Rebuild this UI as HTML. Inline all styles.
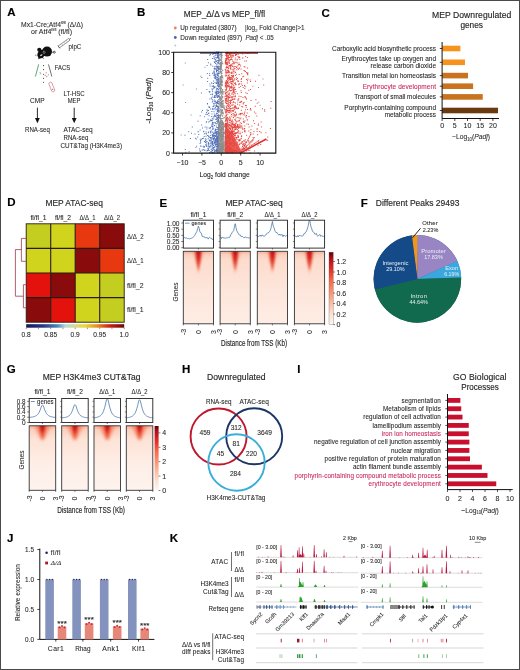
<!DOCTYPE html>
<html><head><meta charset="utf-8"><style>
html,body{margin:0;padding:0;background:#fff;}
svg{display:block;will-change:transform;font-family:"Liberation Sans", sans-serif;}
</style></head><body>
<svg width="520" height="670" viewBox="0 0 520 670" font-family="Liberation Sans, sans-serif" fill="#262626">
<rect x="0.00" y="0.00" width="520.00" height="670.00" fill="#fff" />
<text x="7.2" y="16.0" font-size="11.5" fill="#000" font-weight="bold"  stroke="#000" stroke-width="0.15">A</text>
<text x="21" y="26.5" font-size="6.9" fill="#2b2b2b" textLength="62" lengthAdjust="spacingAndGlyphs" stroke="#2b2b2b" stroke-width="0.08">Mx1-Cre;Atf4<tspan font-size="3.8" dy="-2.6">fl/fl</tspan><tspan dy="2.6"> (Δ/Δ)</tspan></text>
<text x="31" y="33.5" font-size="6.9" fill="#2b2b2b" textLength="41" lengthAdjust="spacingAndGlyphs" stroke="#2b2b2b" stroke-width="0.08">or Atf4<tspan font-size="3.8" dy="-2.6">fl/fl</tspan><tspan dy="2.6"> (fl/fl)</tspan></text>
<circle cx="47.0" cy="51.6" r="5.0" fill="#111"/>
<ellipse cx="41.2" cy="54.0" rx="3.6" ry="4.3" fill="#111" transform="rotate(25 41.2 54)"/>
<circle cx="39.3" cy="49.8" r="2.1" fill="#111"/>
<path d="M38.5,55 L38.3,59.3 L42,57.5 Z" fill="#111" />
<ellipse cx="41.3" cy="55.2" rx="1.3" ry="0.7" fill="#ddd" transform="rotate(-30 41.3 55.2)"/>
<path d="M44,50.8 l1.3,1.3 l-1,1.6 l-1.4,-1.2 z" fill="none" stroke="#ddd" stroke-width="0.5" />
<circle cx="54.3" cy="52.2" r="1.0" fill="none" stroke="#111" stroke-width="0.7"/>
<line x1="52.00" y1="52.20" x2="53.30" y2="52.20" stroke="#111" stroke-width="0.6" />
<circle cx="35.8" cy="55.3" r="0.9" fill="#aaa"/>
<circle cx="43.5" cy="58.5" r="0.7" fill="#999"/>
<g transform="translate(64.5,42.8) rotate(-36)"><rect x="-7" y="-1.1" width="13" height="2.2" fill="none" stroke="#777" stroke-width="0.7"/><line x1="6" y1="0" x2="8" y2="0" stroke="#444" stroke-width="0.6"/><line x1="-7" y1="-1.8" x2="-7" y2="1.8" stroke="#444" stroke-width="0.6"/><line x1="-3" y1="-1.1" x2="-3" y2="1.1" stroke="#888" stroke-width="0.4"/><line x1="0" y1="-1.1" x2="0" y2="1.1" stroke="#888" stroke-width="0.4"/><line x1="3" y1="-1.1" x2="3" y2="1.1" stroke="#888" stroke-width="0.4"/></g>
<text x="68.6" y="49.0" font-size="6.9" textLength="12.7" lengthAdjust="spacingAndGlyphs"  stroke="#2b2b2b" stroke-width="0.08">plpC</text>
<text x="54.8" y="70.4" font-size="6.9" textLength="15.3" lengthAdjust="spacingAndGlyphs"  stroke="#2b2b2b" stroke-width="0.08">FACS</text>
<line x1="38.70" y1="64.40" x2="35.40" y2="76.50" stroke="#3a8a5a" stroke-width="0.8" />
<line x1="48.50" y1="64.40" x2="51.80" y2="76.50" stroke="#333" stroke-width="0.7" />
<circle cx="43.6" cy="65.6" r="0.55" fill="#222"/>
<circle cx="43.6" cy="69.6" r="0.55" fill="#222"/>
<circle cx="43.6" cy="74.2" r="0.55" fill="#222"/>
<circle cx="43.6" cy="78.3" r="0.55" fill="#222"/>
<circle cx="43.6" cy="82.3" r="0.55" fill="#222"/>
<circle cx="46.2" cy="72.8" r="0.55" fill="#c0506a"/>
<circle cx="48.3" cy="74.8" r="0.55" fill="#c0506a"/>
<circle cx="46.8" cy="76.6" r="0.55" fill="#c0506a"/>
<circle cx="45.2" cy="75.2" r="0.55" fill="#c0506a"/>
<path d="M39.5,72.5 l1.5,0.5 l-1,1.5" fill="none" stroke="#3a8a5a" stroke-width="0.5" />
<g transform="translate(51.8,87) rotate(-22)"><rect x="-1.6" y="-5" width="3.2" height="10" rx="1.2" fill="none" stroke="#c07080" stroke-width="0.6"/><circle cx="0" cy="2.6" r="0.6" fill="#c0506a"/></g>
<text x="63.5" y="95.5" font-size="6.9" textLength="21.1" lengthAdjust="spacingAndGlyphs"  stroke="#2b2b2b" stroke-width="0.08">LT-HSC</text>
<text x="30.0" y="102.9" font-size="6.9" textLength="14.5" lengthAdjust="spacingAndGlyphs"  stroke="#2b2b2b" stroke-width="0.08">CMP</text>
<text x="67.7" y="102.9" font-size="6.9" textLength="12.7" lengthAdjust="spacingAndGlyphs"  stroke="#2b2b2b" stroke-width="0.08">MEP</text>
<line x1="37.40" y1="107.70" x2="37.40" y2="119.00" stroke="#111" stroke-width="0.9" />
<path d="M35.0,118 L39.8,118 L37.4,123.2 Z" fill="#111" />
<line x1="74.20" y1="107.70" x2="74.20" y2="119.00" stroke="#111" stroke-width="0.9" />
<path d="M71.8,118 L76.60000000000001,118 L74.2,123.2 Z" fill="#111" />
<text x="25.0" y="132.3" font-size="6.9" textLength="24.8" lengthAdjust="spacingAndGlyphs"  stroke="#2b2b2b" stroke-width="0.08">RNA-seq</text>
<text x="63.5" y="132.3" font-size="6.9" textLength="29.2" lengthAdjust="spacingAndGlyphs"  stroke="#2b2b2b" stroke-width="0.08">ATAC-seq</text>
<text x="63.5" y="140.2" font-size="6.9" textLength="24.8" lengthAdjust="spacingAndGlyphs"  stroke="#2b2b2b" stroke-width="0.08">RNA-seq</text>
<text x="60.5" y="148.3" font-size="6.9" textLength="61.5" lengthAdjust="spacingAndGlyphs"  stroke="#2b2b2b" stroke-width="0.08">CUT&amp;Tag (H3K4me3)</text>
<text x="137.0" y="16.0" font-size="11.5" fill="#000" font-weight="bold"  stroke="#000" stroke-width="0.15">B</text>
<text x="183.8" y="16.7" font-size="8.6" textLength="81.4" lengthAdjust="spacingAndGlyphs"  stroke="#2b2b2b" stroke-width="0.15">MEP_Δ/Δ vs MEP_fl/fl</text>
<circle cx="175.3" cy="28" r="1.4" fill="#f08050"/>
<circle cx="175.3" cy="37.5" r="1.4" fill="#4a64b0"/>
<circle cx="175.3" cy="45.6" r="1.0" fill="#c8c0d8"/>
<text x="180.2" y="30.3" font-size="6.4" textLength="56.5" lengthAdjust="spacing"  stroke="#2b2b2b" stroke-width="0.08">Up regulated (3807)</text>
<text x="180.2" y="39.8" font-size="6.4" textLength="62.0" lengthAdjust="spacing"  stroke="#2b2b2b" stroke-width="0.08">Down regulated (897)</text>
<text x="245" y="30.3" font-size="6.4" fill="#2b2b2b" textLength="59.6" lengthAdjust="spacingAndGlyphs" stroke="#2b2b2b" stroke-width="0.08">|log<tspan font-size="4" dy="1.5">2</tspan><tspan dy="-1.5"> Fold Change|&gt;1</tspan></text>
<text x="245.4" y="39.8" font-size="6.4" fill="#2b2b2b" textLength="28.4" lengthAdjust="spacingAndGlyphs" stroke="#2b2b2b" stroke-width="0.08"><tspan font-style="italic">Padj</tspan> &lt; .05</text>
<g>
<path d="M223.3 145.5h1.0v1.0h-1.0zM219.8 100.3h1.0v1.0h-1.0zM219.4 144.1h1.0v1.0h-1.0zM220.4 149.3h1.0v1.0h-1.0zM219.0 58.2h1.0v1.0h-1.0zM220.3 124.9h1.0v1.0h-1.0zM220.3 93.3h1.0v1.0h-1.0zM221.5 144.8h1.0v1.0h-1.0zM220.2 92.4h1.0v1.0h-1.0zM221.2 74.9h1.0v1.0h-1.0zM219.4 54.0h1.0v1.0h-1.0zM219.5 105.7h1.0v1.0h-1.0zM219.0 126.4h1.0v1.0h-1.0zM218.1 137.1h1.0v1.0h-1.0zM220.5 68.6h1.0v1.0h-1.0zM220.1 115.0h1.0v1.0h-1.0zM221.3 148.5h1.0v1.0h-1.0zM220.0 118.8h1.0v1.0h-1.0zM221.9 92.1h1.0v1.0h-1.0zM219.8 64.2h1.0v1.0h-1.0zM221.0 151.3h1.0v1.0h-1.0zM218.2 127.1h1.0v1.0h-1.0zM219.8 63.6h1.0v1.0h-1.0zM220.7 127.7h1.0v1.0h-1.0zM219.0 143.2h1.0v1.0h-1.0zM221.9 115.7h1.0v1.0h-1.0zM221.4 150.2h1.0v1.0h-1.0zM219.2 71.2h1.0v1.0h-1.0zM221.6 130.6h1.0v1.0h-1.0zM221.2 148.1h1.0v1.0h-1.0zM222.2 151.7h1.0v1.0h-1.0zM220.5 115.0h1.0v1.0h-1.0zM221.7 84.3h1.0v1.0h-1.0zM221.8 149.8h1.0v1.0h-1.0zM220.9 65.0h1.0v1.0h-1.0zM221.7 76.3h1.0v1.0h-1.0zM220.1 147.9h1.0v1.0h-1.0zM222.9 132.0h1.0v1.0h-1.0zM218.0 112.2h1.0v1.0h-1.0zM221.4 138.6h1.0v1.0h-1.0zM218.5 135.1h1.0v1.0h-1.0zM219.5 59.2h1.0v1.0h-1.0zM222.7 118.2h1.0v1.0h-1.0zM220.1 83.4h1.0v1.0h-1.0zM221.0 149.5h1.0v1.0h-1.0zM224.5 136.3h1.0v1.0h-1.0zM219.8 84.0h1.0v1.0h-1.0zM222.6 93.5h1.0v1.0h-1.0zM219.7 79.3h1.0v1.0h-1.0zM220.5 143.9h1.0v1.0h-1.0zM219.0 144.4h1.0v1.0h-1.0zM220.8 78.6h1.0v1.0h-1.0zM220.2 81.9h1.0v1.0h-1.0zM219.6 125.8h1.0v1.0h-1.0zM220.4 51.7h1.0v1.0h-1.0zM223.1 136.3h1.0v1.0h-1.0zM225.1 149.8h1.0v1.0h-1.0zM219.9 96.4h1.0v1.0h-1.0zM222.6 111.7h1.0v1.0h-1.0zM219.3 99.3h1.0v1.0h-1.0zM221.8 151.0h1.0v1.0h-1.0zM220.1 105.5h1.0v1.0h-1.0zM220.9 129.1h1.0v1.0h-1.0zM220.5 126.5h1.0v1.0h-1.0zM219.7 130.0h1.0v1.0h-1.0zM218.6 62.8h1.0v1.0h-1.0zM222.2 148.3h1.0v1.0h-1.0zM220.9 56.3h1.0v1.0h-1.0zM222.2 88.9h1.0v1.0h-1.0zM221.6 76.1h1.0v1.0h-1.0zM219.0 144.4h1.0v1.0h-1.0zM219.4 150.5h1.0v1.0h-1.0zM219.8 86.8h1.0v1.0h-1.0zM220.8 81.8h1.0v1.0h-1.0zM218.4 78.2h1.0v1.0h-1.0zM221.0 144.8h1.0v1.0h-1.0zM221.4 111.7h1.0v1.0h-1.0zM219.5 99.9h1.0v1.0h-1.0zM222.0 136.7h1.0v1.0h-1.0zM224.3 126.0h1.0v1.0h-1.0zM221.2 132.3h1.0v1.0h-1.0zM221.5 120.3h1.0v1.0h-1.0zM220.8 92.1h1.0v1.0h-1.0zM217.6 135.2h1.0v1.0h-1.0zM222.9 147.7h1.0v1.0h-1.0zM220.7 106.2h1.0v1.0h-1.0zM221.8 143.6h1.0v1.0h-1.0zM220.8 78.9h1.0v1.0h-1.0zM220.6 64.2h1.0v1.0h-1.0zM220.2 131.5h1.0v1.0h-1.0zM221.2 127.6h1.0v1.0h-1.0zM221.0 67.4h1.0v1.0h-1.0zM221.5 83.7h1.0v1.0h-1.0zM219.7 79.0h1.0v1.0h-1.0zM219.7 104.3h1.0v1.0h-1.0zM219.6 105.5h1.0v1.0h-1.0zM219.4 88.3h1.0v1.0h-1.0zM220.6 111.9h1.0v1.0h-1.0zM220.5 146.9h1.0v1.0h-1.0zM223.7 124.6h1.0v1.0h-1.0zM221.2 98.3h1.0v1.0h-1.0zM218.0 119.0h1.0v1.0h-1.0zM222.6 144.8h1.0v1.0h-1.0zM220.9 120.4h1.0v1.0h-1.0zM220.6 111.5h1.0v1.0h-1.0zM221.0 110.2h1.0v1.0h-1.0zM221.9 152.2h1.0v1.0h-1.0zM221.8 115.7h1.0v1.0h-1.0zM218.1 150.7h1.0v1.0h-1.0zM223.1 107.6h1.0v1.0h-1.0zM219.6 119.9h1.0v1.0h-1.0zM219.9 87.3h1.0v1.0h-1.0zM220.7 132.5h1.0v1.0h-1.0zM220.7 68.6h1.0v1.0h-1.0zM219.3 118.2h1.0v1.0h-1.0zM218.7 84.5h1.0v1.0h-1.0zM222.3 148.7h1.0v1.0h-1.0zM220.5 125.5h1.0v1.0h-1.0zM219.9 149.2h1.0v1.0h-1.0zM220.8 138.4h1.0v1.0h-1.0zM220.0 84.3h1.0v1.0h-1.0zM221.8 151.5h1.0v1.0h-1.0zM218.0 116.5h1.0v1.0h-1.0zM220.3 66.0h1.0v1.0h-1.0zM222.2 121.1h1.0v1.0h-1.0zM219.8 125.2h1.0v1.0h-1.0zM221.9 103.3h1.0v1.0h-1.0zM221.9 93.3h1.0v1.0h-1.0zM221.1 62.5h1.0v1.0h-1.0zM222.2 146.3h1.0v1.0h-1.0zM218.5 68.2h1.0v1.0h-1.0zM221.4 101.2h1.0v1.0h-1.0zM221.2 124.4h1.0v1.0h-1.0zM223.4 132.1h1.0v1.0h-1.0zM221.4 129.1h1.0v1.0h-1.0zM218.6 111.3h1.0v1.0h-1.0zM220.8 55.7h1.0v1.0h-1.0zM221.5 112.8h1.0v1.0h-1.0zM218.9 59.6h1.0v1.0h-1.0zM221.0 128.4h1.0v1.0h-1.0zM220.7 101.2h1.0v1.0h-1.0zM221.5 145.6h1.0v1.0h-1.0zM222.6 122.7h1.0v1.0h-1.0zM221.0 109.5h1.0v1.0h-1.0zM219.6 62.9h1.0v1.0h-1.0zM222.1 77.0h1.0v1.0h-1.0zM220.1 108.9h1.0v1.0h-1.0zM219.7 121.9h1.0v1.0h-1.0zM219.8 77.1h1.0v1.0h-1.0zM217.1 151.5h1.0v1.0h-1.0zM219.9 86.9h1.0v1.0h-1.0zM220.1 125.3h1.0v1.0h-1.0zM220.8 143.0h1.0v1.0h-1.0zM221.1 101.4h1.0v1.0h-1.0zM219.3 68.8h1.0v1.0h-1.0zM220.2 78.6h1.0v1.0h-1.0zM216.5 151.6h1.0v1.0h-1.0zM221.4 137.9h1.0v1.0h-1.0zM223.9 145.5h1.0v1.0h-1.0zM220.8 104.6h1.0v1.0h-1.0zM219.1 125.2h1.0v1.0h-1.0zM220.4 103.0h1.0v1.0h-1.0zM222.0 123.3h1.0v1.0h-1.0zM219.2 123.1h1.0v1.0h-1.0zM224.5 105.6h1.0v1.0h-1.0zM218.3 57.1h1.0v1.0h-1.0zM219.3 94.1h1.0v1.0h-1.0zM220.2 138.8h1.0v1.0h-1.0zM221.6 83.5h1.0v1.0h-1.0zM220.7 74.3h1.0v1.0h-1.0zM221.2 145.5h1.0v1.0h-1.0zM221.6 140.2h1.0v1.0h-1.0zM222.1 90.4h1.0v1.0h-1.0zM220.4 110.1h1.0v1.0h-1.0zM219.3 149.3h1.0v1.0h-1.0zM214.4 150.5h1.0v1.0h-1.0zM221.2 91.0h1.0v1.0h-1.0zM222.5 131.9h1.0v1.0h-1.0zM221.2 133.7h1.0v1.0h-1.0zM220.0 136.1h1.0v1.0h-1.0zM222.2 75.6h1.0v1.0h-1.0zM221.6 54.9h1.0v1.0h-1.0zM216.4 130.8h1.0v1.0h-1.0zM220.6 130.6h1.0v1.0h-1.0zM220.2 147.2h1.0v1.0h-1.0zM217.2 151.7h1.0v1.0h-1.0zM220.1 63.2h1.0v1.0h-1.0zM221.4 134.0h1.0v1.0h-1.0zM220.8 66.6h1.0v1.0h-1.0zM221.9 124.1h1.0v1.0h-1.0zM219.9 77.9h1.0v1.0h-1.0zM224.1 141.7h1.0v1.0h-1.0zM221.6 82.1h1.0v1.0h-1.0zM220.0 64.9h1.0v1.0h-1.0zM220.7 119.7h1.0v1.0h-1.0zM221.1 65.6h1.0v1.0h-1.0zM219.6 103.2h1.0v1.0h-1.0zM223.3 123.3h1.0v1.0h-1.0zM221.1 103.3h1.0v1.0h-1.0zM221.0 87.9h1.0v1.0h-1.0zM220.9 71.1h1.0v1.0h-1.0zM221.1 124.5h1.0v1.0h-1.0zM221.2 122.3h1.0v1.0h-1.0zM221.7 147.9h1.0v1.0h-1.0zM219.2 109.7h1.0v1.0h-1.0zM220.3 67.3h1.0v1.0h-1.0zM220.4 98.6h1.0v1.0h-1.0zM223.5 143.8h1.0v1.0h-1.0zM222.4 105.7h1.0v1.0h-1.0zM220.3 141.1h1.0v1.0h-1.0zM220.0 129.2h1.0v1.0h-1.0zM220.7 99.6h1.0v1.0h-1.0zM220.4 129.1h1.0v1.0h-1.0zM220.8 124.5h1.0v1.0h-1.0zM218.4 115.5h1.0v1.0h-1.0zM220.3 135.1h1.0v1.0h-1.0zM221.1 57.5h1.0v1.0h-1.0zM219.1 68.4h1.0v1.0h-1.0zM220.0 54.1h1.0v1.0h-1.0zM220.4 59.1h1.0v1.0h-1.0zM222.4 104.1h1.0v1.0h-1.0zM219.6 86.3h1.0v1.0h-1.0zM218.4 96.6h1.0v1.0h-1.0zM222.6 151.8h1.0v1.0h-1.0zM219.8 114.2h1.0v1.0h-1.0zM222.5 134.6h1.0v1.0h-1.0zM220.2 53.3h1.0v1.0h-1.0zM220.8 56.1h1.0v1.0h-1.0zM219.9 142.8h1.0v1.0h-1.0zM223.5 125.6h1.0v1.0h-1.0zM220.1 143.9h1.0v1.0h-1.0zM218.9 60.2h1.0v1.0h-1.0zM219.0 97.6h1.0v1.0h-1.0zM221.4 83.8h1.0v1.0h-1.0zM220.2 123.5h1.0v1.0h-1.0zM222.0 147.6h1.0v1.0h-1.0zM219.1 138.2h1.0v1.0h-1.0zM221.8 129.1h1.0v1.0h-1.0zM222.2 128.3h1.0v1.0h-1.0zM220.7 73.1h1.0v1.0h-1.0zM222.2 152.4h1.0v1.0h-1.0zM220.6 68.8h1.0v1.0h-1.0zM219.0 85.7h1.0v1.0h-1.0zM219.7 138.6h1.0v1.0h-1.0zM220.3 136.5h1.0v1.0h-1.0zM220.9 91.2h1.0v1.0h-1.0zM222.6 136.0h1.0v1.0h-1.0zM221.3 150.7h1.0v1.0h-1.0zM220.3 54.0h1.0v1.0h-1.0zM220.8 102.5h1.0v1.0h-1.0zM219.4 64.1h1.0v1.0h-1.0zM221.0 54.1h1.0v1.0h-1.0zM221.0 143.3h1.0v1.0h-1.0zM219.0 101.2h1.0v1.0h-1.0zM221.0 92.4h1.0v1.0h-1.0zM219.5 96.1h1.0v1.0h-1.0zM221.5 92.5h1.0v1.0h-1.0zM222.1 110.2h1.0v1.0h-1.0zM220.3 144.6h1.0v1.0h-1.0zM220.4 118.1h1.0v1.0h-1.0zM218.2 129.5h1.0v1.0h-1.0zM219.5 87.6h1.0v1.0h-1.0zM219.2 55.3h1.0v1.0h-1.0zM221.8 147.3h1.0v1.0h-1.0zM221.3 57.4h1.0v1.0h-1.0zM217.6 130.5h1.0v1.0h-1.0zM219.7 116.9h1.0v1.0h-1.0zM222.3 114.8h1.0v1.0h-1.0zM220.5 133.8h1.0v1.0h-1.0zM218.7 132.4h1.0v1.0h-1.0zM218.9 126.8h1.0v1.0h-1.0zM221.2 143.2h1.0v1.0h-1.0zM221.4 61.0h1.0v1.0h-1.0zM219.9 71.6h1.0v1.0h-1.0zM219.3 65.9h1.0v1.0h-1.0zM222.6 141.6h1.0v1.0h-1.0zM221.3 52.9h1.0v1.0h-1.0zM220.3 82.7h1.0v1.0h-1.0zM220.2 53.2h1.0v1.0h-1.0zM223.3 144.3h1.0v1.0h-1.0zM219.4 122.2h1.0v1.0h-1.0zM221.5 111.4h1.0v1.0h-1.0zM220.8 151.9h1.0v1.0h-1.0zM218.2 101.0h1.0v1.0h-1.0zM220.6 59.2h1.0v1.0h-1.0zM218.9 84.9h1.0v1.0h-1.0zM218.5 148.6h1.0v1.0h-1.0zM219.3 81.8h1.0v1.0h-1.0zM222.4 78.2h1.0v1.0h-1.0zM223.3 152.3h1.0v1.0h-1.0zM218.6 117.4h1.0v1.0h-1.0zM218.6 134.9h1.0v1.0h-1.0zM218.4 127.1h1.0v1.0h-1.0zM221.7 142.6h1.0v1.0h-1.0zM221.6 99.7h1.0v1.0h-1.0zM218.8 146.4h1.0v1.0h-1.0zM216.9 140.7h1.0v1.0h-1.0zM217.1 143.0h1.0v1.0h-1.0zM216.9 139.3h1.0v1.0h-1.0zM221.1 113.6h1.0v1.0h-1.0zM219.4 125.4h1.0v1.0h-1.0zM220.7 147.8h1.0v1.0h-1.0zM221.8 142.3h1.0v1.0h-1.0zM219.3 68.1h1.0v1.0h-1.0zM221.2 139.8h1.0v1.0h-1.0zM224.0 149.5h1.0v1.0h-1.0zM218.8 125.4h1.0v1.0h-1.0zM220.6 148.5h1.0v1.0h-1.0zM222.4 90.6h1.0v1.0h-1.0zM221.0 109.7h1.0v1.0h-1.0zM223.2 146.5h1.0v1.0h-1.0zM218.4 104.4h1.0v1.0h-1.0zM221.3 54.1h1.0v1.0h-1.0zM220.7 101.9h1.0v1.0h-1.0zM220.3 89.3h1.0v1.0h-1.0zM222.8 100.3h1.0v1.0h-1.0zM220.3 125.8h1.0v1.0h-1.0zM223.1 152.3h1.0v1.0h-1.0zM220.5 87.0h1.0v1.0h-1.0zM221.5 132.5h1.0v1.0h-1.0zM219.6 141.9h1.0v1.0h-1.0zM220.1 72.1h1.0v1.0h-1.0zM220.4 60.1h1.0v1.0h-1.0zM220.5 88.8h1.0v1.0h-1.0zM224.0 107.6h1.0v1.0h-1.0zM221.0 107.1h1.0v1.0h-1.0zM216.7 127.0h1.0v1.0h-1.0zM219.0 87.7h1.0v1.0h-1.0zM224.7 121.0h1.0v1.0h-1.0zM222.8 133.0h1.0v1.0h-1.0zM221.7 55.2h1.0v1.0h-1.0zM218.3 68.1h1.0v1.0h-1.0zM220.9 138.6h1.0v1.0h-1.0zM221.9 89.4h1.0v1.0h-1.0zM221.4 57.3h1.0v1.0h-1.0zM219.6 85.4h1.0v1.0h-1.0zM222.2 138.9h1.0v1.0h-1.0zM222.1 128.7h1.0v1.0h-1.0zM222.3 150.4h1.0v1.0h-1.0zM219.9 96.8h1.0v1.0h-1.0zM220.7 71.7h1.0v1.0h-1.0zM220.2 71.0h1.0v1.0h-1.0zM221.8 134.7h1.0v1.0h-1.0zM223.4 117.0h1.0v1.0h-1.0zM218.5 122.3h1.0v1.0h-1.0zM222.9 102.8h1.0v1.0h-1.0zM218.9 122.8h1.0v1.0h-1.0zM219.4 111.3h1.0v1.0h-1.0zM221.8 62.6h1.0v1.0h-1.0zM220.7 118.3h1.0v1.0h-1.0zM220.4 62.9h1.0v1.0h-1.0zM221.4 77.0h1.0v1.0h-1.0zM220.7 118.1h1.0v1.0h-1.0zM221.3 136.2h1.0v1.0h-1.0zM223.6 107.3h1.0v1.0h-1.0zM218.5 124.2h1.0v1.0h-1.0zM219.3 92.1h1.0v1.0h-1.0zM221.2 151.5h1.0v1.0h-1.0zM219.6 80.7h1.0v1.0h-1.0zM219.6 107.5h1.0v1.0h-1.0zM219.4 103.9h1.0v1.0h-1.0zM222.3 63.3h1.0v1.0h-1.0zM222.7 104.4h1.0v1.0h-1.0zM220.3 102.5h1.0v1.0h-1.0zM221.5 146.2h1.0v1.0h-1.0zM222.5 142.4h1.0v1.0h-1.0zM222.1 96.5h1.0v1.0h-1.0zM219.0 101.6h1.0v1.0h-1.0zM220.9 147.8h1.0v1.0h-1.0zM219.8 148.8h1.0v1.0h-1.0zM222.6 148.8h1.0v1.0h-1.0zM220.7 147.2h1.0v1.0h-1.0zM220.3 81.4h1.0v1.0h-1.0zM218.8 84.0h1.0v1.0h-1.0zM218.7 132.5h1.0v1.0h-1.0zM219.2 149.0h1.0v1.0h-1.0zM221.6 102.4h1.0v1.0h-1.0zM219.0 150.1h1.0v1.0h-1.0zM219.8 103.9h1.0v1.0h-1.0zM220.8 150.4h1.0v1.0h-1.0zM219.9 133.4h1.0v1.0h-1.0zM220.8 107.3h1.0v1.0h-1.0zM222.8 100.4h1.0v1.0h-1.0zM219.4 137.4h1.0v1.0h-1.0zM220.8 103.1h1.0v1.0h-1.0zM219.7 97.4h1.0v1.0h-1.0zM220.8 128.0h1.0v1.0h-1.0zM218.6 148.5h1.0v1.0h-1.0zM218.6 116.4h1.0v1.0h-1.0zM221.2 104.1h1.0v1.0h-1.0zM222.0 145.7h1.0v1.0h-1.0zM218.3 149.8h1.0v1.0h-1.0zM217.9 148.6h1.0v1.0h-1.0zM218.1 117.0h1.0v1.0h-1.0zM219.1 151.3h1.0v1.0h-1.0zM225.4 137.5h1.0v1.0h-1.0zM218.0 138.2h1.0v1.0h-1.0zM222.6 126.4h1.0v1.0h-1.0zM218.1 114.2h1.0v1.0h-1.0zM222.1 100.7h1.0v1.0h-1.0zM218.9 134.2h1.0v1.0h-1.0zM222.8 135.6h1.0v1.0h-1.0zM220.0 99.7h1.0v1.0h-1.0zM224.6 130.3h1.0v1.0h-1.0zM221.9 100.9h1.0v1.0h-1.0zM221.5 109.7h1.0v1.0h-1.0zM220.9 97.9h1.0v1.0h-1.0zM218.1 126.1h1.0v1.0h-1.0zM219.8 148.0h1.0v1.0h-1.0zM221.7 118.1h1.0v1.0h-1.0zM218.8 122.4h1.0v1.0h-1.0zM220.3 104.7h1.0v1.0h-1.0zM219.6 69.0h1.0v1.0h-1.0zM221.4 124.4h1.0v1.0h-1.0zM223.8 108.5h1.0v1.0h-1.0zM220.1 150.8h1.0v1.0h-1.0zM221.4 121.1h1.0v1.0h-1.0zM219.9 85.4h1.0v1.0h-1.0zM220.9 152.2h1.0v1.0h-1.0zM218.6 121.1h1.0v1.0h-1.0zM221.8 97.0h1.0v1.0h-1.0zM221.4 130.8h1.0v1.0h-1.0zM224.5 109.2h1.0v1.0h-1.0zM222.3 122.5h1.0v1.0h-1.0zM220.6 113.8h1.0v1.0h-1.0zM222.1 109.2h1.0v1.0h-1.0zM220.8 68.7h1.0v1.0h-1.0zM220.6 64.5h1.0v1.0h-1.0zM221.9 91.3h1.0v1.0h-1.0zM216.9 144.0h1.0v1.0h-1.0zM218.1 96.6h1.0v1.0h-1.0zM220.5 129.4h1.0v1.0h-1.0zM222.6 138.5h1.0v1.0h-1.0zM220.7 52.1h1.0v1.0h-1.0zM223.2 129.1h1.0v1.0h-1.0zM220.7 55.6h1.0v1.0h-1.0zM220.4 145.1h1.0v1.0h-1.0zM222.5 135.9h1.0v1.0h-1.0zM221.1 76.3h1.0v1.0h-1.0zM220.8 81.7h1.0v1.0h-1.0zM224.5 131.4h1.0v1.0h-1.0zM221.0 128.7h1.0v1.0h-1.0zM221.8 143.2h1.0v1.0h-1.0zM221.5 151.7h1.0v1.0h-1.0zM217.4 142.4h1.0v1.0h-1.0zM217.9 145.5h1.0v1.0h-1.0zM218.2 134.2h1.0v1.0h-1.0zM220.4 75.9h1.0v1.0h-1.0zM221.2 84.1h1.0v1.0h-1.0zM222.7 106.8h1.0v1.0h-1.0zM216.3 141.6h1.0v1.0h-1.0zM220.0 120.9h1.0v1.0h-1.0zM225.1 149.4h1.0v1.0h-1.0zM225.8 147.4h1.0v1.0h-1.0zM221.5 85.0h1.0v1.0h-1.0zM223.6 91.1h1.0v1.0h-1.0zM219.7 123.3h1.0v1.0h-1.0zM218.4 110.5h1.0v1.0h-1.0zM220.4 89.1h1.0v1.0h-1.0zM220.9 75.4h1.0v1.0h-1.0zM222.6 112.7h1.0v1.0h-1.0zM221.8 103.5h1.0v1.0h-1.0zM221.0 85.5h1.0v1.0h-1.0zM220.5 58.8h1.0v1.0h-1.0zM216.8 120.0h1.0v1.0h-1.0zM220.6 73.1h1.0v1.0h-1.0zM217.5 141.5h1.0v1.0h-1.0zM219.5 84.7h1.0v1.0h-1.0zM219.3 134.7h1.0v1.0h-1.0zM221.4 71.6h1.0v1.0h-1.0zM221.6 106.1h1.0v1.0h-1.0zM220.7 138.7h1.0v1.0h-1.0zM219.2 66.4h1.0v1.0h-1.0zM220.6 90.6h1.0v1.0h-1.0zM222.6 102.5h1.0v1.0h-1.0zM221.8 104.7h1.0v1.0h-1.0zM221.7 113.0h1.0v1.0h-1.0zM219.9 115.9h1.0v1.0h-1.0zM219.6 86.5h1.0v1.0h-1.0zM221.0 80.7h1.0v1.0h-1.0zM223.3 148.6h1.0v1.0h-1.0zM220.2 129.2h1.0v1.0h-1.0zM221.5 128.6h1.0v1.0h-1.0zM222.1 80.7h1.0v1.0h-1.0zM219.6 90.2h1.0v1.0h-1.0zM220.3 70.8h1.0v1.0h-1.0zM218.5 91.5h1.0v1.0h-1.0zM219.4 82.8h1.0v1.0h-1.0zM218.2 84.2h1.0v1.0h-1.0zM220.2 145.9h1.0v1.0h-1.0zM221.8 82.1h1.0v1.0h-1.0zM221.0 64.4h1.0v1.0h-1.0zM220.7 72.8h1.0v1.0h-1.0zM221.6 150.0h1.0v1.0h-1.0zM218.4 108.5h1.0v1.0h-1.0zM218.5 137.3h1.0v1.0h-1.0zM220.8 52.9h1.0v1.0h-1.0zM217.0 121.4h1.0v1.0h-1.0zM220.1 52.1h1.0v1.0h-1.0zM219.7 90.0h1.0v1.0h-1.0zM220.2 121.7h1.0v1.0h-1.0zM219.1 115.1h1.0v1.0h-1.0zM220.6 122.6h1.0v1.0h-1.0zM223.6 96.4h1.0v1.0h-1.0zM220.7 104.9h1.0v1.0h-1.0zM220.2 56.5h1.0v1.0h-1.0zM221.7 150.7h1.0v1.0h-1.0zM221.3 134.5h1.0v1.0h-1.0zM217.2 123.3h1.0v1.0h-1.0zM224.7 126.3h1.0v1.0h-1.0zM220.4 132.3h1.0v1.0h-1.0zM218.0 138.8h1.0v1.0h-1.0zM215.8 118.9h1.0v1.0h-1.0zM221.5 79.7h1.0v1.0h-1.0zM221.7 110.4h1.0v1.0h-1.0zM225.1 134.6h1.0v1.0h-1.0zM218.5 103.1h1.0v1.0h-1.0zM223.2 133.6h1.0v1.0h-1.0zM222.5 134.8h1.0v1.0h-1.0zM219.2 77.6h1.0v1.0h-1.0zM223.4 126.8h1.0v1.0h-1.0zM220.1 69.5h1.0v1.0h-1.0zM219.1 85.8h1.0v1.0h-1.0zM221.1 79.2h1.0v1.0h-1.0zM218.0 121.1h1.0v1.0h-1.0zM220.5 151.3h1.0v1.0h-1.0zM220.5 96.8h1.0v1.0h-1.0zM221.4 109.3h1.0v1.0h-1.0zM221.0 151.5h1.0v1.0h-1.0zM221.4 150.0h1.0v1.0h-1.0zM216.8 123.3h1.0v1.0h-1.0zM219.9 149.5h1.0v1.0h-1.0zM220.4 59.6h1.0v1.0h-1.0zM220.9 135.0h1.0v1.0h-1.0zM219.5 152.5h1.0v1.0h-1.0zM223.1 100.2h1.0v1.0h-1.0zM220.0 99.5h1.0v1.0h-1.0zM221.0 98.9h1.0v1.0h-1.0zM221.5 94.3h1.0v1.0h-1.0zM221.1 138.6h1.0v1.0h-1.0zM218.5 136.9h1.0v1.0h-1.0zM219.8 133.3h1.0v1.0h-1.0zM220.8 77.3h1.0v1.0h-1.0zM219.8 70.5h1.0v1.0h-1.0zM221.7 120.1h1.0v1.0h-1.0zM223.4 105.5h1.0v1.0h-1.0zM220.7 58.6h1.0v1.0h-1.0zM220.7 80.8h1.0v1.0h-1.0zM217.7 140.8h1.0v1.0h-1.0zM220.2 135.7h1.0v1.0h-1.0zM220.1 62.3h1.0v1.0h-1.0zM221.6 112.7h1.0v1.0h-1.0zM220.0 54.3h1.0v1.0h-1.0zM219.9 141.5h1.0v1.0h-1.0zM219.8 132.5h1.0v1.0h-1.0zM221.6 81.3h1.0v1.0h-1.0zM218.5 144.6h1.0v1.0h-1.0zM219.3 129.2h1.0v1.0h-1.0zM219.2 80.6h1.0v1.0h-1.0zM221.4 96.1h1.0v1.0h-1.0zM219.7 66.9h1.0v1.0h-1.0zM220.7 87.4h1.0v1.0h-1.0zM221.2 63.5h1.0v1.0h-1.0zM217.8 143.5h1.0v1.0h-1.0zM221.0 124.7h1.0v1.0h-1.0zM220.8 76.6h1.0v1.0h-1.0zM220.1 91.3h1.0v1.0h-1.0zM222.6 144.5h1.0v1.0h-1.0zM215.0 122.3h1.0v1.0h-1.0zM221.0 95.0h1.0v1.0h-1.0zM221.5 98.0h1.0v1.0h-1.0zM221.5 52.0h1.0v1.0h-1.0zM221.4 69.3h1.0v1.0h-1.0zM221.5 84.1h1.0v1.0h-1.0zM219.4 148.8h1.0v1.0h-1.0zM220.9 61.4h1.0v1.0h-1.0zM220.3 130.9h1.0v1.0h-1.0zM220.8 96.6h1.0v1.0h-1.0zM221.1 77.0h1.0v1.0h-1.0zM220.2 83.8h1.0v1.0h-1.0zM219.9 90.1h1.0v1.0h-1.0zM219.5 97.7h1.0v1.0h-1.0zM220.5 87.6h1.0v1.0h-1.0zM220.7 152.3h1.0v1.0h-1.0zM219.0 97.9h1.0v1.0h-1.0zM218.2 106.0h1.0v1.0h-1.0zM220.8 132.0h1.0v1.0h-1.0zM220.9 136.7h1.0v1.0h-1.0zM218.3 130.5h1.0v1.0h-1.0zM220.2 66.4h1.0v1.0h-1.0zM220.1 145.9h1.0v1.0h-1.0zM223.3 147.3h1.0v1.0h-1.0zM222.2 70.1h1.0v1.0h-1.0zM219.5 111.5h1.0v1.0h-1.0zM224.2 132.7h1.0v1.0h-1.0zM220.8 54.5h1.0v1.0h-1.0zM221.9 106.9h1.0v1.0h-1.0zM224.2 149.8h1.0v1.0h-1.0zM217.9 143.5h1.0v1.0h-1.0zM220.0 83.3h1.0v1.0h-1.0zM221.0 100.9h1.0v1.0h-1.0zM220.1 81.4h1.0v1.0h-1.0zM220.1 90.2h1.0v1.0h-1.0zM217.9 103.3h1.0v1.0h-1.0zM219.0 72.7h1.0v1.0h-1.0zM219.8 80.5h1.0v1.0h-1.0zM218.7 116.9h1.0v1.0h-1.0zM220.1 127.6h1.0v1.0h-1.0zM224.6 117.3h1.0v1.0h-1.0zM219.7 89.3h1.0v1.0h-1.0zM218.6 120.9h1.0v1.0h-1.0zM220.3 52.2h1.0v1.0h-1.0zM217.9 120.0h1.0v1.0h-1.0zM218.1 135.8h1.0v1.0h-1.0zM220.9 82.5h1.0v1.0h-1.0zM221.3 132.1h1.0v1.0h-1.0zM221.2 62.0h1.0v1.0h-1.0zM220.8 62.9h1.0v1.0h-1.0zM220.1 84.1h1.0v1.0h-1.0zM221.8 148.7h1.0v1.0h-1.0zM218.7 136.5h1.0v1.0h-1.0zM221.2 59.8h1.0v1.0h-1.0zM217.4 96.6h1.0v1.0h-1.0zM223.2 92.3h1.0v1.0h-1.0zM219.3 146.0h1.0v1.0h-1.0zM221.3 110.8h1.0v1.0h-1.0zM220.5 131.2h1.0v1.0h-1.0zM221.9 127.4h1.0v1.0h-1.0zM219.4 60.5h1.0v1.0h-1.0zM221.0 122.4h1.0v1.0h-1.0zM221.5 135.6h1.0v1.0h-1.0zM220.9 58.3h1.0v1.0h-1.0zM217.7 144.2h1.0v1.0h-1.0zM223.4 142.5h1.0v1.0h-1.0zM220.4 113.3h1.0v1.0h-1.0zM223.0 123.8h1.0v1.0h-1.0zM221.1 124.7h1.0v1.0h-1.0zM219.5 90.4h1.0v1.0h-1.0zM218.7 150.7h1.0v1.0h-1.0zM220.2 149.4h1.0v1.0h-1.0zM217.3 106.2h1.0v1.0h-1.0zM221.1 140.8h1.0v1.0h-1.0zM219.6 145.4h1.0v1.0h-1.0zM221.4 94.4h1.0v1.0h-1.0zM219.3 102.0h1.0v1.0h-1.0zM219.8 145.7h1.0v1.0h-1.0zM217.9 119.5h1.0v1.0h-1.0zM218.5 152.2h1.0v1.0h-1.0zM220.3 98.2h1.0v1.0h-1.0zM219.8 121.5h1.0v1.0h-1.0zM218.8 127.3h1.0v1.0h-1.0zM218.9 144.4h1.0v1.0h-1.0zM220.4 80.0h1.0v1.0h-1.0zM218.2 114.5h1.0v1.0h-1.0zM223.9 145.5h1.0v1.0h-1.0zM220.1 140.0h1.0v1.0h-1.0zM215.9 121.0h1.0v1.0h-1.0zM222.1 96.2h1.0v1.0h-1.0zM216.4 151.5h1.0v1.0h-1.0zM220.5 58.5h1.0v1.0h-1.0zM221.4 72.9h1.0v1.0h-1.0zM221.0 92.1h1.0v1.0h-1.0zM221.8 85.2h1.0v1.0h-1.0zM222.7 144.2h1.0v1.0h-1.0zM220.0 117.7h1.0v1.0h-1.0zM219.5 81.9h1.0v1.0h-1.0zM220.4 52.9h1.0v1.0h-1.0zM219.0 96.5h1.0v1.0h-1.0zM220.7 146.6h1.0v1.0h-1.0zM219.0 133.2h1.0v1.0h-1.0zM222.0 137.7h1.0v1.0h-1.0zM220.3 119.0h1.0v1.0h-1.0zM220.2 64.2h1.0v1.0h-1.0zM219.9 80.6h1.0v1.0h-1.0zM221.4 84.6h1.0v1.0h-1.0zM220.2 56.5h1.0v1.0h-1.0zM220.7 64.8h1.0v1.0h-1.0zM222.7 127.9h1.0v1.0h-1.0zM221.8 121.8h1.0v1.0h-1.0zM219.6 76.2h1.0v1.0h-1.0zM221.1 137.3h1.0v1.0h-1.0zM223.0 149.0h1.0v1.0h-1.0zM220.3 150.9h1.0v1.0h-1.0zM216.7 143.8h1.0v1.0h-1.0zM219.9 62.1h1.0v1.0h-1.0zM219.9 67.9h1.0v1.0h-1.0zM220.5 87.7h1.0v1.0h-1.0zM224.2 117.2h1.0v1.0h-1.0zM221.6 126.6h1.0v1.0h-1.0zM219.7 101.9h1.0v1.0h-1.0zM221.2 52.0h1.0v1.0h-1.0zM218.1 135.2h1.0v1.0h-1.0zM219.7 139.7h1.0v1.0h-1.0zM221.6 135.9h1.0v1.0h-1.0zM219.9 146.5h1.0v1.0h-1.0zM223.6 131.9h1.0v1.0h-1.0zM222.8 113.2h1.0v1.0h-1.0zM217.8 117.1h1.0v1.0h-1.0zM221.0 104.5h1.0v1.0h-1.0zM218.1 152.3h1.0v1.0h-1.0zM233.9 88.7h1.0v1.0h-1.0zM203.2 148.9h1.0v1.0h-1.0zM208.4 142.9h1.0v1.0h-1.0zM236.7 62.7h1.0v1.0h-1.0zM204.5 66.8h1.0v1.0h-1.0zM229.5 141.7h1.0v1.0h-1.0zM184.8 62.5h1.0v1.0h-1.0zM182.7 84.6h1.0v1.0h-1.0zM195.3 147.1h1.0v1.0h-1.0zM251.3 144.5h1.0v1.0h-1.0zM233.3 133.9h1.0v1.0h-1.0zM245.2 86.3h1.0v1.0h-1.0zM240.0 86.0h1.0v1.0h-1.0zM200.3 75.7h1.0v1.0h-1.0zM258.3 101.7h1.0v1.0h-1.0zM196.0 88.6h1.0v1.0h-1.0zM205.8 140.7h1.0v1.0h-1.0zM264.3 111.1h1.0v1.0h-1.0zM252.3 85.8h1.0v1.0h-1.0zM190.6 114.4h1.0v1.0h-1.0zM185.1 102.1h1.0v1.0h-1.0zM237.0 129.1h1.0v1.0h-1.0zM262.5 78.4h1.0v1.0h-1.0zM259.6 104.7h1.0v1.0h-1.0zM237.3 101.6h1.0v1.0h-1.0zM258.0 87.0h1.0v1.0h-1.0zM180.7 134.6h1.0v1.0h-1.0z" fill="#8e8e8e" />
<path d="M213.0 82.9h1.0v1.0h-1.0zM216.1 137.0h1.0v1.0h-1.0zM214.1 86.3h1.0v1.0h-1.0zM216.0 82.9h1.0v1.0h-1.0zM217.5 83.5h1.0v1.0h-1.0zM212.9 103.2h1.0v1.0h-1.0zM215.3 75.8h1.0v1.0h-1.0zM213.8 77.3h1.0v1.0h-1.0zM216.6 60.2h1.0v1.0h-1.0zM200.0 145.5h1.0v1.0h-1.0zM217.3 110.9h1.0v1.0h-1.0zM212.3 100.5h1.0v1.0h-1.0zM217.6 70.2h1.0v1.0h-1.0zM206.3 128.5h1.0v1.0h-1.0zM217.7 54.4h1.0v1.0h-1.0zM212.2 141.1h1.0v1.0h-1.0zM214.1 87.2h1.0v1.0h-1.0zM215.7 129.0h1.0v1.0h-1.0zM215.9 69.8h1.0v1.0h-1.0zM218.4 108.3h1.0v1.0h-1.0zM216.6 70.1h1.0v1.0h-1.0zM218.0 110.4h1.0v1.0h-1.0zM206.6 65.0h1.0v1.0h-1.0zM206.7 114.0h1.0v1.0h-1.0zM217.1 109.5h1.0v1.0h-1.0zM213.4 70.5h1.0v1.0h-1.0zM216.6 67.7h1.0v1.0h-1.0zM217.9 91.5h1.0v1.0h-1.0zM217.5 78.5h1.0v1.0h-1.0zM218.5 92.4h1.0v1.0h-1.0zM209.9 108.5h1.0v1.0h-1.0zM212.5 85.8h1.0v1.0h-1.0zM215.5 123.3h1.0v1.0h-1.0zM215.7 82.9h1.0v1.0h-1.0zM216.7 110.5h1.0v1.0h-1.0zM217.8 92.9h1.0v1.0h-1.0zM215.1 59.1h1.0v1.0h-1.0zM211.6 120.1h1.0v1.0h-1.0zM210.9 139.3h1.0v1.0h-1.0zM217.6 53.4h1.0v1.0h-1.0zM209.5 91.2h1.0v1.0h-1.0zM208.5 115.2h1.0v1.0h-1.0zM215.8 131.8h1.0v1.0h-1.0zM213.6 58.1h1.0v1.0h-1.0zM210.4 93.9h1.0v1.0h-1.0zM209.6 85.4h1.0v1.0h-1.0zM217.1 103.0h1.0v1.0h-1.0zM210.7 139.6h1.0v1.0h-1.0zM218.0 81.6h1.0v1.0h-1.0zM209.3 120.7h1.0v1.0h-1.0zM215.3 135.7h1.0v1.0h-1.0zM217.8 68.2h1.0v1.0h-1.0zM217.2 118.3h1.0v1.0h-1.0zM209.1 106.9h1.0v1.0h-1.0zM218.4 73.2h1.0v1.0h-1.0zM206.4 126.7h1.0v1.0h-1.0zM214.8 116.1h1.0v1.0h-1.0zM217.7 57.4h1.0v1.0h-1.0zM212.4 54.1h1.0v1.0h-1.0zM218.5 86.0h1.0v1.0h-1.0zM211.7 85.8h1.0v1.0h-1.0zM216.1 108.8h1.0v1.0h-1.0zM217.1 136.2h1.0v1.0h-1.0zM217.5 106.7h1.0v1.0h-1.0zM210.3 144.6h1.0v1.0h-1.0zM214.4 108.1h1.0v1.0h-1.0zM215.6 95.8h1.0v1.0h-1.0zM209.6 128.3h1.0v1.0h-1.0zM215.4 96.7h1.0v1.0h-1.0zM216.5 54.8h1.0v1.0h-1.0zM191.0 132.8h1.0v1.0h-1.0zM216.5 90.8h1.0v1.0h-1.0zM218.1 124.8h1.0v1.0h-1.0zM212.5 124.1h1.0v1.0h-1.0zM205.3 113.8h1.0v1.0h-1.0zM215.8 89.4h1.0v1.0h-1.0zM213.5 111.2h1.0v1.0h-1.0zM216.6 141.7h1.0v1.0h-1.0zM210.9 97.6h1.0v1.0h-1.0zM213.5 104.9h1.0v1.0h-1.0zM217.0 81.2h1.0v1.0h-1.0zM216.0 91.9h1.0v1.0h-1.0zM218.3 132.8h1.0v1.0h-1.0zM218.1 51.9h1.0v1.0h-1.0zM217.2 61.9h1.0v1.0h-1.0zM205.0 141.9h1.0v1.0h-1.0zM218.3 83.0h1.0v1.0h-1.0zM216.1 66.4h1.0v1.0h-1.0zM208.5 106.7h1.0v1.0h-1.0zM214.8 75.7h1.0v1.0h-1.0zM215.4 77.7h1.0v1.0h-1.0zM215.9 80.4h1.0v1.0h-1.0zM212.4 52.4h1.0v1.0h-1.0zM213.8 101.3h1.0v1.0h-1.0zM206.8 73.0h1.0v1.0h-1.0zM218.1 143.2h1.0v1.0h-1.0zM217.4 121.1h1.0v1.0h-1.0zM204.6 126.5h1.0v1.0h-1.0zM218.1 67.7h1.0v1.0h-1.0zM218.0 120.4h1.0v1.0h-1.0zM205.9 146.0h1.0v1.0h-1.0zM213.7 116.2h1.0v1.0h-1.0zM218.3 115.0h1.0v1.0h-1.0zM218.2 65.7h1.0v1.0h-1.0zM210.7 119.8h1.0v1.0h-1.0zM215.8 113.4h1.0v1.0h-1.0zM215.6 115.2h1.0v1.0h-1.0zM216.3 116.6h1.0v1.0h-1.0zM218.4 151.1h1.0v1.0h-1.0zM210.9 97.7h1.0v1.0h-1.0zM217.2 51.6h1.0v1.0h-1.0zM217.6 96.0h1.0v1.0h-1.0zM216.3 81.9h1.0v1.0h-1.0zM216.4 52.2h1.0v1.0h-1.0zM215.9 103.6h1.0v1.0h-1.0zM218.2 127.1h1.0v1.0h-1.0zM218.2 60.7h1.0v1.0h-1.0zM213.8 61.2h1.0v1.0h-1.0zM214.5 132.5h1.0v1.0h-1.0zM217.5 119.5h1.0v1.0h-1.0zM213.2 53.0h1.0v1.0h-1.0zM212.2 73.2h1.0v1.0h-1.0zM214.0 52.8h1.0v1.0h-1.0zM216.8 53.3h1.0v1.0h-1.0zM207.7 146.1h1.0v1.0h-1.0zM214.1 66.4h1.0v1.0h-1.0zM218.0 86.6h1.0v1.0h-1.0zM210.2 63.6h1.0v1.0h-1.0zM218.4 129.1h1.0v1.0h-1.0zM212.9 128.6h1.0v1.0h-1.0zM199.6 143.0h1.0v1.0h-1.0zM216.3 149.9h1.0v1.0h-1.0zM211.7 125.5h1.0v1.0h-1.0zM188.2 131.2h1.0v1.0h-1.0zM205.9 133.5h1.0v1.0h-1.0zM217.0 87.9h1.0v1.0h-1.0zM216.4 127.1h1.0v1.0h-1.0zM218.0 57.5h1.0v1.0h-1.0zM206.9 149.8h1.0v1.0h-1.0zM214.1 61.9h1.0v1.0h-1.0zM215.3 101.1h1.0v1.0h-1.0zM218.2 106.9h1.0v1.0h-1.0zM216.3 104.7h1.0v1.0h-1.0zM216.1 93.7h1.0v1.0h-1.0zM212.5 143.5h1.0v1.0h-1.0zM213.9 96.2h1.0v1.0h-1.0zM214.9 106.9h1.0v1.0h-1.0zM215.2 114.7h1.0v1.0h-1.0zM207.0 102.9h1.0v1.0h-1.0zM217.3 67.0h1.0v1.0h-1.0zM213.8 103.3h1.0v1.0h-1.0zM217.9 68.2h1.0v1.0h-1.0zM215.4 86.5h1.0v1.0h-1.0zM206.9 103.5h1.0v1.0h-1.0zM216.4 66.4h1.0v1.0h-1.0zM210.4 137.9h1.0v1.0h-1.0zM217.5 122.0h1.0v1.0h-1.0zM207.6 118.7h1.0v1.0h-1.0zM211.5 113.5h1.0v1.0h-1.0zM217.8 109.9h1.0v1.0h-1.0zM214.6 91.5h1.0v1.0h-1.0zM215.7 57.3h1.0v1.0h-1.0zM215.2 53.5h1.0v1.0h-1.0zM218.3 99.3h1.0v1.0h-1.0zM218.2 127.4h1.0v1.0h-1.0zM218.1 75.7h1.0v1.0h-1.0zM217.5 84.4h1.0v1.0h-1.0zM217.1 100.3h1.0v1.0h-1.0zM217.8 118.5h1.0v1.0h-1.0zM211.8 119.6h1.0v1.0h-1.0zM217.5 93.3h1.0v1.0h-1.0zM218.2 134.7h1.0v1.0h-1.0zM217.3 114.9h1.0v1.0h-1.0zM214.9 102.6h1.0v1.0h-1.0zM211.7 52.0h1.0v1.0h-1.0zM206.8 113.7h1.0v1.0h-1.0zM206.5 141.1h1.0v1.0h-1.0zM207.9 62.3h1.0v1.0h-1.0zM205.1 139.9h1.0v1.0h-1.0zM217.6 69.7h1.0v1.0h-1.0zM217.2 65.8h1.0v1.0h-1.0zM217.6 95.6h1.0v1.0h-1.0zM213.7 71.0h1.0v1.0h-1.0zM213.2 122.6h1.0v1.0h-1.0zM207.7 138.2h1.0v1.0h-1.0zM211.8 101.5h1.0v1.0h-1.0zM217.2 105.8h1.0v1.0h-1.0zM217.0 81.3h1.0v1.0h-1.0zM217.6 54.8h1.0v1.0h-1.0zM218.3 91.4h1.0v1.0h-1.0zM215.0 129.6h1.0v1.0h-1.0zM208.7 127.6h1.0v1.0h-1.0zM211.9 128.8h1.0v1.0h-1.0zM218.4 67.5h1.0v1.0h-1.0zM211.4 124.2h1.0v1.0h-1.0zM217.8 146.2h1.0v1.0h-1.0zM217.5 91.1h1.0v1.0h-1.0zM215.3 60.3h1.0v1.0h-1.0zM215.5 73.9h1.0v1.0h-1.0zM206.8 110.5h1.0v1.0h-1.0zM213.3 87.3h1.0v1.0h-1.0zM215.8 123.2h1.0v1.0h-1.0zM217.3 81.4h1.0v1.0h-1.0zM214.9 142.6h1.0v1.0h-1.0zM213.2 80.5h1.0v1.0h-1.0zM213.9 74.3h1.0v1.0h-1.0zM210.4 119.9h1.0v1.0h-1.0zM216.3 88.3h1.0v1.0h-1.0zM217.9 89.5h1.0v1.0h-1.0zM216.5 54.4h1.0v1.0h-1.0zM218.4 128.2h1.0v1.0h-1.0zM218.2 127.2h1.0v1.0h-1.0zM212.0 91.3h1.0v1.0h-1.0zM217.7 78.1h1.0v1.0h-1.0zM217.8 85.8h1.0v1.0h-1.0zM215.2 118.7h1.0v1.0h-1.0zM211.9 108.3h1.0v1.0h-1.0zM215.6 135.9h1.0v1.0h-1.0zM214.0 149.4h1.0v1.0h-1.0zM214.5 82.1h1.0v1.0h-1.0zM218.0 72.9h1.0v1.0h-1.0zM211.8 123.1h1.0v1.0h-1.0zM216.6 88.6h1.0v1.0h-1.0zM216.2 57.3h1.0v1.0h-1.0zM218.1 54.2h1.0v1.0h-1.0zM217.6 85.2h1.0v1.0h-1.0zM214.6 140.5h1.0v1.0h-1.0zM202.0 127.4h1.0v1.0h-1.0zM215.9 102.1h1.0v1.0h-1.0zM215.4 150.6h1.0v1.0h-1.0zM212.8 85.2h1.0v1.0h-1.0zM202.0 109.9h1.0v1.0h-1.0zM184.8 149.0h1.0v1.0h-1.0zM217.5 73.2h1.0v1.0h-1.0zM218.0 52.7h1.0v1.0h-1.0zM217.0 74.4h1.0v1.0h-1.0zM217.2 80.1h1.0v1.0h-1.0zM216.9 137.7h1.0v1.0h-1.0zM216.0 61.1h1.0v1.0h-1.0zM216.9 133.8h1.0v1.0h-1.0zM217.3 137.2h1.0v1.0h-1.0zM208.4 112.5h1.0v1.0h-1.0zM217.7 103.0h1.0v1.0h-1.0zM208.1 113.0h1.0v1.0h-1.0zM213.8 103.4h1.0v1.0h-1.0zM207.1 81.1h1.0v1.0h-1.0zM218.4 94.9h1.0v1.0h-1.0zM217.0 72.7h1.0v1.0h-1.0zM215.6 76.5h1.0v1.0h-1.0zM218.2 61.8h1.0v1.0h-1.0zM214.1 75.5h1.0v1.0h-1.0zM218.4 79.2h1.0v1.0h-1.0zM218.4 54.4h1.0v1.0h-1.0zM203.1 131.3h1.0v1.0h-1.0zM215.9 91.3h1.0v1.0h-1.0zM210.0 119.6h1.0v1.0h-1.0zM211.1 116.1h1.0v1.0h-1.0zM213.1 138.5h1.0v1.0h-1.0zM216.5 79.1h1.0v1.0h-1.0zM214.2 125.3h1.0v1.0h-1.0zM209.4 83.5h1.0v1.0h-1.0zM217.2 72.7h1.0v1.0h-1.0zM215.8 143.8h1.0v1.0h-1.0zM217.0 95.5h1.0v1.0h-1.0zM216.1 70.8h1.0v1.0h-1.0zM210.0 137.1h1.0v1.0h-1.0zM214.4 73.6h1.0v1.0h-1.0zM218.1 114.9h1.0v1.0h-1.0zM215.9 148.4h1.0v1.0h-1.0zM210.3 145.6h1.0v1.0h-1.0zM212.9 86.1h1.0v1.0h-1.0zM217.7 146.6h1.0v1.0h-1.0zM213.5 96.9h1.0v1.0h-1.0zM218.4 150.1h1.0v1.0h-1.0zM213.9 72.4h1.0v1.0h-1.0zM217.6 77.6h1.0v1.0h-1.0zM212.0 121.9h1.0v1.0h-1.0zM217.2 129.0h1.0v1.0h-1.0zM209.3 98.5h1.0v1.0h-1.0zM204.1 116.2h1.0v1.0h-1.0zM191.8 126.4h1.0v1.0h-1.0zM213.7 149.3h1.0v1.0h-1.0zM217.4 144.3h1.0v1.0h-1.0zM213.3 74.7h1.0v1.0h-1.0zM213.6 71.4h1.0v1.0h-1.0zM210.6 130.3h1.0v1.0h-1.0zM209.9 54.1h1.0v1.0h-1.0zM214.4 142.4h1.0v1.0h-1.0zM215.9 94.2h1.0v1.0h-1.0zM217.1 91.5h1.0v1.0h-1.0zM214.0 132.8h1.0v1.0h-1.0zM217.7 101.4h1.0v1.0h-1.0zM216.2 118.5h1.0v1.0h-1.0zM216.2 105.9h1.0v1.0h-1.0zM218.1 82.5h1.0v1.0h-1.0zM214.3 96.9h1.0v1.0h-1.0zM213.7 138.1h1.0v1.0h-1.0zM209.1 91.7h1.0v1.0h-1.0zM213.4 151.7h1.0v1.0h-1.0zM215.5 105.7h1.0v1.0h-1.0zM216.9 77.1h1.0v1.0h-1.0zM217.0 108.2h1.0v1.0h-1.0zM218.2 91.9h1.0v1.0h-1.0zM217.4 146.6h1.0v1.0h-1.0zM212.1 108.7h1.0v1.0h-1.0zM210.2 140.6h1.0v1.0h-1.0zM213.6 68.2h1.0v1.0h-1.0zM216.5 143.7h1.0v1.0h-1.0zM214.4 73.3h1.0v1.0h-1.0zM213.5 135.7h1.0v1.0h-1.0zM217.6 66.8h1.0v1.0h-1.0zM217.8 79.6h1.0v1.0h-1.0zM218.2 52.4h1.0v1.0h-1.0zM216.0 112.8h1.0v1.0h-1.0zM214.5 56.7h1.0v1.0h-1.0zM215.3 93.2h1.0v1.0h-1.0zM215.6 77.6h1.0v1.0h-1.0zM217.2 102.1h1.0v1.0h-1.0zM218.0 67.7h1.0v1.0h-1.0zM217.4 59.9h1.0v1.0h-1.0zM218.4 96.1h1.0v1.0h-1.0zM216.8 126.9h1.0v1.0h-1.0zM215.6 79.2h1.0v1.0h-1.0zM217.4 53.1h1.0v1.0h-1.0zM199.7 115.3h1.0v1.0h-1.0zM217.4 62.6h1.0v1.0h-1.0zM216.3 137.3h1.0v1.0h-1.0zM207.2 77.8h1.0v1.0h-1.0zM215.0 52.4h1.0v1.0h-1.0zM218.0 71.5h1.0v1.0h-1.0zM211.9 93.5h1.0v1.0h-1.0zM214.8 128.4h1.0v1.0h-1.0zM216.3 117.3h1.0v1.0h-1.0zM217.0 56.1h1.0v1.0h-1.0zM209.3 75.1h1.0v1.0h-1.0zM207.9 109.9h1.0v1.0h-1.0zM217.9 59.9h1.0v1.0h-1.0zM217.4 110.4h1.0v1.0h-1.0zM199.6 129.5h1.0v1.0h-1.0zM206.5 109.2h1.0v1.0h-1.0zM217.8 89.1h1.0v1.0h-1.0zM215.5 104.9h1.0v1.0h-1.0zM218.0 116.4h1.0v1.0h-1.0zM216.9 140.5h1.0v1.0h-1.0zM218.5 56.8h1.0v1.0h-1.0zM214.4 61.9h1.0v1.0h-1.0zM211.1 120.3h1.0v1.0h-1.0zM211.9 58.1h1.0v1.0h-1.0zM216.9 102.0h1.0v1.0h-1.0zM211.0 82.6h1.0v1.0h-1.0zM217.0 113.2h1.0v1.0h-1.0zM218.2 107.4h1.0v1.0h-1.0zM214.6 66.2h1.0v1.0h-1.0zM217.0 101.6h1.0v1.0h-1.0zM216.4 69.0h1.0v1.0h-1.0zM217.0 114.9h1.0v1.0h-1.0zM213.9 114.9h1.0v1.0h-1.0zM218.3 68.9h1.0v1.0h-1.0zM212.7 88.2h1.0v1.0h-1.0zM215.5 92.4h1.0v1.0h-1.0zM217.4 100.9h1.0v1.0h-1.0zM217.8 86.1h1.0v1.0h-1.0zM213.5 70.6h1.0v1.0h-1.0zM197.5 120.7h1.0v1.0h-1.0zM211.8 108.4h1.0v1.0h-1.0zM213.2 118.6h1.0v1.0h-1.0zM215.2 129.9h1.0v1.0h-1.0zM217.5 115.3h1.0v1.0h-1.0zM217.8 73.6h1.0v1.0h-1.0zM213.9 113.5h1.0v1.0h-1.0zM216.2 125.6h1.0v1.0h-1.0zM215.1 91.8h1.0v1.0h-1.0zM208.6 106.0h1.0v1.0h-1.0zM216.3 63.7h1.0v1.0h-1.0zM200.9 92.5h1.0v1.0h-1.0zM217.0 57.1h1.0v1.0h-1.0zM203.7 135.9h1.0v1.0h-1.0zM214.0 95.3h1.0v1.0h-1.0zM206.1 121.3h1.0v1.0h-1.0zM216.0 51.5h1.0v1.0h-1.0zM214.8 100.6h1.0v1.0h-1.0zM215.2 122.5h1.0v1.0h-1.0zM211.4 82.8h1.0v1.0h-1.0zM207.1 59.1h1.0v1.0h-1.0zM217.1 54.9h1.0v1.0h-1.0zM216.3 87.9h1.0v1.0h-1.0zM200.2 141.7h1.0v1.0h-1.0zM214.1 68.1h1.0v1.0h-1.0zM213.9 58.5h1.0v1.0h-1.0zM201.1 111.5h1.0v1.0h-1.0zM211.8 96.5h1.0v1.0h-1.0zM214.8 52.6h1.0v1.0h-1.0zM213.7 72.0h1.0v1.0h-1.0zM218.3 128.7h1.0v1.0h-1.0zM212.3 142.6h1.0v1.0h-1.0zM216.5 54.6h1.0v1.0h-1.0zM217.9 58.5h1.0v1.0h-1.0zM210.2 135.1h1.0v1.0h-1.0zM212.3 65.8h1.0v1.0h-1.0zM216.5 94.6h1.0v1.0h-1.0zM216.0 71.0h1.0v1.0h-1.0zM211.8 118.1h1.0v1.0h-1.0zM212.0 141.7h1.0v1.0h-1.0zM217.6 55.7h1.0v1.0h-1.0zM218.3 71.6h1.0v1.0h-1.0zM208.8 137.0h1.0v1.0h-1.0zM218.3 51.6h1.0v1.0h-1.0zM215.4 102.6h1.0v1.0h-1.0zM197.9 131.2h1.0v1.0h-1.0zM213.8 124.9h1.0v1.0h-1.0zM212.1 94.2h1.0v1.0h-1.0zM214.6 75.1h1.0v1.0h-1.0zM214.5 69.0h1.0v1.0h-1.0zM218.1 135.1h1.0v1.0h-1.0zM217.6 102.9h1.0v1.0h-1.0zM211.9 89.6h1.0v1.0h-1.0zM217.1 96.9h1.0v1.0h-1.0zM215.8 137.9h1.0v1.0h-1.0zM216.8 75.2h1.0v1.0h-1.0zM217.0 74.0h1.0v1.0h-1.0zM215.1 62.9h1.0v1.0h-1.0zM218.5 80.8h1.0v1.0h-1.0zM218.0 99.3h1.0v1.0h-1.0zM212.3 127.4h1.0v1.0h-1.0zM217.6 91.3h1.0v1.0h-1.0zM214.7 78.1h1.0v1.0h-1.0zM209.9 126.9h1.0v1.0h-1.0zM217.2 82.9h1.0v1.0h-1.0zM210.9 137.2h1.0v1.0h-1.0zM216.2 72.5h1.0v1.0h-1.0zM217.4 117.3h1.0v1.0h-1.0zM212.4 126.2h1.0v1.0h-1.0zM205.5 133.1h1.0v1.0h-1.0zM215.2 76.5h1.0v1.0h-1.0zM215.2 130.0h1.0v1.0h-1.0zM218.0 55.8h1.0v1.0h-1.0zM218.2 124.2h1.0v1.0h-1.0zM201.3 77.0h1.0v1.0h-1.0zM216.4 92.9h1.0v1.0h-1.0zM209.2 54.8h1.0v1.0h-1.0zM214.7 55.1h1.0v1.0h-1.0zM218.2 134.7h1.0v1.0h-1.0zM212.1 121.7h1.0v1.0h-1.0zM209.1 73.3h1.0v1.0h-1.0zM208.2 121.5h1.0v1.0h-1.0zM208.7 90.9h1.0v1.0h-1.0zM215.4 68.0h1.0v1.0h-1.0zM201.1 124.4h1.0v1.0h-1.0zM218.2 132.9h1.0v1.0h-1.0zM217.7 84.1h1.0v1.0h-1.0zM210.9 125.7h1.0v1.0h-1.0zM200.2 139.9h1.0v1.0h-1.0zM213.3 56.3h1.0v1.0h-1.0zM217.6 88.4h1.0v1.0h-1.0zM217.3 82.7h1.0v1.0h-1.0zM210.4 64.5h1.0v1.0h-1.0zM206.4 89.1h1.0v1.0h-1.0zM216.1 92.6h1.0v1.0h-1.0zM213.2 106.0h1.0v1.0h-1.0zM217.7 63.2h1.0v1.0h-1.0zM213.0 108.5h1.0v1.0h-1.0zM203.1 145.7h1.0v1.0h-1.0zM216.2 69.6h1.0v1.0h-1.0zM216.9 85.3h1.0v1.0h-1.0zM216.8 66.3h1.0v1.0h-1.0zM216.2 57.5h1.0v1.0h-1.0zM215.0 132.0h1.0v1.0h-1.0zM205.9 144.7h1.0v1.0h-1.0zM218.0 128.3h1.0v1.0h-1.0zM212.7 134.4h1.0v1.0h-1.0zM209.0 145.8h1.0v1.0h-1.0zM203.4 130.8h1.0v1.0h-1.0zM215.0 145.2h1.0v1.0h-1.0zM212.4 72.5h1.0v1.0h-1.0zM189.9 138.1h1.0v1.0h-1.0zM212.4 106.3h1.0v1.0h-1.0zM211.7 99.1h1.0v1.0h-1.0zM215.3 94.9h1.0v1.0h-1.0zM218.1 94.9h1.0v1.0h-1.0zM212.7 85.3h1.0v1.0h-1.0zM217.7 79.9h1.0v1.0h-1.0zM212.0 125.9h1.0v1.0h-1.0zM215.8 65.4h1.0v1.0h-1.0zM208.0 135.7h1.0v1.0h-1.0zM218.2 95.6h1.0v1.0h-1.0zM216.7 139.6h1.0v1.0h-1.0zM211.3 111.0h1.0v1.0h-1.0zM218.5 123.7h1.0v1.0h-1.0zM212.7 116.4h1.0v1.0h-1.0zM214.5 77.4h1.0v1.0h-1.0zM216.8 127.6h1.0v1.0h-1.0zM217.4 142.9h1.0v1.0h-1.0zM211.6 146.2h1.0v1.0h-1.0zM215.3 61.1h1.0v1.0h-1.0zM211.4 88.5h1.0v1.0h-1.0zM217.2 115.3h1.0v1.0h-1.0zM218.2 69.0h1.0v1.0h-1.0zM218.0 78.9h1.0v1.0h-1.0zM216.9 111.3h1.0v1.0h-1.0zM216.3 105.0h1.0v1.0h-1.0zM212.3 144.3h1.0v1.0h-1.0zM214.7 109.2h1.0v1.0h-1.0zM199.5 150.3h1.0v1.0h-1.0zM209.7 146.4h1.0v1.0h-1.0zM213.8 99.6h1.0v1.0h-1.0zM213.8 143.2h1.0v1.0h-1.0zM205.8 121.8h1.0v1.0h-1.0zM217.1 77.2h1.0v1.0h-1.0zM217.9 109.6h1.0v1.0h-1.0zM217.3 52.8h1.0v1.0h-1.0zM217.1 146.7h1.0v1.0h-1.0zM217.7 63.1h1.0v1.0h-1.0zM213.9 146.2h1.0v1.0h-1.0zM216.7 91.4h1.0v1.0h-1.0zM213.6 121.9h1.0v1.0h-1.0zM217.7 149.4h1.0v1.0h-1.0zM206.1 112.0h1.0v1.0h-1.0zM217.9 116.9h1.0v1.0h-1.0zM217.9 75.2h1.0v1.0h-1.0zM204.0 149.7h1.0v1.0h-1.0zM213.1 138.8h1.0v1.0h-1.0zM214.7 139.8h1.0v1.0h-1.0zM216.8 145.0h1.0v1.0h-1.0zM211.7 144.5h1.0v1.0h-1.0zM216.6 146.9h1.0v1.0h-1.0zM207.3 147.8h1.0v1.0h-1.0zM213.9 136.8h1.0v1.0h-1.0zM215.7 145.9h1.0v1.0h-1.0zM211.6 150.0h1.0v1.0h-1.0zM203.9 146.1h1.0v1.0h-1.0zM218.0 144.1h1.0v1.0h-1.0zM210.3 151.7h1.0v1.0h-1.0zM214.7 138.7h1.0v1.0h-1.0zM212.5 148.6h1.0v1.0h-1.0zM214.2 141.3h1.0v1.0h-1.0zM217.0 139.8h1.0v1.0h-1.0zM199.1 148.6h1.0v1.0h-1.0zM200.1 141.3h1.0v1.0h-1.0zM218.1 131.2h1.0v1.0h-1.0zM211.8 137.5h1.0v1.0h-1.0zM205.6 138.8h1.0v1.0h-1.0zM205.9 142.4h1.0v1.0h-1.0zM216.6 137.8h1.0v1.0h-1.0zM210.4 143.1h1.0v1.0h-1.0zM207.9 141.9h1.0v1.0h-1.0zM213.4 149.3h1.0v1.0h-1.0zM215.4 141.4h1.0v1.0h-1.0zM214.2 134.9h1.0v1.0h-1.0zM216.8 142.8h1.0v1.0h-1.0zM211.7 133.9h1.0v1.0h-1.0zM218.2 147.8h1.0v1.0h-1.0zM204.7 149.7h1.0v1.0h-1.0zM215.6 132.9h1.0v1.0h-1.0zM216.4 139.2h1.0v1.0h-1.0zM211.6 142.5h1.0v1.0h-1.0zM218.2 143.1h1.0v1.0h-1.0zM216.0 140.9h1.0v1.0h-1.0zM212.8 147.3h1.0v1.0h-1.0zM212.6 139.0h1.0v1.0h-1.0zM210.2 137.6h1.0v1.0h-1.0zM203.5 147.1h1.0v1.0h-1.0zM218.1 149.7h1.0v1.0h-1.0zM217.6 145.0h1.0v1.0h-1.0zM217.0 137.2h1.0v1.0h-1.0zM210.1 151.7h1.0v1.0h-1.0zM212.4 131.9h1.0v1.0h-1.0zM212.3 131.5h1.0v1.0h-1.0zM214.8 132.1h1.0v1.0h-1.0zM217.6 135.2h1.0v1.0h-1.0zM215.4 149.9h1.0v1.0h-1.0zM215.4 138.9h1.0v1.0h-1.0zM217.6 133.3h1.0v1.0h-1.0zM215.1 149.7h1.0v1.0h-1.0zM213.1 145.0h1.0v1.0h-1.0zM214.5 152.2h1.0v1.0h-1.0zM217.8 131.1h1.0v1.0h-1.0zM208.1 131.6h1.0v1.0h-1.0zM201.5 149.6h1.0v1.0h-1.0zM208.7 149.9h1.0v1.0h-1.0zM208.6 147.3h1.0v1.0h-1.0zM213.8 149.3h1.0v1.0h-1.0zM217.4 140.0h1.0v1.0h-1.0zM216.4 141.0h1.0v1.0h-1.0zM216.3 133.8h1.0v1.0h-1.0zM212.4 136.3h1.0v1.0h-1.0zM217.6 132.5h1.0v1.0h-1.0zM215.3 132.2h1.0v1.0h-1.0zM215.1 142.2h1.0v1.0h-1.0zM208.3 143.4h1.0v1.0h-1.0zM216.5 140.8h1.0v1.0h-1.0zM217.9 142.2h1.0v1.0h-1.0zM216.9 149.1h1.0v1.0h-1.0zM213.9 142.1h1.0v1.0h-1.0zM216.5 139.5h1.0v1.0h-1.0zM201.4 145.8h1.0v1.0h-1.0zM215.9 135.0h1.0v1.0h-1.0zM214.7 138.4h1.0v1.0h-1.0zM217.7 140.0h1.0v1.0h-1.0zM214.3 151.1h1.0v1.0h-1.0zM204.7 138.2h1.0v1.0h-1.0zM215.2 136.1h1.0v1.0h-1.0zM217.0 151.9h1.0v1.0h-1.0zM213.0 145.0h1.0v1.0h-1.0zM218.4 144.3h1.0v1.0h-1.0zM216.1 151.0h1.0v1.0h-1.0zM218.3 139.5h1.0v1.0h-1.0zM208.0 148.6h1.0v1.0h-1.0zM217.9 136.2h1.0v1.0h-1.0zM210.4 151.3h1.0v1.0h-1.0zM215.9 133.4h1.0v1.0h-1.0zM217.1 152.3h1.0v1.0h-1.0zM216.0 148.8h1.0v1.0h-1.0zM215.8 143.7h1.0v1.0h-1.0zM210.3 132.4h1.0v1.0h-1.0zM207.1 150.0h1.0v1.0h-1.0zM213.0 133.0h1.0v1.0h-1.0zM217.1 141.3h1.0v1.0h-1.0zM211.6 137.6h1.0v1.0h-1.0zM214.2 146.9h1.0v1.0h-1.0zM215.6 134.4h1.0v1.0h-1.0zM202.4 138.1h1.0v1.0h-1.0zM211.4 151.2h1.0v1.0h-1.0zM216.1 138.8h1.0v1.0h-1.0zM214.2 130.6h1.0v1.0h-1.0zM205.5 135.8h1.0v1.0h-1.0zM209.4 139.8h1.0v1.0h-1.0zM205.3 144.3h1.0v1.0h-1.0zM213.7 141.3h1.0v1.0h-1.0zM212.0 146.5h1.0v1.0h-1.0zM217.2 140.3h1.0v1.0h-1.0zM207.8 132.2h1.0v1.0h-1.0zM217.1 133.2h1.0v1.0h-1.0zM216.8 147.9h1.0v1.0h-1.0zM210.7 148.5h1.0v1.0h-1.0zM216.0 150.3h1.0v1.0h-1.0zM204.0 133.3h1.0v1.0h-1.0zM216.0 151.3h1.0v1.0h-1.0zM218.4 142.8h1.0v1.0h-1.0zM202.8 137.7h1.0v1.0h-1.0zM216.8 143.1h1.0v1.0h-1.0zM199.8 151.0h1.0v1.0h-1.0zM215.8 139.3h1.0v1.0h-1.0zM215.4 133.1h1.0v1.0h-1.0zM217.3 143.7h1.0v1.0h-1.0zM207.1 135.0h1.0v1.0h-1.0zM216.4 146.2h1.0v1.0h-1.0zM215.6 131.6h1.0v1.0h-1.0zM215.5 131.3h1.0v1.0h-1.0zM213.6 136.9h1.0v1.0h-1.0zM217.8 144.8h1.0v1.0h-1.0zM213.2 152.5h1.0v1.0h-1.0zM204.7 141.5h1.0v1.0h-1.0zM213.2 135.7h1.0v1.0h-1.0zM212.0 134.9h1.0v1.0h-1.0zM217.3 144.2h1.0v1.0h-1.0zM217.4 138.2h1.0v1.0h-1.0zM205.6 131.5h1.0v1.0h-1.0zM218.1 146.9h1.0v1.0h-1.0zM198.3 134.0h1.0v1.0h-1.0zM207.7 149.6h1.0v1.0h-1.0zM206.4 150.6h1.0v1.0h-1.0zM211.3 140.8h1.0v1.0h-1.0zM202.6 149.5h1.0v1.0h-1.0zM215.2 135.2h1.0v1.0h-1.0zM211.8 143.6h1.0v1.0h-1.0zM209.2 140.4h1.0v1.0h-1.0zM213.1 135.8h1.0v1.0h-1.0zM217.9 139.1h1.0v1.0h-1.0zM215.1 139.5h1.0v1.0h-1.0zM216.0 145.7h1.0v1.0h-1.0zM210.4 131.2h1.0v1.0h-1.0zM201.9 138.1h1.0v1.0h-1.0zM218.4 133.1h1.0v1.0h-1.0zM201.2 138.8h1.0v1.0h-1.0zM216.9 131.3h1.0v1.0h-1.0zM210.5 141.9h1.0v1.0h-1.0zM216.0 131.9h1.0v1.0h-1.0zM217.2 133.0h1.0v1.0h-1.0zM218.3 151.4h1.0v1.0h-1.0zM217.5 150.8h1.0v1.0h-1.0zM214.2 147.3h1.0v1.0h-1.0zM197.5 131.2h1.0v1.0h-1.0zM217.5 150.2h1.0v1.0h-1.0zM211.5 137.2h1.0v1.0h-1.0zM215.4 142.7h1.0v1.0h-1.0zM212.2 136.1h1.0v1.0h-1.0zM218.3 136.7h1.0v1.0h-1.0zM217.3 150.3h1.0v1.0h-1.0zM208.7 139.5h1.0v1.0h-1.0zM194.5 133.4h1.0v1.0h-1.0zM213.5 134.7h1.0v1.0h-1.0zM188.6 151.2h1.0v1.0h-1.0zM218.4 132.0h1.0v1.0h-1.0zM211.2 152.4h1.0v1.0h-1.0zM206.2 144.6h1.0v1.0h-1.0zM214.3 142.5h1.0v1.0h-1.0zM218.1 134.6h1.0v1.0h-1.0zM196.2 145.7h1.0v1.0h-1.0zM216.5 140.6h1.0v1.0h-1.0zM215.2 140.4h1.0v1.0h-1.0zM197.2 136.6h1.0v1.0h-1.0zM217.7 138.8h1.0v1.0h-1.0zM213.3 139.8h1.0v1.0h-1.0zM216.7 135.7h1.0v1.0h-1.0zM217.8 146.8h1.0v1.0h-1.0zM203.9 141.0h1.0v1.0h-1.0zM207.8 144.7h1.0v1.0h-1.0zM207.8 142.9h1.0v1.0h-1.0zM209.8 131.2h1.0v1.0h-1.0zM212.1 152.1h1.0v1.0h-1.0zM210.1 131.4h1.0v1.0h-1.0zM215.5 138.8h1.0v1.0h-1.0zM216.1 131.2h1.0v1.0h-1.0zM216.3 141.0h1.0v1.0h-1.0zM214.9 144.0h1.0v1.0h-1.0zM212.2 148.5h1.0v1.0h-1.0zM212.8 137.9h1.0v1.0h-1.0zM214.0 132.6h1.0v1.0h-1.0zM217.4 145.7h1.0v1.0h-1.0zM216.9 138.7h1.0v1.0h-1.0zM218.2 145.5h1.0v1.0h-1.0zM208.2 135.5h1.0v1.0h-1.0zM216.2 149.5h1.0v1.0h-1.0zM212.3 135.2h1.0v1.0h-1.0zM218.1 144.8h1.0v1.0h-1.0zM212.2 135.6h1.0v1.0h-1.0zM208.2 143.8h1.0v1.0h-1.0zM217.9 139.5h1.0v1.0h-1.0zM215.2 131.4h1.0v1.0h-1.0zM217.5 135.6h1.0v1.0h-1.0zM217.9 143.8h1.0v1.0h-1.0zM217.2 149.8h1.0v1.0h-1.0zM216.9 145.2h1.0v1.0h-1.0zM218.2 140.9h1.0v1.0h-1.0zM217.2 146.2h1.0v1.0h-1.0zM205.2 144.5h1.0v1.0h-1.0zM213.3 134.3h1.0v1.0h-1.0zM216.6 131.8h1.0v1.0h-1.0zM216.4 140.2h1.0v1.0h-1.0zM218.0 141.3h1.0v1.0h-1.0zM212.1 150.1h1.0v1.0h-1.0zM214.9 135.9h1.0v1.0h-1.0zM212.0 148.2h1.0v1.0h-1.0zM218.0 133.8h1.0v1.0h-1.0zM214.3 138.2h1.0v1.0h-1.0zM213.0 146.9h1.0v1.0h-1.0zM210.8 148.9h1.0v1.0h-1.0zM216.4 150.4h1.0v1.0h-1.0zM195.1 137.8h1.0v1.0h-1.0zM216.8 140.3h1.0v1.0h-1.0zM184.5 134.7h1.0v1.0h-1.0zM185.3 151.8h1.0v1.0h-1.0zM199.8 138.8h1.0v1.0h-1.0zM216.1 144.0h1.0v1.0h-1.0zM215.8 139.3h1.0v1.0h-1.0zM209.0 152.0h1.0v1.0h-1.0zM195.8 138.5h1.0v1.0h-1.0zM217.0 152.2h1.0v1.0h-1.0zM213.9 149.7h1.0v1.0h-1.0zM215.9 132.5h1.0v1.0h-1.0zM212.3 144.6h1.0v1.0h-1.0zM208.4 136.0h1.0v1.0h-1.0zM217.2 149.8h1.0v1.0h-1.0zM212.9 147.6h1.0v1.0h-1.0zM216.4 137.5h1.0v1.0h-1.0zM218.2 138.7h1.0v1.0h-1.0z" fill="#5272bc" />
<path d="M227.6 54.9h1.0v1.0h-1.0zM233.7 135.3h1.0v1.0h-1.0zM232.2 99.0h1.0v1.0h-1.0zM233.1 94.3h1.0v1.0h-1.0zM253.0 120.2h1.0v1.0h-1.0zM234.3 149.8h1.0v1.0h-1.0zM252.7 133.4h1.0v1.0h-1.0zM228.8 149.6h1.0v1.0h-1.0zM226.0 109.4h1.0v1.0h-1.0zM239.4 59.0h1.0v1.0h-1.0zM234.8 94.7h1.0v1.0h-1.0zM225.2 129.4h1.0v1.0h-1.0zM235.2 107.6h1.0v1.0h-1.0zM228.6 64.9h1.0v1.0h-1.0zM227.2 64.1h1.0v1.0h-1.0zM224.8 133.2h1.0v1.0h-1.0zM237.9 148.9h1.0v1.0h-1.0zM225.7 124.0h1.0v1.0h-1.0zM227.7 83.1h1.0v1.0h-1.0zM227.1 56.6h1.0v1.0h-1.0zM233.9 61.8h1.0v1.0h-1.0zM228.7 76.2h1.0v1.0h-1.0zM254.8 105.8h1.0v1.0h-1.0zM227.0 130.6h1.0v1.0h-1.0zM232.1 59.6h1.0v1.0h-1.0zM227.7 92.7h1.0v1.0h-1.0zM232.9 75.1h1.0v1.0h-1.0zM232.7 130.5h1.0v1.0h-1.0zM229.2 116.5h1.0v1.0h-1.0zM250.5 100.0h1.0v1.0h-1.0zM234.6 106.5h1.0v1.0h-1.0zM230.7 56.9h1.0v1.0h-1.0zM233.8 68.4h1.0v1.0h-1.0zM230.6 125.7h1.0v1.0h-1.0zM229.0 60.5h1.0v1.0h-1.0zM240.1 65.5h1.0v1.0h-1.0zM233.3 110.3h1.0v1.0h-1.0zM233.7 113.7h1.0v1.0h-1.0zM231.5 127.6h1.0v1.0h-1.0zM226.8 103.4h1.0v1.0h-1.0zM239.1 139.6h1.0v1.0h-1.0zM226.5 52.8h1.0v1.0h-1.0zM253.9 111.6h1.0v1.0h-1.0zM227.0 134.9h1.0v1.0h-1.0zM229.3 60.1h1.0v1.0h-1.0zM232.8 55.5h1.0v1.0h-1.0zM230.8 90.0h1.0v1.0h-1.0zM228.3 97.7h1.0v1.0h-1.0zM229.9 86.2h1.0v1.0h-1.0zM237.3 65.4h1.0v1.0h-1.0zM234.3 129.6h1.0v1.0h-1.0zM226.8 94.9h1.0v1.0h-1.0zM229.3 71.9h1.0v1.0h-1.0zM229.4 77.4h1.0v1.0h-1.0zM234.6 119.1h1.0v1.0h-1.0zM225.2 99.4h1.0v1.0h-1.0zM227.2 53.5h1.0v1.0h-1.0zM240.8 109.8h1.0v1.0h-1.0zM226.2 80.2h1.0v1.0h-1.0zM224.9 84.8h1.0v1.0h-1.0zM232.6 74.7h1.0v1.0h-1.0zM231.2 82.8h1.0v1.0h-1.0zM242.1 112.8h1.0v1.0h-1.0zM232.4 102.3h1.0v1.0h-1.0zM233.4 147.6h1.0v1.0h-1.0zM229.8 133.5h1.0v1.0h-1.0zM226.3 86.7h1.0v1.0h-1.0zM232.1 56.4h1.0v1.0h-1.0zM234.3 150.3h1.0v1.0h-1.0zM225.2 138.4h1.0v1.0h-1.0zM231.7 119.4h1.0v1.0h-1.0zM228.0 124.5h1.0v1.0h-1.0zM230.6 136.2h1.0v1.0h-1.0zM228.2 70.2h1.0v1.0h-1.0zM230.2 90.5h1.0v1.0h-1.0zM237.9 137.0h1.0v1.0h-1.0zM231.6 147.8h1.0v1.0h-1.0zM232.4 78.7h1.0v1.0h-1.0zM228.3 126.1h1.0v1.0h-1.0zM228.1 68.1h1.0v1.0h-1.0zM246.0 115.1h1.0v1.0h-1.0zM246.4 123.6h1.0v1.0h-1.0zM225.1 131.7h1.0v1.0h-1.0zM228.0 105.6h1.0v1.0h-1.0zM233.7 91.7h1.0v1.0h-1.0zM231.0 71.7h1.0v1.0h-1.0zM237.5 99.6h1.0v1.0h-1.0zM227.5 69.4h1.0v1.0h-1.0zM227.6 135.3h1.0v1.0h-1.0zM249.8 141.4h1.0v1.0h-1.0zM228.7 110.0h1.0v1.0h-1.0zM231.7 93.6h1.0v1.0h-1.0zM232.1 146.0h1.0v1.0h-1.0zM230.1 67.4h1.0v1.0h-1.0zM229.3 52.8h1.0v1.0h-1.0zM225.3 54.9h1.0v1.0h-1.0zM237.2 99.4h1.0v1.0h-1.0zM228.2 102.4h1.0v1.0h-1.0zM234.3 78.3h1.0v1.0h-1.0zM229.5 112.6h1.0v1.0h-1.0zM238.6 117.4h1.0v1.0h-1.0zM232.0 99.1h1.0v1.0h-1.0zM225.1 60.8h1.0v1.0h-1.0zM232.9 66.6h1.0v1.0h-1.0zM224.9 140.4h1.0v1.0h-1.0zM228.4 84.3h1.0v1.0h-1.0zM231.2 131.7h1.0v1.0h-1.0zM232.1 140.2h1.0v1.0h-1.0zM240.5 95.9h1.0v1.0h-1.0zM226.3 110.7h1.0v1.0h-1.0zM237.5 55.9h1.0v1.0h-1.0zM225.3 135.9h1.0v1.0h-1.0zM228.1 110.1h1.0v1.0h-1.0zM230.8 111.5h1.0v1.0h-1.0zM236.6 59.5h1.0v1.0h-1.0zM225.9 82.0h1.0v1.0h-1.0zM234.3 70.7h1.0v1.0h-1.0zM225.3 63.5h1.0v1.0h-1.0zM228.7 134.6h1.0v1.0h-1.0zM240.6 68.4h1.0v1.0h-1.0zM230.9 74.9h1.0v1.0h-1.0zM248.8 145.5h1.0v1.0h-1.0zM236.3 131.9h1.0v1.0h-1.0zM226.3 101.2h1.0v1.0h-1.0zM226.2 107.2h1.0v1.0h-1.0zM229.3 137.9h1.0v1.0h-1.0zM229.9 103.0h1.0v1.0h-1.0zM235.5 115.0h1.0v1.0h-1.0zM228.3 70.4h1.0v1.0h-1.0zM234.2 108.4h1.0v1.0h-1.0zM225.7 52.7h1.0v1.0h-1.0zM227.7 108.0h1.0v1.0h-1.0zM225.1 139.2h1.0v1.0h-1.0zM230.8 73.1h1.0v1.0h-1.0zM225.1 93.6h1.0v1.0h-1.0zM225.4 108.8h1.0v1.0h-1.0zM225.8 67.2h1.0v1.0h-1.0zM228.8 131.0h1.0v1.0h-1.0zM233.7 101.7h1.0v1.0h-1.0zM250.1 81.1h1.0v1.0h-1.0zM228.3 59.1h1.0v1.0h-1.0zM232.7 107.4h1.0v1.0h-1.0zM227.8 70.7h1.0v1.0h-1.0zM225.3 133.1h1.0v1.0h-1.0zM242.7 114.2h1.0v1.0h-1.0zM229.4 130.9h1.0v1.0h-1.0zM227.4 109.9h1.0v1.0h-1.0zM229.0 53.7h1.0v1.0h-1.0zM255.4 99.2h1.0v1.0h-1.0zM237.9 107.5h1.0v1.0h-1.0zM226.4 149.0h1.0v1.0h-1.0zM229.1 119.7h1.0v1.0h-1.0zM245.8 104.9h1.0v1.0h-1.0zM225.4 127.8h1.0v1.0h-1.0zM231.8 92.3h1.0v1.0h-1.0zM238.1 146.1h1.0v1.0h-1.0zM239.2 57.2h1.0v1.0h-1.0zM243.5 69.9h1.0v1.0h-1.0zM226.2 53.4h1.0v1.0h-1.0zM229.0 62.7h1.0v1.0h-1.0zM245.2 56.1h1.0v1.0h-1.0zM236.8 93.3h1.0v1.0h-1.0zM228.3 123.9h1.0v1.0h-1.0zM228.9 134.2h1.0v1.0h-1.0zM225.9 67.4h1.0v1.0h-1.0zM226.5 62.3h1.0v1.0h-1.0zM238.3 84.3h1.0v1.0h-1.0zM233.3 85.2h1.0v1.0h-1.0zM233.0 62.6h1.0v1.0h-1.0zM226.2 118.9h1.0v1.0h-1.0zM229.3 135.1h1.0v1.0h-1.0zM224.9 83.2h1.0v1.0h-1.0zM248.3 89.8h1.0v1.0h-1.0zM238.5 95.8h1.0v1.0h-1.0zM230.1 128.1h1.0v1.0h-1.0zM233.6 108.8h1.0v1.0h-1.0zM233.2 75.4h1.0v1.0h-1.0zM235.9 73.8h1.0v1.0h-1.0zM229.3 76.8h1.0v1.0h-1.0zM232.8 90.9h1.0v1.0h-1.0zM258.3 142.4h1.0v1.0h-1.0zM234.6 135.1h1.0v1.0h-1.0zM226.3 94.7h1.0v1.0h-1.0zM235.3 106.1h1.0v1.0h-1.0zM232.5 123.6h1.0v1.0h-1.0zM226.1 56.0h1.0v1.0h-1.0zM227.7 77.6h1.0v1.0h-1.0zM236.0 66.8h1.0v1.0h-1.0zM238.3 98.3h1.0v1.0h-1.0zM244.3 111.5h1.0v1.0h-1.0zM226.1 52.3h1.0v1.0h-1.0zM239.4 148.2h1.0v1.0h-1.0zM230.6 148.6h1.0v1.0h-1.0zM228.1 90.6h1.0v1.0h-1.0zM226.1 57.9h1.0v1.0h-1.0zM228.9 124.7h1.0v1.0h-1.0zM230.5 151.3h1.0v1.0h-1.0zM232.2 132.1h1.0v1.0h-1.0zM243.2 75.8h1.0v1.0h-1.0zM224.7 124.1h1.0v1.0h-1.0zM225.1 59.7h1.0v1.0h-1.0zM232.7 87.4h1.0v1.0h-1.0zM246.7 93.0h1.0v1.0h-1.0zM238.5 120.5h1.0v1.0h-1.0zM260.9 126.5h1.0v1.0h-1.0zM230.2 55.9h1.0v1.0h-1.0zM250.6 109.5h1.0v1.0h-1.0zM226.1 127.2h1.0v1.0h-1.0zM225.5 97.9h1.0v1.0h-1.0zM225.8 52.7h1.0v1.0h-1.0zM224.9 100.4h1.0v1.0h-1.0zM238.4 120.3h1.0v1.0h-1.0zM226.3 81.2h1.0v1.0h-1.0zM225.5 84.0h1.0v1.0h-1.0zM226.3 83.0h1.0v1.0h-1.0zM236.0 150.3h1.0v1.0h-1.0zM225.2 122.8h1.0v1.0h-1.0zM234.6 59.2h1.0v1.0h-1.0zM231.3 87.3h1.0v1.0h-1.0zM226.9 81.8h1.0v1.0h-1.0zM225.9 128.7h1.0v1.0h-1.0zM234.2 133.6h1.0v1.0h-1.0zM232.7 70.2h1.0v1.0h-1.0zM264.0 109.6h1.0v1.0h-1.0zM225.7 54.4h1.0v1.0h-1.0zM232.8 90.0h1.0v1.0h-1.0zM231.1 130.8h1.0v1.0h-1.0zM225.7 71.5h1.0v1.0h-1.0zM229.1 92.5h1.0v1.0h-1.0zM233.6 149.8h1.0v1.0h-1.0zM238.1 64.2h1.0v1.0h-1.0zM231.7 104.8h1.0v1.0h-1.0zM229.2 81.8h1.0v1.0h-1.0zM239.6 118.5h1.0v1.0h-1.0zM233.2 91.4h1.0v1.0h-1.0zM228.7 57.0h1.0v1.0h-1.0zM237.3 67.8h1.0v1.0h-1.0zM230.0 103.0h1.0v1.0h-1.0zM231.6 119.9h1.0v1.0h-1.0zM228.8 93.8h1.0v1.0h-1.0zM229.3 132.6h1.0v1.0h-1.0zM241.8 84.9h1.0v1.0h-1.0zM225.4 138.3h1.0v1.0h-1.0zM237.5 80.3h1.0v1.0h-1.0zM227.9 140.7h1.0v1.0h-1.0zM237.9 81.0h1.0v1.0h-1.0zM226.4 63.4h1.0v1.0h-1.0zM227.7 56.3h1.0v1.0h-1.0zM235.0 75.0h1.0v1.0h-1.0zM247.1 108.9h1.0v1.0h-1.0zM228.3 65.7h1.0v1.0h-1.0zM228.2 77.7h1.0v1.0h-1.0zM230.3 64.3h1.0v1.0h-1.0zM231.7 86.5h1.0v1.0h-1.0zM242.5 97.1h1.0v1.0h-1.0zM240.7 78.9h1.0v1.0h-1.0zM236.9 78.0h1.0v1.0h-1.0zM232.6 115.2h1.0v1.0h-1.0zM232.9 87.8h1.0v1.0h-1.0zM231.6 68.9h1.0v1.0h-1.0zM228.6 84.8h1.0v1.0h-1.0zM228.4 53.4h1.0v1.0h-1.0zM239.4 64.2h1.0v1.0h-1.0zM234.6 92.7h1.0v1.0h-1.0zM233.7 130.9h1.0v1.0h-1.0zM229.6 86.7h1.0v1.0h-1.0zM228.3 127.8h1.0v1.0h-1.0zM244.2 85.4h1.0v1.0h-1.0zM226.7 100.3h1.0v1.0h-1.0zM227.1 81.4h1.0v1.0h-1.0zM226.0 131.8h1.0v1.0h-1.0zM224.8 92.4h1.0v1.0h-1.0zM238.0 135.8h1.0v1.0h-1.0zM233.8 107.1h1.0v1.0h-1.0zM229.8 101.1h1.0v1.0h-1.0zM232.0 54.7h1.0v1.0h-1.0zM226.1 85.4h1.0v1.0h-1.0zM237.1 80.4h1.0v1.0h-1.0zM225.9 114.7h1.0v1.0h-1.0zM232.8 76.7h1.0v1.0h-1.0zM225.3 109.0h1.0v1.0h-1.0zM225.2 58.0h1.0v1.0h-1.0zM226.3 117.3h1.0v1.0h-1.0zM233.5 89.7h1.0v1.0h-1.0zM226.0 89.3h1.0v1.0h-1.0zM226.8 95.3h1.0v1.0h-1.0zM249.8 109.2h1.0v1.0h-1.0zM226.7 128.8h1.0v1.0h-1.0zM232.7 54.7h1.0v1.0h-1.0zM229.4 144.8h1.0v1.0h-1.0zM232.5 121.2h1.0v1.0h-1.0zM238.6 62.6h1.0v1.0h-1.0zM232.6 81.7h1.0v1.0h-1.0zM230.6 144.7h1.0v1.0h-1.0zM228.8 109.5h1.0v1.0h-1.0zM226.1 92.1h1.0v1.0h-1.0zM248.4 52.7h1.0v1.0h-1.0zM225.6 74.7h1.0v1.0h-1.0zM229.0 147.3h1.0v1.0h-1.0zM237.5 130.5h1.0v1.0h-1.0zM241.1 83.4h1.0v1.0h-1.0zM248.1 140.3h1.0v1.0h-1.0zM234.2 83.1h1.0v1.0h-1.0zM226.9 143.0h1.0v1.0h-1.0zM233.5 151.0h1.0v1.0h-1.0zM234.8 133.0h1.0v1.0h-1.0zM226.4 85.8h1.0v1.0h-1.0zM230.4 82.5h1.0v1.0h-1.0zM225.9 67.1h1.0v1.0h-1.0zM236.0 113.6h1.0v1.0h-1.0zM226.5 97.2h1.0v1.0h-1.0zM227.0 67.1h1.0v1.0h-1.0zM230.5 102.0h1.0v1.0h-1.0zM230.6 104.4h1.0v1.0h-1.0zM229.7 77.1h1.0v1.0h-1.0zM227.1 80.8h1.0v1.0h-1.0zM230.8 58.4h1.0v1.0h-1.0zM228.9 106.5h1.0v1.0h-1.0zM235.9 54.6h1.0v1.0h-1.0zM243.7 128.4h1.0v1.0h-1.0zM232.6 84.3h1.0v1.0h-1.0zM228.4 136.2h1.0v1.0h-1.0zM225.5 63.8h1.0v1.0h-1.0zM227.6 100.9h1.0v1.0h-1.0zM229.8 109.7h1.0v1.0h-1.0zM244.5 120.4h1.0v1.0h-1.0zM226.4 97.0h1.0v1.0h-1.0zM233.6 127.5h1.0v1.0h-1.0zM232.7 70.9h1.0v1.0h-1.0zM231.8 89.2h1.0v1.0h-1.0zM235.0 127.5h1.0v1.0h-1.0zM242.4 141.0h1.0v1.0h-1.0zM225.7 113.5h1.0v1.0h-1.0zM228.2 134.0h1.0v1.0h-1.0zM264.2 109.3h1.0v1.0h-1.0zM225.9 55.2h1.0v1.0h-1.0zM224.8 89.2h1.0v1.0h-1.0zM246.8 82.4h1.0v1.0h-1.0zM231.2 97.1h1.0v1.0h-1.0zM224.9 101.8h1.0v1.0h-1.0zM238.3 83.5h1.0v1.0h-1.0zM237.3 141.4h1.0v1.0h-1.0zM228.2 53.4h1.0v1.0h-1.0zM231.8 66.1h1.0v1.0h-1.0zM242.9 121.2h1.0v1.0h-1.0zM225.0 112.3h1.0v1.0h-1.0zM225.9 72.5h1.0v1.0h-1.0zM226.3 57.5h1.0v1.0h-1.0zM248.5 116.0h1.0v1.0h-1.0zM226.4 66.5h1.0v1.0h-1.0zM230.5 87.8h1.0v1.0h-1.0zM229.4 119.3h1.0v1.0h-1.0zM228.8 139.2h1.0v1.0h-1.0zM225.7 80.1h1.0v1.0h-1.0zM227.7 77.4h1.0v1.0h-1.0zM228.1 97.3h1.0v1.0h-1.0zM240.5 90.3h1.0v1.0h-1.0zM236.9 108.3h1.0v1.0h-1.0zM225.9 127.7h1.0v1.0h-1.0zM226.1 72.4h1.0v1.0h-1.0zM226.4 103.1h1.0v1.0h-1.0zM233.5 95.9h1.0v1.0h-1.0zM233.8 92.4h1.0v1.0h-1.0zM226.2 65.8h1.0v1.0h-1.0zM228.7 74.3h1.0v1.0h-1.0zM229.8 65.1h1.0v1.0h-1.0zM228.0 142.7h1.0v1.0h-1.0zM233.1 68.7h1.0v1.0h-1.0zM227.9 129.6h1.0v1.0h-1.0zM225.5 89.5h1.0v1.0h-1.0zM225.0 84.9h1.0v1.0h-1.0zM231.6 79.3h1.0v1.0h-1.0zM225.4 117.7h1.0v1.0h-1.0zM232.5 110.9h1.0v1.0h-1.0zM230.9 83.4h1.0v1.0h-1.0zM226.0 120.4h1.0v1.0h-1.0zM246.7 112.6h1.0v1.0h-1.0zM242.4 57.6h1.0v1.0h-1.0zM225.4 141.6h1.0v1.0h-1.0zM227.4 111.4h1.0v1.0h-1.0zM228.0 145.7h1.0v1.0h-1.0zM230.5 67.6h1.0v1.0h-1.0zM246.1 79.0h1.0v1.0h-1.0zM241.3 106.1h1.0v1.0h-1.0zM230.4 137.1h1.0v1.0h-1.0zM224.9 85.3h1.0v1.0h-1.0zM234.0 66.3h1.0v1.0h-1.0zM244.9 70.9h1.0v1.0h-1.0zM225.4 85.3h1.0v1.0h-1.0zM224.7 115.4h1.0v1.0h-1.0zM226.6 108.7h1.0v1.0h-1.0zM233.9 79.5h1.0v1.0h-1.0zM232.4 122.5h1.0v1.0h-1.0zM227.7 94.1h1.0v1.0h-1.0zM238.2 57.3h1.0v1.0h-1.0zM232.0 80.9h1.0v1.0h-1.0zM232.9 152.2h1.0v1.0h-1.0zM228.9 77.2h1.0v1.0h-1.0zM231.4 127.1h1.0v1.0h-1.0zM229.5 77.0h1.0v1.0h-1.0zM240.6 125.6h1.0v1.0h-1.0zM228.9 143.4h1.0v1.0h-1.0zM224.8 110.3h1.0v1.0h-1.0zM255.3 112.8h1.0v1.0h-1.0zM227.7 118.1h1.0v1.0h-1.0zM231.4 139.3h1.0v1.0h-1.0zM235.8 108.0h1.0v1.0h-1.0zM230.1 108.0h1.0v1.0h-1.0zM227.5 107.7h1.0v1.0h-1.0zM231.6 150.9h1.0v1.0h-1.0zM228.0 75.3h1.0v1.0h-1.0zM225.3 72.5h1.0v1.0h-1.0zM235.9 78.9h1.0v1.0h-1.0zM232.5 124.2h1.0v1.0h-1.0zM229.2 122.0h1.0v1.0h-1.0zM230.9 58.9h1.0v1.0h-1.0zM244.8 139.3h1.0v1.0h-1.0zM243.6 66.2h1.0v1.0h-1.0zM235.0 72.1h1.0v1.0h-1.0zM258.4 74.8h1.0v1.0h-1.0zM242.2 106.5h1.0v1.0h-1.0zM246.0 150.6h1.0v1.0h-1.0zM228.7 62.1h1.0v1.0h-1.0zM226.9 110.0h1.0v1.0h-1.0zM232.4 129.8h1.0v1.0h-1.0zM235.0 52.1h1.0v1.0h-1.0zM240.4 117.6h1.0v1.0h-1.0zM230.7 87.7h1.0v1.0h-1.0zM225.4 83.6h1.0v1.0h-1.0zM227.7 96.2h1.0v1.0h-1.0zM243.1 143.5h1.0v1.0h-1.0zM228.5 149.1h1.0v1.0h-1.0zM231.7 75.4h1.0v1.0h-1.0zM229.5 77.3h1.0v1.0h-1.0zM240.3 101.9h1.0v1.0h-1.0zM224.8 149.5h1.0v1.0h-1.0zM230.7 57.2h1.0v1.0h-1.0zM244.6 130.5h1.0v1.0h-1.0zM226.0 58.3h1.0v1.0h-1.0zM231.3 86.6h1.0v1.0h-1.0zM237.1 103.7h1.0v1.0h-1.0zM225.7 111.9h1.0v1.0h-1.0zM245.0 96.4h1.0v1.0h-1.0zM225.4 62.3h1.0v1.0h-1.0zM242.7 102.7h1.0v1.0h-1.0zM227.5 81.3h1.0v1.0h-1.0zM228.1 111.8h1.0v1.0h-1.0zM244.3 88.0h1.0v1.0h-1.0zM227.2 116.7h1.0v1.0h-1.0zM230.4 82.7h1.0v1.0h-1.0zM235.6 128.3h1.0v1.0h-1.0zM231.3 109.8h1.0v1.0h-1.0zM229.4 140.9h1.0v1.0h-1.0zM231.0 114.1h1.0v1.0h-1.0zM229.5 117.2h1.0v1.0h-1.0zM225.8 136.6h1.0v1.0h-1.0zM228.2 57.6h1.0v1.0h-1.0zM234.0 106.3h1.0v1.0h-1.0zM230.8 82.7h1.0v1.0h-1.0zM233.6 86.7h1.0v1.0h-1.0zM239.5 112.9h1.0v1.0h-1.0zM234.7 104.9h1.0v1.0h-1.0zM235.0 54.0h1.0v1.0h-1.0zM246.0 98.5h1.0v1.0h-1.0zM225.1 61.3h1.0v1.0h-1.0zM226.2 97.9h1.0v1.0h-1.0zM230.0 65.6h1.0v1.0h-1.0zM225.9 115.3h1.0v1.0h-1.0zM231.2 77.5h1.0v1.0h-1.0zM232.7 104.2h1.0v1.0h-1.0zM232.6 104.2h1.0v1.0h-1.0zM229.8 59.1h1.0v1.0h-1.0zM244.3 125.4h1.0v1.0h-1.0zM227.6 92.8h1.0v1.0h-1.0zM229.0 144.6h1.0v1.0h-1.0zM241.4 147.6h1.0v1.0h-1.0zM225.7 108.8h1.0v1.0h-1.0zM241.6 126.7h1.0v1.0h-1.0zM224.9 60.7h1.0v1.0h-1.0zM225.3 95.5h1.0v1.0h-1.0zM247.4 147.5h1.0v1.0h-1.0zM237.3 117.0h1.0v1.0h-1.0zM228.1 60.4h1.0v1.0h-1.0zM241.1 113.3h1.0v1.0h-1.0zM229.1 71.5h1.0v1.0h-1.0zM230.0 109.6h1.0v1.0h-1.0zM229.6 110.9h1.0v1.0h-1.0zM229.0 120.2h1.0v1.0h-1.0zM230.9 145.3h1.0v1.0h-1.0zM228.4 137.1h1.0v1.0h-1.0zM247.0 57.1h1.0v1.0h-1.0zM235.4 125.8h1.0v1.0h-1.0zM250.0 108.0h1.0v1.0h-1.0zM243.7 121.9h1.0v1.0h-1.0zM244.1 85.0h1.0v1.0h-1.0zM231.4 120.7h1.0v1.0h-1.0zM227.2 51.8h1.0v1.0h-1.0zM241.9 57.4h1.0v1.0h-1.0zM232.3 126.0h1.0v1.0h-1.0zM226.9 123.4h1.0v1.0h-1.0zM251.4 125.6h1.0v1.0h-1.0zM243.2 120.7h1.0v1.0h-1.0zM244.3 70.5h1.0v1.0h-1.0zM260.6 121.6h1.0v1.0h-1.0zM228.2 86.2h1.0v1.0h-1.0zM233.5 52.7h1.0v1.0h-1.0zM235.4 83.7h1.0v1.0h-1.0zM226.0 114.8h1.0v1.0h-1.0zM234.1 114.8h1.0v1.0h-1.0zM244.3 60.5h1.0v1.0h-1.0zM226.4 124.4h1.0v1.0h-1.0zM225.8 62.0h1.0v1.0h-1.0zM227.6 98.8h1.0v1.0h-1.0zM231.8 129.1h1.0v1.0h-1.0zM231.6 97.7h1.0v1.0h-1.0zM229.7 95.4h1.0v1.0h-1.0zM229.5 65.3h1.0v1.0h-1.0zM256.6 131.1h1.0v1.0h-1.0zM229.6 90.1h1.0v1.0h-1.0zM226.3 101.1h1.0v1.0h-1.0zM232.9 113.2h1.0v1.0h-1.0zM225.5 67.4h1.0v1.0h-1.0zM227.5 56.8h1.0v1.0h-1.0zM231.5 99.4h1.0v1.0h-1.0zM232.3 136.1h1.0v1.0h-1.0zM226.2 88.2h1.0v1.0h-1.0zM226.4 67.1h1.0v1.0h-1.0zM248.6 126.6h1.0v1.0h-1.0zM227.8 56.1h1.0v1.0h-1.0zM227.4 82.0h1.0v1.0h-1.0zM234.8 57.5h1.0v1.0h-1.0zM232.4 80.1h1.0v1.0h-1.0zM226.4 83.8h1.0v1.0h-1.0zM246.9 67.6h1.0v1.0h-1.0zM226.7 64.2h1.0v1.0h-1.0zM231.4 126.5h1.0v1.0h-1.0zM249.7 79.5h1.0v1.0h-1.0zM225.4 54.4h1.0v1.0h-1.0zM270.3 107.8h1.0v1.0h-1.0zM227.6 103.4h1.0v1.0h-1.0zM256.3 115.6h1.0v1.0h-1.0zM246.6 72.5h1.0v1.0h-1.0zM236.0 122.4h1.0v1.0h-1.0zM234.3 151.6h1.0v1.0h-1.0zM229.8 86.3h1.0v1.0h-1.0zM256.7 102.7h1.0v1.0h-1.0zM226.4 111.2h1.0v1.0h-1.0zM256.7 128.3h1.0v1.0h-1.0zM230.0 68.4h1.0v1.0h-1.0zM224.8 86.6h1.0v1.0h-1.0zM225.9 106.8h1.0v1.0h-1.0zM225.1 120.1h1.0v1.0h-1.0zM228.1 79.8h1.0v1.0h-1.0zM245.4 92.3h1.0v1.0h-1.0zM226.3 125.0h1.0v1.0h-1.0zM225.7 122.8h1.0v1.0h-1.0zM240.8 91.9h1.0v1.0h-1.0zM233.5 88.8h1.0v1.0h-1.0zM235.5 91.0h1.0v1.0h-1.0zM227.3 61.5h1.0v1.0h-1.0zM231.4 96.1h1.0v1.0h-1.0zM235.1 111.5h1.0v1.0h-1.0zM229.3 100.0h1.0v1.0h-1.0zM230.5 125.0h1.0v1.0h-1.0zM226.8 120.0h1.0v1.0h-1.0zM235.5 117.6h1.0v1.0h-1.0zM239.8 143.3h1.0v1.0h-1.0zM230.3 87.0h1.0v1.0h-1.0zM232.6 80.7h1.0v1.0h-1.0zM245.1 104.9h1.0v1.0h-1.0zM246.7 53.0h1.0v1.0h-1.0zM227.6 111.6h1.0v1.0h-1.0zM230.1 65.3h1.0v1.0h-1.0zM245.7 117.2h1.0v1.0h-1.0zM229.5 135.6h1.0v1.0h-1.0zM245.9 60.6h1.0v1.0h-1.0zM241.0 78.1h1.0v1.0h-1.0zM232.5 61.0h1.0v1.0h-1.0zM233.7 61.7h1.0v1.0h-1.0zM242.3 76.3h1.0v1.0h-1.0zM227.4 120.5h1.0v1.0h-1.0zM226.2 59.2h1.0v1.0h-1.0zM226.0 123.2h1.0v1.0h-1.0zM224.9 62.8h1.0v1.0h-1.0zM228.9 86.4h1.0v1.0h-1.0zM234.6 105.7h1.0v1.0h-1.0zM235.5 84.3h1.0v1.0h-1.0zM225.3 92.8h1.0v1.0h-1.0zM226.1 62.4h1.0v1.0h-1.0zM235.9 120.8h1.0v1.0h-1.0zM255.0 80.7h1.0v1.0h-1.0zM238.9 56.4h1.0v1.0h-1.0zM225.6 70.8h1.0v1.0h-1.0zM228.6 77.0h1.0v1.0h-1.0zM245.4 115.8h1.0v1.0h-1.0zM250.4 132.4h1.0v1.0h-1.0zM248.3 130.5h1.0v1.0h-1.0zM226.7 58.2h1.0v1.0h-1.0zM231.3 149.8h1.0v1.0h-1.0zM231.2 141.3h1.0v1.0h-1.0zM226.9 69.7h1.0v1.0h-1.0zM224.9 134.3h1.0v1.0h-1.0zM226.8 117.5h1.0v1.0h-1.0zM269.9 128.0h1.0v1.0h-1.0zM228.9 119.8h1.0v1.0h-1.0zM229.1 134.1h1.0v1.0h-1.0zM234.5 105.2h1.0v1.0h-1.0zM229.2 78.8h1.0v1.0h-1.0zM228.6 102.1h1.0v1.0h-1.0zM226.6 117.5h1.0v1.0h-1.0zM224.8 81.5h1.0v1.0h-1.0zM231.9 107.4h1.0v1.0h-1.0zM234.5 116.0h1.0v1.0h-1.0zM232.7 80.3h1.0v1.0h-1.0zM232.1 72.6h1.0v1.0h-1.0zM229.7 150.1h1.0v1.0h-1.0zM225.2 82.3h1.0v1.0h-1.0zM225.5 90.6h1.0v1.0h-1.0zM229.8 66.3h1.0v1.0h-1.0zM229.2 104.8h1.0v1.0h-1.0zM230.7 131.3h1.0v1.0h-1.0zM244.2 96.3h1.0v1.0h-1.0zM238.2 128.0h1.0v1.0h-1.0zM233.1 124.8h1.0v1.0h-1.0zM227.5 55.2h1.0v1.0h-1.0zM226.1 123.0h1.0v1.0h-1.0zM239.0 67.8h1.0v1.0h-1.0zM232.8 138.3h1.0v1.0h-1.0zM224.9 110.7h1.0v1.0h-1.0zM228.5 104.3h1.0v1.0h-1.0zM224.8 75.6h1.0v1.0h-1.0zM225.6 103.0h1.0v1.0h-1.0zM234.6 106.2h1.0v1.0h-1.0zM242.2 53.4h1.0v1.0h-1.0zM228.5 109.8h1.0v1.0h-1.0zM239.2 104.6h1.0v1.0h-1.0zM250.1 89.0h1.0v1.0h-1.0zM244.2 128.2h1.0v1.0h-1.0zM230.4 77.2h1.0v1.0h-1.0zM234.3 139.3h1.0v1.0h-1.0zM231.7 63.2h1.0v1.0h-1.0zM231.4 135.1h1.0v1.0h-1.0zM224.7 98.2h1.0v1.0h-1.0zM228.1 106.1h1.0v1.0h-1.0zM226.4 54.9h1.0v1.0h-1.0zM226.9 95.7h1.0v1.0h-1.0zM233.2 147.3h1.0v1.0h-1.0zM228.3 85.8h1.0v1.0h-1.0zM226.9 91.3h1.0v1.0h-1.0zM230.8 121.0h1.0v1.0h-1.0zM225.9 117.6h1.0v1.0h-1.0zM227.2 78.0h1.0v1.0h-1.0zM232.2 83.4h1.0v1.0h-1.0zM238.9 67.6h1.0v1.0h-1.0zM227.2 85.0h1.0v1.0h-1.0zM235.9 77.2h1.0v1.0h-1.0zM229.7 126.5h1.0v1.0h-1.0zM229.0 88.3h1.0v1.0h-1.0zM230.7 86.8h1.0v1.0h-1.0zM229.5 65.2h1.0v1.0h-1.0zM228.5 150.2h1.0v1.0h-1.0zM230.6 138.7h1.0v1.0h-1.0zM231.6 78.0h1.0v1.0h-1.0zM228.4 95.4h1.0v1.0h-1.0zM231.1 54.7h1.0v1.0h-1.0zM238.9 119.9h1.0v1.0h-1.0zM230.2 81.3h1.0v1.0h-1.0zM237.2 120.8h1.0v1.0h-1.0zM245.4 97.4h1.0v1.0h-1.0zM235.1 102.6h1.0v1.0h-1.0zM235.2 114.7h1.0v1.0h-1.0zM230.8 115.8h1.0v1.0h-1.0zM228.8 79.3h1.0v1.0h-1.0zM238.0 99.4h1.0v1.0h-1.0zM233.1 150.9h1.0v1.0h-1.0zM233.5 72.4h1.0v1.0h-1.0zM233.4 68.5h1.0v1.0h-1.0zM234.3 87.3h1.0v1.0h-1.0zM248.3 141.6h1.0v1.0h-1.0zM242.8 118.4h1.0v1.0h-1.0zM247.5 72.6h1.0v1.0h-1.0zM246.6 119.3h1.0v1.0h-1.0zM228.9 124.1h1.0v1.0h-1.0zM235.4 151.1h1.0v1.0h-1.0zM260.2 144.1h1.0v1.0h-1.0zM225.2 85.6h1.0v1.0h-1.0zM233.5 90.4h1.0v1.0h-1.0zM236.3 69.2h1.0v1.0h-1.0zM238.2 124.6h1.0v1.0h-1.0zM225.6 129.9h1.0v1.0h-1.0zM227.1 124.7h1.0v1.0h-1.0zM238.7 74.1h1.0v1.0h-1.0zM246.1 71.9h1.0v1.0h-1.0zM229.2 65.2h1.0v1.0h-1.0zM254.1 150.5h1.0v1.0h-1.0zM235.3 128.8h1.0v1.0h-1.0zM246.9 119.5h1.0v1.0h-1.0zM225.5 142.2h1.0v1.0h-1.0zM243.5 102.1h1.0v1.0h-1.0zM226.4 101.7h1.0v1.0h-1.0zM226.6 52.1h1.0v1.0h-1.0zM232.7 117.3h1.0v1.0h-1.0zM227.0 121.5h1.0v1.0h-1.0zM230.0 106.3h1.0v1.0h-1.0zM244.8 141.8h1.0v1.0h-1.0zM226.4 60.4h1.0v1.0h-1.0zM237.0 124.8h1.0v1.0h-1.0zM235.7 106.9h1.0v1.0h-1.0zM233.2 90.2h1.0v1.0h-1.0zM238.0 68.7h1.0v1.0h-1.0zM230.0 78.7h1.0v1.0h-1.0zM229.6 97.0h1.0v1.0h-1.0zM225.6 63.7h1.0v1.0h-1.0zM229.1 89.6h1.0v1.0h-1.0zM226.5 100.3h1.0v1.0h-1.0zM225.7 99.8h1.0v1.0h-1.0zM227.7 122.7h1.0v1.0h-1.0zM240.4 100.9h1.0v1.0h-1.0zM243.4 140.0h1.0v1.0h-1.0zM231.3 72.2h1.0v1.0h-1.0zM225.6 135.4h1.0v1.0h-1.0zM231.1 85.6h1.0v1.0h-1.0zM225.9 147.1h1.0v1.0h-1.0zM225.6 111.9h1.0v1.0h-1.0zM227.6 70.5h1.0v1.0h-1.0zM224.8 68.9h1.0v1.0h-1.0zM244.2 114.5h1.0v1.0h-1.0zM225.2 134.0h1.0v1.0h-1.0zM244.5 66.4h1.0v1.0h-1.0zM225.7 98.7h1.0v1.0h-1.0zM227.5 119.0h1.0v1.0h-1.0zM229.8 54.9h1.0v1.0h-1.0zM234.9 82.9h1.0v1.0h-1.0zM232.5 63.4h1.0v1.0h-1.0zM225.9 110.8h1.0v1.0h-1.0zM241.2 100.8h1.0v1.0h-1.0zM226.3 95.3h1.0v1.0h-1.0zM227.5 72.4h1.0v1.0h-1.0zM226.7 86.4h1.0v1.0h-1.0zM242.7 103.5h1.0v1.0h-1.0zM226.6 85.0h1.0v1.0h-1.0zM233.0 55.6h1.0v1.0h-1.0zM236.0 66.9h1.0v1.0h-1.0zM238.6 113.9h1.0v1.0h-1.0zM227.3 58.6h1.0v1.0h-1.0zM229.1 57.0h1.0v1.0h-1.0zM230.4 99.5h1.0v1.0h-1.0zM227.6 96.4h1.0v1.0h-1.0zM232.4 113.2h1.0v1.0h-1.0zM229.6 95.2h1.0v1.0h-1.0zM231.1 99.9h1.0v1.0h-1.0zM247.5 78.6h1.0v1.0h-1.0zM229.0 54.0h1.0v1.0h-1.0zM233.6 88.8h1.0v1.0h-1.0zM236.5 137.3h1.0v1.0h-1.0zM237.1 126.7h1.0v1.0h-1.0zM234.1 63.2h1.0v1.0h-1.0zM226.4 57.1h1.0v1.0h-1.0zM232.5 142.6h1.0v1.0h-1.0zM225.4 129.0h1.0v1.0h-1.0zM228.2 55.2h1.0v1.0h-1.0zM226.5 66.2h1.0v1.0h-1.0zM227.7 85.7h1.0v1.0h-1.0zM242.7 86.9h1.0v1.0h-1.0zM238.6 87.1h1.0v1.0h-1.0zM226.6 75.6h1.0v1.0h-1.0zM227.1 81.6h1.0v1.0h-1.0zM230.5 143.8h1.0v1.0h-1.0zM225.5 74.3h1.0v1.0h-1.0zM225.2 72.2h1.0v1.0h-1.0zM225.3 99.2h1.0v1.0h-1.0zM249.8 132.3h1.0v1.0h-1.0zM225.2 59.3h1.0v1.0h-1.0zM247.0 80.3h1.0v1.0h-1.0zM229.7 65.6h1.0v1.0h-1.0zM228.5 138.9h1.0v1.0h-1.0zM225.2 119.2h1.0v1.0h-1.0zM226.5 98.5h1.0v1.0h-1.0zM239.7 122.3h1.0v1.0h-1.0zM227.3 81.9h1.0v1.0h-1.0zM224.9 149.4h1.0v1.0h-1.0zM246.1 141.8h1.0v1.0h-1.0zM227.1 79.0h1.0v1.0h-1.0zM226.8 104.9h1.0v1.0h-1.0zM238.8 64.0h1.0v1.0h-1.0zM225.0 151.1h1.0v1.0h-1.0zM225.9 87.5h1.0v1.0h-1.0zM245.7 106.8h1.0v1.0h-1.0zM228.1 96.8h1.0v1.0h-1.0zM230.0 119.7h1.0v1.0h-1.0zM250.3 133.9h1.0v1.0h-1.0zM240.9 123.1h1.0v1.0h-1.0zM250.5 129.2h1.0v1.0h-1.0zM234.4 68.1h1.0v1.0h-1.0zM225.3 135.8h1.0v1.0h-1.0zM232.8 109.9h1.0v1.0h-1.0zM225.6 54.6h1.0v1.0h-1.0zM234.7 112.1h1.0v1.0h-1.0zM233.9 125.8h1.0v1.0h-1.0zM243.7 152.5h1.0v1.0h-1.0zM226.2 59.4h1.0v1.0h-1.0zM241.2 73.2h1.0v1.0h-1.0zM226.8 71.9h1.0v1.0h-1.0zM225.5 93.8h1.0v1.0h-1.0zM226.4 105.7h1.0v1.0h-1.0zM228.6 85.3h1.0v1.0h-1.0zM226.7 143.7h1.0v1.0h-1.0zM225.3 115.5h1.0v1.0h-1.0zM235.0 129.1h1.0v1.0h-1.0zM225.6 115.5h1.0v1.0h-1.0zM236.7 58.8h1.0v1.0h-1.0zM228.3 67.4h1.0v1.0h-1.0zM232.4 54.7h1.0v1.0h-1.0zM235.1 84.2h1.0v1.0h-1.0zM226.8 77.2h1.0v1.0h-1.0zM228.3 62.4h1.0v1.0h-1.0zM247.3 74.3h1.0v1.0h-1.0zM239.1 101.8h1.0v1.0h-1.0zM232.4 54.6h1.0v1.0h-1.0zM226.4 57.0h1.0v1.0h-1.0zM230.3 132.5h1.0v1.0h-1.0zM234.7 82.3h1.0v1.0h-1.0zM232.2 96.6h1.0v1.0h-1.0zM231.0 81.1h1.0v1.0h-1.0zM225.5 120.3h1.0v1.0h-1.0zM228.9 110.3h1.0v1.0h-1.0zM230.2 78.6h1.0v1.0h-1.0zM226.2 118.2h1.0v1.0h-1.0zM228.6 65.3h1.0v1.0h-1.0zM235.0 120.3h1.0v1.0h-1.0zM227.4 72.5h1.0v1.0h-1.0zM227.8 150.5h1.0v1.0h-1.0zM236.4 61.7h1.0v1.0h-1.0zM236.7 147.8h1.0v1.0h-1.0zM234.9 96.1h1.0v1.0h-1.0zM230.8 142.2h1.0v1.0h-1.0zM228.9 107.7h1.0v1.0h-1.0zM230.9 53.0h1.0v1.0h-1.0zM224.8 95.7h1.0v1.0h-1.0zM249.0 147.9h1.0v1.0h-1.0zM225.6 92.0h1.0v1.0h-1.0zM267.3 136.6h1.0v1.0h-1.0zM228.6 97.0h1.0v1.0h-1.0zM240.8 80.9h1.0v1.0h-1.0zM227.5 71.1h1.0v1.0h-1.0zM238.5 144.2h1.0v1.0h-1.0zM228.0 71.7h1.0v1.0h-1.0zM245.1 109.3h1.0v1.0h-1.0zM229.4 72.2h1.0v1.0h-1.0zM234.9 55.0h1.0v1.0h-1.0zM231.6 76.4h1.0v1.0h-1.0zM234.2 119.3h1.0v1.0h-1.0zM235.6 114.5h1.0v1.0h-1.0zM228.4 135.5h1.0v1.0h-1.0zM244.4 140.8h1.0v1.0h-1.0zM230.4 148.7h1.0v1.0h-1.0zM228.2 75.1h1.0v1.0h-1.0zM232.4 129.5h1.0v1.0h-1.0zM229.9 128.4h1.0v1.0h-1.0zM240.4 101.9h1.0v1.0h-1.0zM228.5 85.8h1.0v1.0h-1.0zM254.1 123.1h1.0v1.0h-1.0zM233.0 116.9h1.0v1.0h-1.0zM229.9 79.4h1.0v1.0h-1.0zM235.7 51.8h1.0v1.0h-1.0zM235.1 88.9h1.0v1.0h-1.0zM229.2 132.3h1.0v1.0h-1.0zM227.1 152.4h1.0v1.0h-1.0zM227.7 147.6h1.0v1.0h-1.0zM225.5 115.7h1.0v1.0h-1.0zM261.9 108.3h1.0v1.0h-1.0zM227.4 145.0h1.0v1.0h-1.0zM227.0 62.8h1.0v1.0h-1.0zM226.7 82.4h1.0v1.0h-1.0zM230.5 147.3h1.0v1.0h-1.0zM226.3 75.3h1.0v1.0h-1.0zM230.2 102.0h1.0v1.0h-1.0zM227.3 67.2h1.0v1.0h-1.0zM233.3 92.3h1.0v1.0h-1.0zM226.4 127.6h1.0v1.0h-1.0zM234.3 99.0h1.0v1.0h-1.0zM230.6 63.9h1.0v1.0h-1.0zM233.0 101.3h1.0v1.0h-1.0zM228.5 78.0h1.0v1.0h-1.0zM230.9 56.6h1.0v1.0h-1.0zM234.9 123.8h1.0v1.0h-1.0zM238.0 108.1h1.0v1.0h-1.0zM235.8 113.7h1.0v1.0h-1.0zM237.6 53.9h1.0v1.0h-1.0zM226.9 117.4h1.0v1.0h-1.0zM239.6 125.5h1.0v1.0h-1.0zM228.0 99.8h1.0v1.0h-1.0zM229.4 142.4h1.0v1.0h-1.0zM270.6 100.9h1.0v1.0h-1.0zM231.5 65.1h1.0v1.0h-1.0zM225.7 96.1h1.0v1.0h-1.0zM263.2 84.5h1.0v1.0h-1.0zM226.2 54.6h1.0v1.0h-1.0zM227.3 113.8h1.0v1.0h-1.0zM234.9 126.4h1.0v1.0h-1.0zM232.2 137.9h1.0v1.0h-1.0zM236.0 54.0h1.0v1.0h-1.0zM230.5 78.9h1.0v1.0h-1.0zM234.3 97.7h1.0v1.0h-1.0zM227.6 58.3h1.0v1.0h-1.0zM229.6 118.2h1.0v1.0h-1.0zM229.4 139.0h1.0v1.0h-1.0zM226.6 86.1h1.0v1.0h-1.0zM238.3 57.1h1.0v1.0h-1.0zM231.1 93.6h1.0v1.0h-1.0zM239.2 83.3h1.0v1.0h-1.0zM232.6 75.9h1.0v1.0h-1.0zM231.3 107.9h1.0v1.0h-1.0zM226.9 135.5h1.0v1.0h-1.0zM231.2 122.5h1.0v1.0h-1.0zM229.9 100.4h1.0v1.0h-1.0zM232.1 76.2h1.0v1.0h-1.0zM233.1 98.4h1.0v1.0h-1.0zM230.1 142.4h1.0v1.0h-1.0zM227.1 141.3h1.0v1.0h-1.0zM232.1 110.3h1.0v1.0h-1.0zM225.1 125.5h1.0v1.0h-1.0zM247.0 73.6h1.0v1.0h-1.0zM230.8 129.7h1.0v1.0h-1.0zM240.4 113.1h1.0v1.0h-1.0zM232.8 88.6h1.0v1.0h-1.0zM227.2 52.4h1.0v1.0h-1.0zM225.8 62.5h1.0v1.0h-1.0zM225.2 70.3h1.0v1.0h-1.0zM235.4 128.7h1.0v1.0h-1.0zM243.9 128.0h1.0v1.0h-1.0zM225.0 147.2h1.0v1.0h-1.0zM225.4 69.8h1.0v1.0h-1.0zM236.5 125.7h1.0v1.0h-1.0zM231.5 134.5h1.0v1.0h-1.0zM235.3 66.0h1.0v1.0h-1.0zM230.2 54.1h1.0v1.0h-1.0zM227.8 55.2h1.0v1.0h-1.0zM234.8 122.8h1.0v1.0h-1.0zM224.8 61.7h1.0v1.0h-1.0zM230.6 64.7h1.0v1.0h-1.0zM230.6 64.0h1.0v1.0h-1.0zM235.2 61.8h1.0v1.0h-1.0zM232.5 137.5h1.0v1.0h-1.0zM244.0 112.8h1.0v1.0h-1.0zM240.0 114.3h1.0v1.0h-1.0zM228.7 112.1h1.0v1.0h-1.0zM231.3 149.4h1.0v1.0h-1.0zM228.4 126.8h1.0v1.0h-1.0zM234.4 139.8h1.0v1.0h-1.0zM228.6 133.2h1.0v1.0h-1.0zM236.4 151.2h1.0v1.0h-1.0zM234.0 125.4h1.0v1.0h-1.0zM231.6 130.7h1.0v1.0h-1.0zM232.8 127.0h1.0v1.0h-1.0zM230.0 142.7h1.0v1.0h-1.0zM230.7 149.8h1.0v1.0h-1.0zM240.1 133.3h1.0v1.0h-1.0zM238.5 133.2h1.0v1.0h-1.0zM226.0 149.3h1.0v1.0h-1.0zM231.4 124.3h1.0v1.0h-1.0zM236.6 145.6h1.0v1.0h-1.0zM237.2 148.5h1.0v1.0h-1.0zM226.8 141.1h1.0v1.0h-1.0zM225.8 125.8h1.0v1.0h-1.0zM225.3 141.3h1.0v1.0h-1.0zM234.0 143.7h1.0v1.0h-1.0zM233.0 150.6h1.0v1.0h-1.0zM252.6 137.1h1.0v1.0h-1.0zM252.7 139.4h1.0v1.0h-1.0zM229.0 146.4h1.0v1.0h-1.0zM227.2 130.4h1.0v1.0h-1.0zM242.3 128.7h1.0v1.0h-1.0zM227.5 137.2h1.0v1.0h-1.0zM242.4 141.4h1.0v1.0h-1.0zM235.6 133.1h1.0v1.0h-1.0zM226.6 141.7h1.0v1.0h-1.0zM236.0 145.2h1.0v1.0h-1.0zM227.4 147.8h1.0v1.0h-1.0zM225.7 152.0h1.0v1.0h-1.0zM238.4 140.3h1.0v1.0h-1.0zM237.3 134.9h1.0v1.0h-1.0zM231.3 133.5h1.0v1.0h-1.0zM224.8 145.5h1.0v1.0h-1.0zM224.8 142.6h1.0v1.0h-1.0zM243.2 147.8h1.0v1.0h-1.0zM229.6 138.7h1.0v1.0h-1.0zM228.1 147.7h1.0v1.0h-1.0zM234.3 144.9h1.0v1.0h-1.0zM224.8 147.5h1.0v1.0h-1.0zM244.1 131.1h1.0v1.0h-1.0zM240.9 137.8h1.0v1.0h-1.0zM239.4 126.7h1.0v1.0h-1.0zM230.2 124.4h1.0v1.0h-1.0zM235.9 126.7h1.0v1.0h-1.0zM245.4 146.4h1.0v1.0h-1.0zM230.3 149.1h1.0v1.0h-1.0zM229.6 147.4h1.0v1.0h-1.0zM232.3 150.8h1.0v1.0h-1.0zM235.1 137.2h1.0v1.0h-1.0zM230.0 122.6h1.0v1.0h-1.0zM233.8 140.8h1.0v1.0h-1.0zM230.7 125.3h1.0v1.0h-1.0zM242.3 148.4h1.0v1.0h-1.0zM266.2 139.5h1.0v1.0h-1.0zM228.9 133.0h1.0v1.0h-1.0zM258.0 140.4h1.0v1.0h-1.0zM226.3 122.7h1.0v1.0h-1.0zM225.6 127.4h1.0v1.0h-1.0zM228.2 145.3h1.0v1.0h-1.0zM225.1 123.3h1.0v1.0h-1.0zM234.0 129.5h1.0v1.0h-1.0zM225.1 132.2h1.0v1.0h-1.0zM238.9 140.6h1.0v1.0h-1.0zM227.4 145.7h1.0v1.0h-1.0zM225.8 151.0h1.0v1.0h-1.0zM232.1 134.5h1.0v1.0h-1.0zM231.9 127.5h1.0v1.0h-1.0zM229.7 126.7h1.0v1.0h-1.0zM227.2 132.7h1.0v1.0h-1.0zM225.3 137.5h1.0v1.0h-1.0zM230.9 132.6h1.0v1.0h-1.0zM225.5 126.2h1.0v1.0h-1.0zM229.3 125.1h1.0v1.0h-1.0zM238.9 143.9h1.0v1.0h-1.0zM226.3 125.4h1.0v1.0h-1.0zM227.2 139.2h1.0v1.0h-1.0zM227.4 152.0h1.0v1.0h-1.0zM256.5 128.8h1.0v1.0h-1.0zM225.5 137.2h1.0v1.0h-1.0zM225.7 123.2h1.0v1.0h-1.0zM233.8 149.8h1.0v1.0h-1.0zM230.3 133.0h1.0v1.0h-1.0zM226.7 143.0h1.0v1.0h-1.0zM235.3 147.4h1.0v1.0h-1.0zM233.1 145.0h1.0v1.0h-1.0zM241.4 125.6h1.0v1.0h-1.0zM235.2 152.0h1.0v1.0h-1.0zM231.2 151.6h1.0v1.0h-1.0zM231.0 145.5h1.0v1.0h-1.0zM225.3 151.8h1.0v1.0h-1.0zM225.2 124.8h1.0v1.0h-1.0zM236.2 144.2h1.0v1.0h-1.0zM237.9 150.4h1.0v1.0h-1.0zM227.2 135.5h1.0v1.0h-1.0zM233.9 137.6h1.0v1.0h-1.0zM229.9 150.7h1.0v1.0h-1.0zM229.5 152.1h1.0v1.0h-1.0zM265.4 132.3h1.0v1.0h-1.0zM232.5 140.6h1.0v1.0h-1.0zM226.9 139.8h1.0v1.0h-1.0zM228.1 150.8h1.0v1.0h-1.0zM232.3 127.0h1.0v1.0h-1.0zM226.3 131.3h1.0v1.0h-1.0zM235.9 144.4h1.0v1.0h-1.0zM229.9 151.4h1.0v1.0h-1.0zM225.9 143.1h1.0v1.0h-1.0zM225.2 151.9h1.0v1.0h-1.0zM233.8 125.1h1.0v1.0h-1.0zM238.6 126.2h1.0v1.0h-1.0zM233.7 143.2h1.0v1.0h-1.0zM249.6 152.4h1.0v1.0h-1.0zM226.6 122.5h1.0v1.0h-1.0zM228.5 142.8h1.0v1.0h-1.0zM230.7 152.2h1.0v1.0h-1.0zM232.2 151.9h1.0v1.0h-1.0zM225.0 133.5h1.0v1.0h-1.0zM225.2 126.2h1.0v1.0h-1.0zM227.0 147.2h1.0v1.0h-1.0zM228.9 150.3h1.0v1.0h-1.0zM233.8 133.6h1.0v1.0h-1.0zM231.5 141.6h1.0v1.0h-1.0zM253.9 143.2h1.0v1.0h-1.0zM231.0 126.2h1.0v1.0h-1.0zM249.4 143.5h1.0v1.0h-1.0zM244.1 145.1h1.0v1.0h-1.0zM237.6 131.6h1.0v1.0h-1.0zM235.7 127.4h1.0v1.0h-1.0zM225.5 150.1h1.0v1.0h-1.0zM225.2 145.6h1.0v1.0h-1.0zM224.9 123.0h1.0v1.0h-1.0zM227.8 149.3h1.0v1.0h-1.0zM233.6 124.1h1.0v1.0h-1.0zM238.5 126.9h1.0v1.0h-1.0zM225.5 146.3h1.0v1.0h-1.0zM232.0 133.0h1.0v1.0h-1.0zM225.2 134.2h1.0v1.0h-1.0zM227.0 131.5h1.0v1.0h-1.0zM226.2 122.9h1.0v1.0h-1.0zM229.4 139.8h1.0v1.0h-1.0zM231.0 135.2h1.0v1.0h-1.0zM232.6 131.1h1.0v1.0h-1.0zM241.3 149.1h1.0v1.0h-1.0zM243.7 145.1h1.0v1.0h-1.0zM242.2 144.6h1.0v1.0h-1.0zM226.8 138.1h1.0v1.0h-1.0zM228.5 133.5h1.0v1.0h-1.0zM231.6 151.5h1.0v1.0h-1.0zM246.1 134.7h1.0v1.0h-1.0zM227.9 131.6h1.0v1.0h-1.0zM231.8 131.4h1.0v1.0h-1.0zM230.6 148.0h1.0v1.0h-1.0zM242.6 144.4h1.0v1.0h-1.0zM232.0 149.3h1.0v1.0h-1.0zM227.1 129.0h1.0v1.0h-1.0zM237.5 125.8h1.0v1.0h-1.0zM236.5 139.0h1.0v1.0h-1.0zM228.1 137.8h1.0v1.0h-1.0zM225.8 147.8h1.0v1.0h-1.0zM228.5 127.6h1.0v1.0h-1.0zM225.8 143.7h1.0v1.0h-1.0zM231.9 127.9h1.0v1.0h-1.0zM228.2 126.3h1.0v1.0h-1.0zM227.3 151.2h1.0v1.0h-1.0zM233.8 144.2h1.0v1.0h-1.0zM226.5 151.2h1.0v1.0h-1.0zM239.7 139.8h1.0v1.0h-1.0zM234.4 132.4h1.0v1.0h-1.0zM230.8 143.0h1.0v1.0h-1.0zM227.1 145.9h1.0v1.0h-1.0zM230.1 142.5h1.0v1.0h-1.0zM229.9 129.2h1.0v1.0h-1.0zM233.7 124.9h1.0v1.0h-1.0zM229.1 148.7h1.0v1.0h-1.0zM233.7 139.8h1.0v1.0h-1.0zM225.0 137.1h1.0v1.0h-1.0zM233.2 147.0h1.0v1.0h-1.0zM228.8 149.8h1.0v1.0h-1.0zM231.3 151.7h1.0v1.0h-1.0zM227.0 152.4h1.0v1.0h-1.0zM234.3 132.7h1.0v1.0h-1.0zM225.4 124.0h1.0v1.0h-1.0zM224.8 148.4h1.0v1.0h-1.0zM229.6 148.2h1.0v1.0h-1.0zM228.6 141.6h1.0v1.0h-1.0zM232.6 148.9h1.0v1.0h-1.0zM238.6 151.7h1.0v1.0h-1.0zM228.1 137.2h1.0v1.0h-1.0zM225.7 140.5h1.0v1.0h-1.0zM234.8 122.7h1.0v1.0h-1.0zM226.7 137.3h1.0v1.0h-1.0zM225.7 142.7h1.0v1.0h-1.0zM234.7 127.3h1.0v1.0h-1.0zM237.6 130.6h1.0v1.0h-1.0zM236.4 149.8h1.0v1.0h-1.0zM228.1 149.5h1.0v1.0h-1.0zM226.7 149.8h1.0v1.0h-1.0zM230.2 150.1h1.0v1.0h-1.0zM235.0 150.2h1.0v1.0h-1.0zM240.8 141.8h1.0v1.0h-1.0zM238.0 130.2h1.0v1.0h-1.0zM225.0 131.8h1.0v1.0h-1.0zM232.2 143.5h1.0v1.0h-1.0zM225.3 134.2h1.0v1.0h-1.0zM230.4 124.5h1.0v1.0h-1.0zM237.4 127.0h1.0v1.0h-1.0zM224.7 140.5h1.0v1.0h-1.0zM232.3 150.2h1.0v1.0h-1.0zM241.8 131.7h1.0v1.0h-1.0zM257.8 124.7h1.0v1.0h-1.0zM257.5 144.7h1.0v1.0h-1.0zM224.9 151.2h1.0v1.0h-1.0zM226.3 143.5h1.0v1.0h-1.0zM243.6 148.7h1.0v1.0h-1.0zM245.8 145.2h1.0v1.0h-1.0zM228.3 147.7h1.0v1.0h-1.0zM243.6 143.0h1.0v1.0h-1.0zM230.3 143.5h1.0v1.0h-1.0zM242.0 128.3h1.0v1.0h-1.0zM228.0 148.9h1.0v1.0h-1.0zM233.5 150.6h1.0v1.0h-1.0zM232.9 141.9h1.0v1.0h-1.0zM237.7 136.8h1.0v1.0h-1.0zM253.4 131.0h1.0v1.0h-1.0zM226.8 146.6h1.0v1.0h-1.0zM240.4 138.5h1.0v1.0h-1.0zM227.2 131.7h1.0v1.0h-1.0zM241.2 135.2h1.0v1.0h-1.0zM257.7 152.5h1.0v1.0h-1.0zM234.6 127.2h1.0v1.0h-1.0zM226.7 127.0h1.0v1.0h-1.0zM225.8 149.5h1.0v1.0h-1.0zM237.3 126.7h1.0v1.0h-1.0zM224.8 139.3h1.0v1.0h-1.0zM235.9 151.2h1.0v1.0h-1.0zM234.9 127.1h1.0v1.0h-1.0zM224.7 143.7h1.0v1.0h-1.0zM244.5 147.9h1.0v1.0h-1.0zM234.6 145.6h1.0v1.0h-1.0zM227.8 151.9h1.0v1.0h-1.0zM225.0 140.7h1.0v1.0h-1.0zM236.8 128.8h1.0v1.0h-1.0zM227.0 150.3h1.0v1.0h-1.0zM240.4 127.5h1.0v1.0h-1.0zM225.9 131.2h1.0v1.0h-1.0zM227.6 151.5h1.0v1.0h-1.0zM226.9 130.7h1.0v1.0h-1.0zM226.3 128.0h1.0v1.0h-1.0zM232.2 140.0h1.0v1.0h-1.0zM234.0 129.2h1.0v1.0h-1.0zM231.4 131.5h1.0v1.0h-1.0zM229.2 149.2h1.0v1.0h-1.0zM260.6 132.3h1.0v1.0h-1.0zM232.5 140.7h1.0v1.0h-1.0zM243.7 149.5h1.0v1.0h-1.0zM241.5 141.4h1.0v1.0h-1.0zM226.5 146.2h1.0v1.0h-1.0zM229.6 143.9h1.0v1.0h-1.0zM226.3 123.7h1.0v1.0h-1.0zM227.8 143.0h1.0v1.0h-1.0zM225.6 150.7h1.0v1.0h-1.0zM231.9 122.8h1.0v1.0h-1.0zM233.0 132.7h1.0v1.0h-1.0zM226.3 134.9h1.0v1.0h-1.0zM233.0 133.9h1.0v1.0h-1.0zM233.5 140.8h1.0v1.0h-1.0zM231.7 127.4h1.0v1.0h-1.0zM227.1 133.1h1.0v1.0h-1.0zM226.1 125.4h1.0v1.0h-1.0zM227.0 132.6h1.0v1.0h-1.0zM226.0 143.4h1.0v1.0h-1.0zM239.9 133.2h1.0v1.0h-1.0zM225.2 148.7h1.0v1.0h-1.0zM235.6 149.6h1.0v1.0h-1.0zM239.5 148.7h1.0v1.0h-1.0zM227.2 133.6h1.0v1.0h-1.0zM227.6 135.2h1.0v1.0h-1.0zM226.3 136.1h1.0v1.0h-1.0zM227.5 135.2h1.0v1.0h-1.0zM235.9 137.8h1.0v1.0h-1.0zM225.3 147.6h1.0v1.0h-1.0zM228.0 149.6h1.0v1.0h-1.0zM239.3 124.2h1.0v1.0h-1.0zM238.1 151.0h1.0v1.0h-1.0zM225.4 144.3h1.0v1.0h-1.0zM230.6 131.4h1.0v1.0h-1.0zM231.4 138.4h1.0v1.0h-1.0zM224.7 124.4h1.0v1.0h-1.0zM235.1 127.6h1.0v1.0h-1.0zM229.5 127.9h1.0v1.0h-1.0zM233.7 126.4h1.0v1.0h-1.0zM238.9 143.5h1.0v1.0h-1.0zM225.7 151.8h1.0v1.0h-1.0zM232.5 138.9h1.0v1.0h-1.0zM228.8 151.3h1.0v1.0h-1.0zM225.2 149.4h1.0v1.0h-1.0zM228.2 140.2h1.0v1.0h-1.0zM267.1 139.8h1.0v1.0h-1.0zM259.3 131.0h1.0v1.0h-1.0zM231.5 127.1h1.0v1.0h-1.0zM236.0 136.9h1.0v1.0h-1.0zM231.8 150.8h1.0v1.0h-1.0zM231.9 123.2h1.0v1.0h-1.0zM225.4 125.7h1.0v1.0h-1.0zM228.0 146.8h1.0v1.0h-1.0zM239.7 152.5h1.0v1.0h-1.0zM246.1 147.3h1.0v1.0h-1.0zM230.1 150.7h1.0v1.0h-1.0zM238.2 139.6h1.0v1.0h-1.0zM227.2 129.9h1.0v1.0h-1.0zM231.2 132.4h1.0v1.0h-1.0zM226.5 147.0h1.0v1.0h-1.0zM226.9 135.8h1.0v1.0h-1.0zM243.8 152.4h1.0v1.0h-1.0zM225.2 132.8h1.0v1.0h-1.0zM227.3 137.2h1.0v1.0h-1.0zM238.8 139.1h1.0v1.0h-1.0zM226.4 151.8h1.0v1.0h-1.0zM239.6 151.0h1.0v1.0h-1.0zM232.2 127.4h1.0v1.0h-1.0zM229.7 152.0h1.0v1.0h-1.0zM226.0 150.4h1.0v1.0h-1.0zM227.9 145.3h1.0v1.0h-1.0zM234.8 133.1h1.0v1.0h-1.0zM226.2 140.0h1.0v1.0h-1.0zM225.5 143.6h1.0v1.0h-1.0zM236.6 142.5h1.0v1.0h-1.0zM235.0 134.4h1.0v1.0h-1.0zM227.0 143.2h1.0v1.0h-1.0zM226.0 127.3h1.0v1.0h-1.0zM226.1 144.7h1.0v1.0h-1.0zM237.3 132.6h1.0v1.0h-1.0zM236.6 147.9h1.0v1.0h-1.0zM232.7 152.2h1.0v1.0h-1.0zM230.0 149.5h1.0v1.0h-1.0zM230.1 137.8h1.0v1.0h-1.0zM224.9 130.4h1.0v1.0h-1.0zM229.0 147.9h1.0v1.0h-1.0zM226.8 142.9h1.0v1.0h-1.0zM248.0 123.8h1.0v1.0h-1.0zM227.7 148.5h1.0v1.0h-1.0zM244.3 145.8h1.0v1.0h-1.0zM229.2 128.3h1.0v1.0h-1.0zM239.2 151.9h1.0v1.0h-1.0zM228.0 135.6h1.0v1.0h-1.0zM228.6 138.3h1.0v1.0h-1.0zM234.2 145.4h1.0v1.0h-1.0zM226.3 143.4h1.0v1.0h-1.0zM239.1 149.6h1.0v1.0h-1.0zM234.5 138.9h1.0v1.0h-1.0zM226.3 136.5h1.0v1.0h-1.0zM226.7 151.9h1.0v1.0h-1.0zM228.6 143.4h1.0v1.0h-1.0zM244.6 144.0h1.0v1.0h-1.0zM225.1 152.3h1.0v1.0h-1.0zM236.0 132.5h1.0v1.0h-1.0zM227.3 146.6h1.0v1.0h-1.0zM233.8 144.3h1.0v1.0h-1.0zM242.0 146.1h1.0v1.0h-1.0zM251.4 141.4h1.0v1.0h-1.0zM231.2 135.7h1.0v1.0h-1.0zM225.1 142.7h1.0v1.0h-1.0zM228.1 129.7h1.0v1.0h-1.0zM240.7 150.3h1.0v1.0h-1.0zM257.2 134.2h1.0v1.0h-1.0zM231.8 152.4h1.0v1.0h-1.0zM239.5 131.6h1.0v1.0h-1.0zM225.3 148.0h1.0v1.0h-1.0zM230.4 143.3h1.0v1.0h-1.0zM234.2 124.1h1.0v1.0h-1.0zM232.3 145.2h1.0v1.0h-1.0zM225.2 136.2h1.0v1.0h-1.0zM229.3 147.7h1.0v1.0h-1.0zM227.3 125.5h1.0v1.0h-1.0zM229.0 148.4h1.0v1.0h-1.0zM241.3 142.9h1.0v1.0h-1.0zM224.8 137.7h1.0v1.0h-1.0zM234.3 142.4h1.0v1.0h-1.0zM242.2 141.5h1.0v1.0h-1.0zM224.7 150.7h1.0v1.0h-1.0zM236.3 150.8h1.0v1.0h-1.0zM243.6 147.6h1.0v1.0h-1.0zM225.3 129.9h1.0v1.0h-1.0zM231.6 151.5h1.0v1.0h-1.0zM233.9 133.0h1.0v1.0h-1.0zM224.9 144.0h1.0v1.0h-1.0zM244.2 131.1h1.0v1.0h-1.0zM225.2 124.1h1.0v1.0h-1.0zM224.8 152.4h1.0v1.0h-1.0zM226.6 126.6h1.0v1.0h-1.0zM225.2 151.2h1.0v1.0h-1.0zM234.0 135.0h1.0v1.0h-1.0zM225.8 131.5h1.0v1.0h-1.0zM225.4 147.3h1.0v1.0h-1.0zM232.6 142.7h1.0v1.0h-1.0zM229.5 146.9h1.0v1.0h-1.0zM225.1 149.0h1.0v1.0h-1.0zM226.0 142.4h1.0v1.0h-1.0zM227.3 136.7h1.0v1.0h-1.0zM235.2 142.9h1.0v1.0h-1.0zM230.9 147.7h1.0v1.0h-1.0zM224.8 144.3h1.0v1.0h-1.0zM230.1 133.5h1.0v1.0h-1.0zM234.3 143.9h1.0v1.0h-1.0zM234.8 150.0h1.0v1.0h-1.0zM226.6 136.6h1.0v1.0h-1.0zM230.3 150.3h1.0v1.0h-1.0zM233.1 147.3h1.0v1.0h-1.0zM249.3 149.7h1.0v1.0h-1.0zM224.7 125.3h1.0v1.0h-1.0zM229.3 137.1h1.0v1.0h-1.0zM229.0 128.0h1.0v1.0h-1.0zM226.7 140.9h1.0v1.0h-1.0zM231.1 124.5h1.0v1.0h-1.0zM225.2 126.7h1.0v1.0h-1.0zM233.6 142.7h1.0v1.0h-1.0zM229.0 145.6h1.0v1.0h-1.0zM225.9 144.7h1.0v1.0h-1.0zM237.0 124.1h1.0v1.0h-1.0zM234.6 135.6h1.0v1.0h-1.0zM231.1 122.8h1.0v1.0h-1.0zM225.5 130.9h1.0v1.0h-1.0zM226.2 141.8h1.0v1.0h-1.0zM226.9 150.9h1.0v1.0h-1.0zM234.7 131.9h1.0v1.0h-1.0zM247.7 150.1h1.0v1.0h-1.0zM242.4 143.9h1.0v1.0h-1.0zM241.0 136.1h1.0v1.0h-1.0zM237.4 136.3h1.0v1.0h-1.0zM236.4 147.1h1.0v1.0h-1.0zM228.9 135.5h1.0v1.0h-1.0zM225.5 123.1h1.0v1.0h-1.0zM227.3 146.3h1.0v1.0h-1.0zM227.2 129.9h1.0v1.0h-1.0zM251.7 140.3h1.0v1.0h-1.0zM257.9 123.4h1.0v1.0h-1.0zM226.7 147.9h1.0v1.0h-1.0zM228.9 141.6h1.0v1.0h-1.0zM228.8 127.5h1.0v1.0h-1.0zM228.1 145.6h1.0v1.0h-1.0zM244.2 129.9h1.0v1.0h-1.0zM235.0 125.1h1.0v1.0h-1.0zM244.4 131.4h1.0v1.0h-1.0z" fill="#e4453e" />
<path d="M225.2,153 L225.2,126 Q233,131 242,153 Z" fill="#e8483f" opacity="0.85"/>
<path d="M217.5,153 L218.5,122 L223.8,122 L225,153 Z" fill="#8a8a8a" opacity="0.75"/>
<line x1="240.50" y1="153.00" x2="251.00" y2="134.00" stroke="#e03a34" stroke-width="0.7" />
<line x1="240.50" y1="153.00" x2="255.00" y2="137.00" stroke="#e03a34" stroke-width="0.7" />
<line x1="240.50" y1="153.00" x2="259.50" y2="140.00" stroke="#e03a34" stroke-width="0.7" />
<line x1="240.90" y1="152.80" x2="266.30" y2="139.00" stroke="#d8302c" stroke-width="1.5" />
<line x1="225.20" y1="53.00" x2="258.00" y2="53.00" stroke="#a82020" stroke-width="1.4" />
<line x1="200.00" y1="53.00" x2="219.50" y2="53.00" stroke="#26306a" stroke-width="1.2" />
</g>
<path d="M173.6,52.3 L275.8,52.3 L275.8,153.1 L173.6,153.1 Z" fill="none" stroke="#111" stroke-width="1.1" />
<line x1="171.20" y1="153.00" x2="173.60" y2="153.00" stroke="#111" stroke-width="0.8" />
<text x="170.0" y="155.5" font-size="7.0" text-anchor="end"  stroke="#2b2b2b" stroke-width="0.08">0</text>
<line x1="171.20" y1="132.88" x2="173.60" y2="132.88" stroke="#111" stroke-width="0.8" />
<text x="170.0" y="135.4" font-size="7.0" text-anchor="end"  stroke="#2b2b2b" stroke-width="0.08">20</text>
<line x1="171.20" y1="112.76" x2="173.60" y2="112.76" stroke="#111" stroke-width="0.8" />
<text x="170.0" y="115.3" font-size="7.0" text-anchor="end"  stroke="#2b2b2b" stroke-width="0.08">40</text>
<line x1="171.20" y1="92.64" x2="173.60" y2="92.64" stroke="#111" stroke-width="0.8" />
<text x="170.0" y="95.2" font-size="7.0" text-anchor="end"  stroke="#2b2b2b" stroke-width="0.08">60</text>
<line x1="171.20" y1="72.52" x2="173.60" y2="72.52" stroke="#111" stroke-width="0.8" />
<text x="170.0" y="75.0" font-size="7.0" text-anchor="end"  stroke="#2b2b2b" stroke-width="0.08">80</text>
<line x1="171.20" y1="52.40" x2="173.60" y2="52.40" stroke="#111" stroke-width="0.8" />
<text x="170.0" y="54.9" font-size="7.0" text-anchor="end"  stroke="#2b2b2b" stroke-width="0.08">100</text>
<line x1="182.50" y1="153.10" x2="182.50" y2="155.60" stroke="#111" stroke-width="0.8" />
<text x="182.5" y="165.2" font-size="7.0" text-anchor="middle"  stroke="#2b2b2b" stroke-width="0.08">−10</text>
<line x1="201.90" y1="153.10" x2="201.90" y2="155.60" stroke="#111" stroke-width="0.8" />
<text x="201.9" y="165.2" font-size="7.0" text-anchor="middle"  stroke="#2b2b2b" stroke-width="0.08">−5</text>
<line x1="221.30" y1="153.10" x2="221.30" y2="155.60" stroke="#111" stroke-width="0.8" />
<text x="221.3" y="165.2" font-size="7.0" text-anchor="middle"  stroke="#2b2b2b" stroke-width="0.08">0</text>
<line x1="240.70" y1="153.10" x2="240.70" y2="155.60" stroke="#111" stroke-width="0.8" />
<text x="240.7" y="165.2" font-size="7.0" text-anchor="middle"  stroke="#2b2b2b" stroke-width="0.08">5</text>
<line x1="260.10" y1="153.10" x2="260.10" y2="155.60" stroke="#111" stroke-width="0.8" />
<text x="260.1" y="165.2" font-size="7.0" text-anchor="middle"  stroke="#2b2b2b" stroke-width="0.08">10</text>
<text x="199.6" y="176.9" font-size="8.0" fill="#2b2b2b" textLength="50" lengthAdjust="spacingAndGlyphs" stroke="#2b2b2b" stroke-width="0.15">Log<tspan font-size="5.2" dy="2">2</tspan><tspan dy="-2"> fold change</tspan></text>
<text transform="translate(151.4,100.5) rotate(-90)" x="0" y="0" font-size="8.0" text-anchor="middle" fill="#2b2b2b" textLength="46" lengthAdjust="spacingAndGlyphs" stroke="#2b2b2b" stroke-width="0.15">-Log<tspan font-size="4.5" dy="1.8">10</tspan><tspan dy="-1.8"> (</tspan><tspan font-style="italic">Padj</tspan>)</text>
<text x="321.5" y="16.6" font-size="11.5" fill="#000" font-weight="bold"  stroke="#000" stroke-width="0.15">C</text>
<text x="432.0" y="17.5" font-size="8.6" textLength="79.3" lengthAdjust="spacing"  stroke="#2b2b2b" stroke-width="0.15">MEP Downregulated</text>
<text x="460.4" y="27.6" font-size="8.6" textLength="22.6" lengthAdjust="spacingAndGlyphs"  stroke="#2b2b2b" stroke-width="0.15">genes</text>
<rect x="442.10" y="45.70" width="18.29" height="5.60" fill="#f6921e" />
<line x1="439.80" y1="48.50" x2="442.10" y2="48.50" stroke="#111" stroke-width="0.8" />
<rect x="442.10" y="59.50" width="22.86" height="5.60" fill="#f6921e" />
<line x1="439.80" y1="62.30" x2="442.10" y2="62.30" stroke="#111" stroke-width="0.8" />
<rect x="442.10" y="72.80" width="25.91" height="5.60" fill="#c9731e" />
<line x1="439.80" y1="75.60" x2="442.10" y2="75.60" stroke="#111" stroke-width="0.8" />
<rect x="442.10" y="83.40" width="30.99" height="5.60" fill="#c9731e" />
<line x1="439.80" y1="86.20" x2="442.10" y2="86.20" stroke="#111" stroke-width="0.8" />
<rect x="442.10" y="94.10" width="40.64" height="5.60" fill="#c9731e" />
<line x1="439.80" y1="96.90" x2="442.10" y2="96.90" stroke="#111" stroke-width="0.8" />
<rect x="442.10" y="107.70" width="55.88" height="5.60" fill="#6a3a10" />
<line x1="439.80" y1="110.50" x2="442.10" y2="110.50" stroke="#111" stroke-width="0.8" />
<line x1="442.10" y1="42.00" x2="442.10" y2="118.50" stroke="#111" stroke-width="1.0" />
<line x1="442.10" y1="118.50" x2="499.00" y2="118.50" stroke="#111" stroke-width="1.0" />
<line x1="442.10" y1="118.50" x2="442.10" y2="121.00" stroke="#111" stroke-width="0.8" />
<text x="442.1" y="128.3" font-size="7.0" text-anchor="middle"  stroke="#2b2b2b" stroke-width="0.08">0</text>
<line x1="454.80" y1="118.50" x2="454.80" y2="121.00" stroke="#111" stroke-width="0.8" />
<text x="454.8" y="128.3" font-size="7.0" text-anchor="middle"  stroke="#2b2b2b" stroke-width="0.08">5</text>
<line x1="467.50" y1="118.50" x2="467.50" y2="121.00" stroke="#111" stroke-width="0.8" />
<text x="467.5" y="128.3" font-size="7.0" text-anchor="middle"  stroke="#2b2b2b" stroke-width="0.08">10</text>
<line x1="480.20" y1="118.50" x2="480.20" y2="121.00" stroke="#111" stroke-width="0.8" />
<text x="480.2" y="128.3" font-size="7.0" text-anchor="middle"  stroke="#2b2b2b" stroke-width="0.08">15</text>
<line x1="492.90" y1="118.50" x2="492.90" y2="121.00" stroke="#111" stroke-width="0.8" />
<text x="492.9" y="128.3" font-size="7.0" text-anchor="middle"  stroke="#2b2b2b" stroke-width="0.08">20</text>
<text x="452" y="139.1" font-size="7.4" fill="#2b2b2b" textLength="38" lengthAdjust="spacingAndGlyphs" stroke="#2b2b2b" stroke-width="0.08">−Log<tspan font-size="4.5" dy="1.8">10</tspan><tspan dy="-1.8">(</tspan><tspan font-style="italic">Padj</tspan>)</text>
<text x="436.0" y="50.6" font-size="6.5" text-anchor="end" textLength="104.0" lengthAdjust="spacing"  stroke="#2b2b2b" stroke-width="0.08">Carboxylic acid biosynthetic process</text>
<text x="436.0" y="61.2" font-size="6.5" text-anchor="end" textLength="94.5" lengthAdjust="spacing"  stroke="#2b2b2b" stroke-width="0.08">Erythrocytes take up oxygen and</text>
<text x="436.0" y="67.9" font-size="6.5" text-anchor="end" textLength="65.4" lengthAdjust="spacing"  stroke="#2b2b2b" stroke-width="0.08">release carbon dioxide</text>
<text x="436.0" y="77.5" font-size="6.5" text-anchor="end" textLength="94.0" lengthAdjust="spacing"  stroke="#2b2b2b" stroke-width="0.08">Transition metal ion homeostasis</text>
<text x="436.0" y="88.5" font-size="6.5" text-anchor="end" textLength="73.3" lengthAdjust="spacing" fill="#c8285a"  stroke="#c8285a" stroke-width="0.08">Erythrocyte development</text>
<text x="436.0" y="98.6" font-size="6.5" text-anchor="end" textLength="81.8" lengthAdjust="spacingAndGlyphs"  stroke="#2b2b2b" stroke-width="0.08">Transport of small molecules</text>
<text x="436.0" y="110.3" font-size="6.5" text-anchor="end" textLength="91.7" lengthAdjust="spacing"  stroke="#2b2b2b" stroke-width="0.08">Porphyrin-containing compound</text>
<text x="436.0" y="116.9" font-size="6.5" text-anchor="end" textLength="51.3" lengthAdjust="spacingAndGlyphs"  stroke="#2b2b2b" stroke-width="0.08">metabolic process</text>
<text x="7.2" y="205.6" font-size="11.5" fill="#000" font-weight="bold"  stroke="#000" stroke-width="0.15">D</text>
<text x="45.4" y="206.1" font-size="8.6" textLength="57.5" lengthAdjust="spacingAndGlyphs"  stroke="#2b2b2b" stroke-width="0.15">MEP ATAC-seq</text>
<rect x="26.20" y="223.80" width="24.50" height="24.60" fill="#c4ce20" />
<rect x="50.70" y="223.80" width="24.50" height="24.60" fill="#d0d41c" />
<rect x="75.20" y="223.80" width="24.50" height="24.60" fill="#e8380f" />
<rect x="99.70" y="223.80" width="24.50" height="24.60" fill="#8a0b0b" />
<rect x="26.20" y="248.40" width="24.50" height="24.60" fill="#d0d41c" />
<rect x="50.70" y="248.40" width="24.50" height="24.60" fill="#d0d41c" />
<rect x="75.20" y="248.40" width="24.50" height="24.60" fill="#8a0b0b" />
<rect x="99.70" y="248.40" width="24.50" height="24.60" fill="#e8380f" />
<rect x="26.20" y="273.00" width="24.50" height="24.60" fill="#e3120d" />
<rect x="50.70" y="273.00" width="24.50" height="24.60" fill="#8a0b0b" />
<rect x="75.20" y="273.00" width="24.50" height="24.60" fill="#d0d41c" />
<rect x="99.70" y="273.00" width="24.50" height="24.60" fill="#c4ce20" />
<rect x="26.20" y="297.60" width="24.50" height="24.60" fill="#8a0b0b" />
<rect x="50.70" y="297.60" width="24.50" height="24.60" fill="#e3120d" />
<rect x="75.20" y="297.60" width="24.50" height="24.60" fill="#d0d41c" />
<rect x="99.70" y="297.60" width="24.50" height="24.60" fill="#c4ce20" />
<line x1="50.70" y1="223.80" x2="50.70" y2="322.20" stroke="#2a1a10" stroke-width="1.1" />
<line x1="75.20" y1="223.80" x2="75.20" y2="322.20" stroke="#2a1a10" stroke-width="1.1" />
<line x1="99.70" y1="223.80" x2="99.70" y2="322.20" stroke="#2a1a10" stroke-width="1.1" />
<line x1="26.20" y1="248.40" x2="124.20" y2="248.40" stroke="#2a1a10" stroke-width="1.1" />
<line x1="26.20" y1="273.00" x2="124.20" y2="273.00" stroke="#2a1a10" stroke-width="1.1" />
<line x1="26.20" y1="297.60" x2="124.20" y2="297.60" stroke="#2a1a10" stroke-width="1.1" />
<rect x="26.2" y="223.8" width="98.0" height="98.39999999999998" fill="none" stroke="#2a1a10" stroke-width="0.9"/>
<path d="M25.9,238.4 H21.4 V261.3 H25.9 M21.4,249.6 H15.4 V296.2 H23.4 M25.9,284.7 H23.4 V307.8 H25.9" fill="none" stroke="#9a3a44" stroke-width="0.8" />
<text x="38.5" y="219.9" font-size="7.0" text-anchor="middle" textLength="16.2" lengthAdjust="spacingAndGlyphs"  stroke="#2b2b2b" stroke-width="0.08">fl/fl_1</text>
<text x="63.0" y="219.9" font-size="7.0" text-anchor="middle" textLength="16.2" lengthAdjust="spacingAndGlyphs"  stroke="#2b2b2b" stroke-width="0.08">fl/fl_2</text>
<text x="87.5" y="219.9" font-size="7.0" text-anchor="middle" textLength="16.2" lengthAdjust="spacingAndGlyphs"  stroke="#2b2b2b" stroke-width="0.08">Δ/Δ_1</text>
<text x="112.0" y="219.9" font-size="7.0" text-anchor="middle" textLength="16.2" lengthAdjust="spacingAndGlyphs"  stroke="#2b2b2b" stroke-width="0.08">Δ/Δ_2</text>
<text x="127.0" y="238.6" font-size="7.0" textLength="16.5" lengthAdjust="spacingAndGlyphs"  stroke="#2b2b2b" stroke-width="0.08">Δ/Δ_2</text>
<text x="127.0" y="263.2" font-size="7.0" textLength="16.5" lengthAdjust="spacingAndGlyphs"  stroke="#2b2b2b" stroke-width="0.08">Δ/Δ_1</text>
<text x="127.0" y="287.8" font-size="7.0" textLength="16.5" lengthAdjust="spacingAndGlyphs"  stroke="#2b2b2b" stroke-width="0.08">fl/fl_2</text>
<text x="127.0" y="312.4" font-size="7.0" textLength="16.5" lengthAdjust="spacingAndGlyphs"  stroke="#2b2b2b" stroke-width="0.08">fl/fl_1</text>
<defs><linearGradient id="cbD" x1="0" x2="1" y1="0" y2="0"><stop offset="0" stop-color="#14145a"/><stop offset="0.18" stop-color="#2a3a8a"/><stop offset="0.32" stop-color="#4a8ab8"/><stop offset="0.4" stop-color="#b8d8d8"/><stop offset="0.5" stop-color="#d8d890"/><stop offset="0.6" stop-color="#e8d838"/><stop offset="0.72" stop-color="#e89020"/><stop offset="0.85" stop-color="#d02018"/><stop offset="1" stop-color="#6a0808"/></linearGradient></defs>
<rect x="26.20" y="324.20" width="98.00" height="3.50" fill="url(#cbD)" />
<line x1="26.20" y1="327.70" x2="26.20" y2="329.20" stroke="#333" stroke-width="0.5" />
<line x1="38.45" y1="327.70" x2="38.45" y2="329.20" stroke="#333" stroke-width="0.5" />
<line x1="50.70" y1="327.70" x2="50.70" y2="329.20" stroke="#333" stroke-width="0.5" />
<line x1="62.95" y1="327.70" x2="62.95" y2="329.20" stroke="#333" stroke-width="0.5" />
<line x1="75.20" y1="327.70" x2="75.20" y2="329.20" stroke="#333" stroke-width="0.5" />
<line x1="87.45" y1="327.70" x2="87.45" y2="329.20" stroke="#333" stroke-width="0.5" />
<line x1="99.70" y1="327.70" x2="99.70" y2="329.20" stroke="#333" stroke-width="0.5" />
<line x1="111.95" y1="327.70" x2="111.95" y2="329.20" stroke="#333" stroke-width="0.5" />
<line x1="124.20" y1="327.70" x2="124.20" y2="329.20" stroke="#333" stroke-width="0.5" />
<text x="26.2" y="336.7" font-size="6.6" text-anchor="middle"  stroke="#2b2b2b" stroke-width="0.08">0.8</text>
<text x="50.7" y="336.7" font-size="6.6" text-anchor="middle"  stroke="#2b2b2b" stroke-width="0.08">0.85</text>
<text x="75.2" y="336.7" font-size="6.6" text-anchor="middle"  stroke="#2b2b2b" stroke-width="0.08">0.9</text>
<text x="99.7" y="336.7" font-size="6.6" text-anchor="middle"  stroke="#2b2b2b" stroke-width="0.08">0.95</text>
<text x="124.2" y="336.7" font-size="6.6" text-anchor="middle"  stroke="#2b2b2b" stroke-width="0.08">1.0</text>
<defs>
<linearGradient id="reds" x1="0" x2="0" y1="1" y2="0">
<stop offset="0" stop-color="#fff5f0"/><stop offset="0.15" stop-color="#fee0d2"/><stop offset="0.3" stop-color="#fcbba1"/>
<stop offset="0.45" stop-color="#fc9272"/><stop offset="0.6" stop-color="#fb6a4a"/><stop offset="0.72" stop-color="#ef3b2c"/>
<stop offset="0.85" stop-color="#cb181d"/><stop offset="0.93" stop-color="#a50f15"/><stop offset="1" stop-color="#5a000a"/></linearGradient>
<linearGradient id="hbgE" x1="0" x2="0" y1="0" y2="1">
<stop offset="0" stop-color="#fbc8b4"/><stop offset="0.12" stop-color="#fcdccd"/><stop offset="0.5" stop-color="#fde5da"/><stop offset="1" stop-color="#feede5"/></linearGradient>
<linearGradient id="hbgG" x1="0" x2="0" y1="0" y2="1">
<stop offset="0" stop-color="#fbc8b2"/><stop offset="0.2" stop-color="#fde2d6"/><stop offset="0.6" stop-color="#feeee7"/><stop offset="1" stop-color="#fef3ee"/></linearGradient>
<linearGradient id="plume" x1="0" x2="0" y1="0" y2="1">
<stop offset="0" stop-color="#b80c16"/><stop offset="0.35" stop-color="#d8261e"/><stop offset="0.7" stop-color="#f26a4c"/><stop offset="1" stop-color="#fcd0bc" stop-opacity="0"/></linearGradient>
<filter id="blur1" x="-50%" y="-20%" width="200%" height="140%"><feGaussianBlur stdDeviation="1.1"/></filter>
<filter id="blur2" x="-50%" y="-20%" width="200%" height="140%"><feGaussianBlur stdDeviation="1.8"/></filter>
<clipPath id="clipE"><rect x="0" y="0" width="1" height="1"/></clipPath>
</defs>
<text x="159.6" y="206.5" font-size="11.5" fill="#000" font-weight="bold"  stroke="#000" stroke-width="0.15">E</text>
<text x="225.4" y="206.1" font-size="8.6" textLength="57.3" lengthAdjust="spacingAndGlyphs"  stroke="#2b2b2b" stroke-width="0.15">MEP ATAC-seq</text>
<text x="198.4" y="216.8" font-size="6.8" text-anchor="middle" textLength="16.0" lengthAdjust="spacingAndGlyphs"  stroke="#2b2b2b" stroke-width="0.08">fl/fl_1</text>
<clipPath id="pe0"><rect x="183.3" y="220.2" width="30.2" height="27.900000000000006"/></clipPath>
<polyline points="183.3,238.5 184.1,237.7 184.8,237.6 185.6,238.1 186.3,237.9 187.1,238.3 187.8,238.5 188.6,238.6 189.3,238.9 190.1,238.2 190.9,238.7 191.6,238.2 192.4,237.8 193.1,237.3 193.9,236.6 194.6,235.6 195.4,234.0 196.1,232.9 196.9,231.4 197.6,228.9 198.4,226.2 199.2,228.2 199.9,231.8 200.7,232.9 201.4,233.2 202.2,236.5 202.9,236.6 203.7,236.8 204.4,236.8 205.2,238.0 206.0,237.6 206.7,237.6 207.5,237.7 208.2,239.1 209.0,237.7 209.7,237.3 210.5,237.9 211.2,238.6 212.0,238.6 212.7,239.6 213.5,238.1" fill="none" stroke="#4c78a8" stroke-width="0.8" clip-path="url(#pe0)"/>
<rect x="183.3" y="220.2" width="30.2" height="27.900000000000006" fill="none" stroke="#222" stroke-width="0.9"/>
<line x1="198.40" y1="248.10" x2="198.40" y2="249.60" stroke="#222" stroke-width="0.6" />
<clipPath id="pe0h"><rect x="183.3" y="251.3" width="30.2" height="72.5"/></clipPath>
<g clip-path="url(#pe0h)">
<rect x="183.30" y="251.30" width="30.20" height="72.50" fill="url(#hbgE)" />
<rect x="183.30" y="251.30" width="30.20" height="2.20" fill="#f8a890" filter="url(#blur1)" opacity="0.6"/>
<path d="M192.4,249.3 L204.4,249.3 L199.9,264.3 L196.9,264.3 Z" fill="#f48868" filter="url(#blur2)" opacity="0.65"/>
<path d="M195.4,249.3 L201.4,249.3 L199.0,275.3 L197.8,275.3 Z" fill="url(#plume)" filter="url(#blur1)"/>
</g>
<rect x="183.3" y="251.3" width="30.2" height="72.5" fill="none" stroke="#333" stroke-width="0.9"/>
<line x1="183.30" y1="323.80" x2="183.30" y2="325.40" stroke="#222" stroke-width="0.6" />
<text transform="translate(185.6,332.0) rotate(-90)" x="0" y="0" font-size="7.0" text-anchor="middle" fill="#2b2b2b" stroke="#2b2b2b" stroke-width="0.08">-3</text>
<line x1="198.40" y1="323.80" x2="198.40" y2="325.40" stroke="#222" stroke-width="0.6" />
<text transform="translate(200.7,332.0) rotate(-90)" x="0" y="0" font-size="7.0" text-anchor="middle" fill="#2b2b2b" stroke="#2b2b2b" stroke-width="0.08">0</text>
<line x1="213.50" y1="323.80" x2="213.50" y2="325.40" stroke="#222" stroke-width="0.6" />
<text transform="translate(215.8,332.0) rotate(-90)" x="0" y="0" font-size="7.0" text-anchor="middle" fill="#2b2b2b" stroke="#2b2b2b" stroke-width="0.08">3</text>
<text x="235.2" y="216.8" font-size="6.8" text-anchor="middle" textLength="16.0" lengthAdjust="spacingAndGlyphs"  stroke="#2b2b2b" stroke-width="0.08">fl/fl_2</text>
<clipPath id="pe1"><rect x="220.1" y="220.2" width="30.2" height="27.900000000000006"/></clipPath>
<polyline points="220.1,237.7 220.9,237.1 221.6,238.6 222.4,236.9 223.1,237.7 223.9,238.0 224.6,238.0 225.4,238.2 226.1,238.0 226.9,237.7 227.7,237.8 228.4,237.4 229.2,237.8 229.9,236.9 230.7,234.6 231.4,234.1 232.2,232.4 232.9,231.5 233.7,230.7 234.4,226.9 235.2,223.7 236.0,227.5 236.7,230.6 237.5,232.1 238.2,233.6 239.0,234.1 239.7,235.2 240.5,235.1 241.2,236.7 242.0,236.4 242.8,236.7 243.5,237.5 244.3,237.8 245.0,236.9 245.8,237.2 246.5,237.7 247.3,237.5 248.0,238.0 248.8,237.6 249.5,238.1 250.3,237.8" fill="none" stroke="#4c78a8" stroke-width="0.8" clip-path="url(#pe1)"/>
<rect x="220.1" y="220.2" width="30.2" height="27.900000000000006" fill="none" stroke="#222" stroke-width="0.9"/>
<line x1="235.20" y1="248.10" x2="235.20" y2="249.60" stroke="#222" stroke-width="0.6" />
<clipPath id="pe1h"><rect x="220.1" y="251.3" width="30.2" height="72.5"/></clipPath>
<g clip-path="url(#pe1h)">
<rect x="220.10" y="251.30" width="30.20" height="72.50" fill="url(#hbgE)" />
<rect x="220.10" y="251.30" width="30.20" height="2.20" fill="#f8a890" filter="url(#blur1)" opacity="0.6"/>
<path d="M229.2,249.3 L241.2,249.3 L236.7,264.3 L233.7,264.3 Z" fill="#f48868" filter="url(#blur2)" opacity="0.65"/>
<path d="M232.2,249.3 L238.2,249.3 L235.79999999999998,275.3 L234.6,275.3 Z" fill="url(#plume)" filter="url(#blur1)"/>
</g>
<rect x="220.1" y="251.3" width="30.2" height="72.5" fill="none" stroke="#333" stroke-width="0.9"/>
<line x1="220.10" y1="323.80" x2="220.10" y2="325.40" stroke="#222" stroke-width="0.6" />
<text transform="translate(222.4,332.0) rotate(-90)" x="0" y="0" font-size="7.0" text-anchor="middle" fill="#2b2b2b" stroke="#2b2b2b" stroke-width="0.08">-3</text>
<line x1="235.20" y1="323.80" x2="235.20" y2="325.40" stroke="#222" stroke-width="0.6" />
<text transform="translate(237.5,332.0) rotate(-90)" x="0" y="0" font-size="7.0" text-anchor="middle" fill="#2b2b2b" stroke="#2b2b2b" stroke-width="0.08">0</text>
<line x1="250.30" y1="323.80" x2="250.30" y2="325.40" stroke="#222" stroke-width="0.6" />
<text transform="translate(252.6,332.0) rotate(-90)" x="0" y="0" font-size="7.0" text-anchor="middle" fill="#2b2b2b" stroke="#2b2b2b" stroke-width="0.08">3</text>
<text x="272.4" y="216.8" font-size="6.8" text-anchor="middle" textLength="16.0" lengthAdjust="spacingAndGlyphs"  stroke="#2b2b2b" stroke-width="0.08">Δ/Δ_1</text>
<clipPath id="pe2"><rect x="257.3" y="220.2" width="30.2" height="27.900000000000006"/></clipPath>
<polyline points="257.3,236.6 258.1,236.4 258.8,236.4 259.6,236.0 260.3,235.0 261.1,236.4 261.8,235.1 262.6,235.0 263.3,236.1 264.1,236.5 264.9,235.9 265.6,235.1 266.4,233.9 267.1,233.7 267.9,232.5 268.6,232.7 269.4,231.8 270.1,230.8 270.9,228.5 271.6,225.4 272.4,221.4 273.2,225.9 273.9,227.5 274.7,230.0 275.4,231.7 276.2,232.8 276.9,232.3 277.7,233.8 278.4,234.7 279.2,235.1 279.9,234.0 280.7,235.4 281.5,234.7 282.2,234.7 283.0,236.7 283.7,234.9 284.5,235.8 285.2,236.3 286.0,236.1 286.7,235.6 287.5,235.7" fill="none" stroke="#4c78a8" stroke-width="0.8" clip-path="url(#pe2)"/>
<rect x="257.3" y="220.2" width="30.2" height="27.900000000000006" fill="none" stroke="#222" stroke-width="0.9"/>
<line x1="272.40" y1="248.10" x2="272.40" y2="249.60" stroke="#222" stroke-width="0.6" />
<clipPath id="pe2h"><rect x="257.3" y="251.3" width="30.2" height="72.5"/></clipPath>
<g clip-path="url(#pe2h)">
<rect x="257.30" y="251.30" width="30.20" height="72.50" fill="url(#hbgE)" />
<rect x="257.30" y="251.30" width="30.20" height="2.20" fill="#f8a890" filter="url(#blur1)" opacity="0.6"/>
<path d="M266.40000000000003,249.3 L278.40000000000003,249.3 L273.90000000000003,264.3 L270.90000000000003,264.3 Z" fill="#f48868" filter="url(#blur2)" opacity="0.65"/>
<path d="M269.40000000000003,249.3 L275.40000000000003,249.3 L273.00000000000006,275.3 L271.8,275.3 Z" fill="url(#plume)" filter="url(#blur1)"/>
</g>
<rect x="257.3" y="251.3" width="30.2" height="72.5" fill="none" stroke="#333" stroke-width="0.9"/>
<line x1="257.30" y1="323.80" x2="257.30" y2="325.40" stroke="#222" stroke-width="0.6" />
<text transform="translate(259.6,332.0) rotate(-90)" x="0" y="0" font-size="7.0" text-anchor="middle" fill="#2b2b2b" stroke="#2b2b2b" stroke-width="0.08">-3</text>
<line x1="272.40" y1="323.80" x2="272.40" y2="325.40" stroke="#222" stroke-width="0.6" />
<text transform="translate(274.7,332.0) rotate(-90)" x="0" y="0" font-size="7.0" text-anchor="middle" fill="#2b2b2b" stroke="#2b2b2b" stroke-width="0.08">0</text>
<line x1="287.50" y1="323.80" x2="287.50" y2="325.40" stroke="#222" stroke-width="0.6" />
<text transform="translate(289.8,332.0) rotate(-90)" x="0" y="0" font-size="7.0" text-anchor="middle" fill="#2b2b2b" stroke="#2b2b2b" stroke-width="0.08">3</text>
<text x="309.5" y="216.8" font-size="6.8" text-anchor="middle" textLength="16.0" lengthAdjust="spacingAndGlyphs"  stroke="#2b2b2b" stroke-width="0.08">Δ/Δ_2</text>
<clipPath id="pe3"><rect x="294.4" y="220.2" width="30.2" height="27.900000000000006"/></clipPath>
<polyline points="294.4,235.8 295.2,236.0 295.9,236.1 296.7,237.1 297.4,235.7 298.2,236.9 298.9,235.4 299.7,235.6 300.4,235.7 301.2,235.9 301.9,236.1 302.7,236.0 303.5,235.1 304.2,233.3 305.0,233.4 305.7,232.2 306.5,231.1 307.2,229.2 308.0,226.7 308.7,223.0 309.5,218.7 310.3,223.3 311.0,226.8 311.8,228.9 312.5,231.4 313.3,232.0 314.0,232.4 314.8,234.1 315.5,234.3 316.3,233.3 317.0,235.5 317.8,236.1 318.6,235.7 319.3,234.7 320.1,234.7 320.8,236.4 321.6,235.6 322.3,236.0 323.1,236.3 323.8,237.0 324.6,235.6" fill="none" stroke="#4c78a8" stroke-width="0.8" clip-path="url(#pe3)"/>
<rect x="294.4" y="220.2" width="30.2" height="27.900000000000006" fill="none" stroke="#222" stroke-width="0.9"/>
<line x1="309.50" y1="248.10" x2="309.50" y2="249.60" stroke="#222" stroke-width="0.6" />
<clipPath id="pe3h"><rect x="294.4" y="251.3" width="30.2" height="72.5"/></clipPath>
<g clip-path="url(#pe3h)">
<rect x="294.40" y="251.30" width="30.20" height="72.50" fill="url(#hbgE)" />
<rect x="294.40" y="251.30" width="30.20" height="2.20" fill="#f8a890" filter="url(#blur1)" opacity="0.6"/>
<path d="M303.5,249.3 L315.5,249.3 L311.0,264.3 L308.0,264.3 Z" fill="#f48868" filter="url(#blur2)" opacity="0.65"/>
<path d="M306.5,249.3 L312.5,249.3 L310.1,275.3 L308.9,275.3 Z" fill="url(#plume)" filter="url(#blur1)"/>
</g>
<rect x="294.4" y="251.3" width="30.2" height="72.5" fill="none" stroke="#333" stroke-width="0.9"/>
<line x1="294.40" y1="323.80" x2="294.40" y2="325.40" stroke="#222" stroke-width="0.6" />
<text transform="translate(296.7,332.0) rotate(-90)" x="0" y="0" font-size="7.0" text-anchor="middle" fill="#2b2b2b" stroke="#2b2b2b" stroke-width="0.08">-3</text>
<line x1="309.50" y1="323.80" x2="309.50" y2="325.40" stroke="#222" stroke-width="0.6" />
<text transform="translate(311.8,332.0) rotate(-90)" x="0" y="0" font-size="7.0" text-anchor="middle" fill="#2b2b2b" stroke="#2b2b2b" stroke-width="0.08">0</text>
<line x1="324.60" y1="323.80" x2="324.60" y2="325.40" stroke="#222" stroke-width="0.6" />
<text transform="translate(326.9,332.0) rotate(-90)" x="0" y="0" font-size="7.0" text-anchor="middle" fill="#2b2b2b" stroke="#2b2b2b" stroke-width="0.08">3</text>
<line x1="181.30" y1="247.70" x2="183.30" y2="247.70" stroke="#222" stroke-width="0.6" />
<text x="179.5" y="250.2" font-size="7.0" text-anchor="end" textLength="12.8" lengthAdjust="spacingAndGlyphs"  stroke="#2b2b2b" stroke-width="0.08">0.00</text>
<line x1="181.30" y1="241.52" x2="183.30" y2="241.52" stroke="#222" stroke-width="0.6" />
<text x="179.5" y="244.0" font-size="7.0" text-anchor="end" textLength="12.8" lengthAdjust="spacingAndGlyphs"  stroke="#2b2b2b" stroke-width="0.08">0.25</text>
<line x1="181.30" y1="235.35" x2="183.30" y2="235.35" stroke="#222" stroke-width="0.6" />
<text x="179.5" y="237.9" font-size="7.0" text-anchor="end" textLength="12.8" lengthAdjust="spacingAndGlyphs"  stroke="#2b2b2b" stroke-width="0.08">0.50</text>
<line x1="181.30" y1="229.17" x2="183.30" y2="229.17" stroke="#222" stroke-width="0.6" />
<text x="179.5" y="231.7" font-size="7.0" text-anchor="end" textLength="12.8" lengthAdjust="spacingAndGlyphs"  stroke="#2b2b2b" stroke-width="0.08">0.75</text>
<line x1="181.30" y1="223.00" x2="183.30" y2="223.00" stroke="#222" stroke-width="0.6" />
<text x="179.5" y="225.5" font-size="7.0" text-anchor="end" textLength="12.8" lengthAdjust="spacingAndGlyphs"  stroke="#2b2b2b" stroke-width="0.08">1.00</text>
<line x1="218.60" y1="247.70" x2="220.10" y2="247.70" stroke="#222" stroke-width="0.5" />
<line x1="218.60" y1="241.52" x2="220.10" y2="241.52" stroke="#222" stroke-width="0.5" />
<line x1="218.60" y1="235.35" x2="220.10" y2="235.35" stroke="#222" stroke-width="0.5" />
<line x1="218.60" y1="229.17" x2="220.10" y2="229.17" stroke="#222" stroke-width="0.5" />
<line x1="218.60" y1="223.00" x2="220.10" y2="223.00" stroke="#222" stroke-width="0.5" />
<line x1="255.80" y1="247.70" x2="257.30" y2="247.70" stroke="#222" stroke-width="0.5" />
<line x1="255.80" y1="241.52" x2="257.30" y2="241.52" stroke="#222" stroke-width="0.5" />
<line x1="255.80" y1="235.35" x2="257.30" y2="235.35" stroke="#222" stroke-width="0.5" />
<line x1="255.80" y1="229.17" x2="257.30" y2="229.17" stroke="#222" stroke-width="0.5" />
<line x1="255.80" y1="223.00" x2="257.30" y2="223.00" stroke="#222" stroke-width="0.5" />
<line x1="292.90" y1="247.70" x2="294.40" y2="247.70" stroke="#222" stroke-width="0.5" />
<line x1="292.90" y1="241.52" x2="294.40" y2="241.52" stroke="#222" stroke-width="0.5" />
<line x1="292.90" y1="235.35" x2="294.40" y2="235.35" stroke="#222" stroke-width="0.5" />
<line x1="292.90" y1="229.17" x2="294.40" y2="229.17" stroke="#222" stroke-width="0.5" />
<line x1="292.90" y1="223.00" x2="294.40" y2="223.00" stroke="#222" stroke-width="0.5" />
<line x1="185.00" y1="223.20" x2="189.50" y2="223.20" stroke="#4c78a8" stroke-width="0.8" />
<text x="191.6" y="225.4" font-size="6.0" textLength="14.5" lengthAdjust="spacingAndGlyphs"  stroke="#2b2b2b" stroke-width="0.08">genes</text>
<text transform="translate(177.6,292) rotate(-90)" x="0" y="0" font-size="7.6" text-anchor="middle" fill="#2b2b2b" textLength="19" lengthAdjust="spacingAndGlyphs" stroke="#2b2b2b" stroke-width="0.08">Genes</text>
<text x="221.0" y="346.0" font-size="8.2" textLength="66.0" lengthAdjust="spacingAndGlyphs"  stroke="#2b2b2b" stroke-width="0.15">Distance from TSS (Kb)</text>
<rect x="329.00" y="252.20" width="4.20" height="72.60" fill="url(#reds)" />
<rect x="329.0" y="252.2" width="4.2" height="72.6" fill="none" stroke="#555" stroke-width="0.3"/>
<line x1="333.20" y1="324.60" x2="335.00" y2="324.60" stroke="#222" stroke-width="0.6" />
<text x="336.5" y="327.1" font-size="7.0"  stroke="#2b2b2b" stroke-width="0.08">0</text>
<line x1="333.20" y1="314.08" x2="335.00" y2="314.08" stroke="#222" stroke-width="0.6" />
<text x="336.5" y="316.6" font-size="7.0"  stroke="#2b2b2b" stroke-width="0.08">0.2</text>
<line x1="333.20" y1="303.56" x2="335.00" y2="303.56" stroke="#222" stroke-width="0.6" />
<text x="336.5" y="306.1" font-size="7.0"  stroke="#2b2b2b" stroke-width="0.08">0.4</text>
<line x1="333.20" y1="293.04" x2="335.00" y2="293.04" stroke="#222" stroke-width="0.6" />
<text x="336.5" y="295.6" font-size="7.0"  stroke="#2b2b2b" stroke-width="0.08">0.6</text>
<line x1="333.20" y1="282.52" x2="335.00" y2="282.52" stroke="#222" stroke-width="0.6" />
<text x="336.5" y="285.0" font-size="7.0"  stroke="#2b2b2b" stroke-width="0.08">0.8</text>
<line x1="333.20" y1="272.00" x2="335.00" y2="272.00" stroke="#222" stroke-width="0.6" />
<text x="336.5" y="274.5" font-size="7.0"  stroke="#2b2b2b" stroke-width="0.08">1.0</text>
<line x1="333.20" y1="261.48" x2="335.00" y2="261.48" stroke="#222" stroke-width="0.6" />
<text x="336.5" y="264.0" font-size="7.0"  stroke="#2b2b2b" stroke-width="0.08">1.2</text>
<text x="6.7" y="373.3" font-size="11.5" fill="#000" font-weight="bold"  stroke="#000" stroke-width="0.15">G</text>
<text x="42.7" y="380.1" font-size="8.6" textLength="97.7" lengthAdjust="spacingAndGlyphs"  stroke="#2b2b2b" stroke-width="0.15">MEP H3K4me3 CUT&amp;Tag</text>
<text x="42.5" y="394.1" font-size="6.8" text-anchor="middle" textLength="16.0" lengthAdjust="spacingAndGlyphs"  stroke="#2b2b2b" stroke-width="0.08">fl/fl_1</text>
<clipPath id="pg0"><rect x="29.2" y="398.5" width="26.5" height="24.0"/></clipPath>
<polyline points="29.2,417.4 29.9,417.3 30.5,417.3 31.2,417.2 31.9,417.1 32.5,417.0 33.2,416.8 33.8,416.7 34.5,416.5 35.2,416.2 35.8,415.9 36.5,415.5 37.1,415.0 37.8,414.3 38.5,413.5 39.1,412.3 39.8,410.9 40.5,409.1 41.1,407.2 41.8,405.6 42.5,405.0 43.1,405.6 43.8,407.2 44.4,409.1 45.1,410.9 45.8,412.3 46.4,413.5 47.1,414.3 47.8,415.0 48.4,415.5 49.1,415.9 49.7,416.2 50.4,416.5 51.1,416.7 51.7,416.8 52.4,417.0 53.0,417.1 53.7,417.2 54.4,417.3 55.0,417.3 55.7,417.4" fill="none" stroke="#4c78a8" stroke-width="0.8" clip-path="url(#pg0)"/>
<rect x="29.2" y="398.5" width="26.5" height="24.0" fill="none" stroke="#222" stroke-width="0.9"/>
<line x1="42.45" y1="422.50" x2="42.45" y2="424.00" stroke="#222" stroke-width="0.6" />
<clipPath id="pg0h"><rect x="29.2" y="425.8" width="26.5" height="64.5"/></clipPath>
<g clip-path="url(#pg0h)">
<rect x="29.20" y="425.80" width="26.50" height="64.50" fill="url(#hbgG)" />
<rect x="29.20" y="425.80" width="26.50" height="2.20" fill="#f8a890" filter="url(#blur1)" opacity="0.6"/>
<path d="M33.45,423.8 L51.45,423.8 L43.95,439.8 L40.95,439.8 Z" fill="#f48868" filter="url(#blur2)" opacity="0.9"/>
<path d="M39.150000000000006,423.8 L45.75,423.8 L43.050000000000004,441.8 L41.85,441.8 Z" fill="url(#plume)" filter="url(#blur1)"/>
</g>
<rect x="29.2" y="425.8" width="26.5" height="64.5" fill="none" stroke="#333" stroke-width="0.9"/>
<line x1="29.20" y1="490.30" x2="29.20" y2="491.90" stroke="#222" stroke-width="0.6" />
<text transform="translate(31.5,498.5) rotate(-90)" x="0" y="0" font-size="7.0" text-anchor="middle" fill="#2b2b2b" stroke="#2b2b2b" stroke-width="0.08">-3</text>
<line x1="42.45" y1="490.30" x2="42.45" y2="491.90" stroke="#222" stroke-width="0.6" />
<text transform="translate(44.8,498.5) rotate(-90)" x="0" y="0" font-size="7.0" text-anchor="middle" fill="#2b2b2b" stroke="#2b2b2b" stroke-width="0.08">0</text>
<line x1="55.70" y1="490.30" x2="55.70" y2="491.90" stroke="#222" stroke-width="0.6" />
<text transform="translate(58.0,498.5) rotate(-90)" x="0" y="0" font-size="7.0" text-anchor="middle" fill="#2b2b2b" stroke="#2b2b2b" stroke-width="0.08">3</text>
<text x="75.0" y="394.1" font-size="6.8" text-anchor="middle" textLength="16.0" lengthAdjust="spacingAndGlyphs"  stroke="#2b2b2b" stroke-width="0.08">fl/fl_2</text>
<clipPath id="pg1"><rect x="61.7" y="398.5" width="26.5" height="24.0"/></clipPath>
<polyline points="61.7,417.9 62.4,417.8 63.0,417.7 63.7,417.6 64.4,417.5 65.0,417.4 65.7,417.3 66.3,417.1 67.0,416.9 67.7,416.6 68.3,416.2 69.0,415.8 69.7,415.3 70.3,414.5 71.0,413.6 71.6,412.4 72.3,410.8 73.0,408.9 73.6,406.9 74.3,405.2 75.0,404.5 75.6,405.2 76.3,406.9 76.9,408.9 77.6,410.8 78.3,412.4 78.9,413.6 79.6,414.5 80.2,415.3 80.9,415.8 81.6,416.2 82.2,416.6 82.9,416.9 83.6,417.1 84.2,417.3 84.9,417.4 85.6,417.5 86.2,417.6 86.9,417.7 87.5,417.8 88.2,417.9" fill="none" stroke="#4c78a8" stroke-width="0.8" clip-path="url(#pg1)"/>
<rect x="61.7" y="398.5" width="26.5" height="24.0" fill="none" stroke="#222" stroke-width="0.9"/>
<line x1="74.95" y1="422.50" x2="74.95" y2="424.00" stroke="#222" stroke-width="0.6" />
<clipPath id="pg1h"><rect x="61.7" y="425.8" width="26.5" height="64.5"/></clipPath>
<g clip-path="url(#pg1h)">
<rect x="61.70" y="425.80" width="26.50" height="64.50" fill="url(#hbgG)" />
<rect x="61.70" y="425.80" width="26.50" height="2.20" fill="#f8a890" filter="url(#blur1)" opacity="0.6"/>
<path d="M65.95,423.8 L83.95,423.8 L76.45,439.8 L73.45,439.8 Z" fill="#f48868" filter="url(#blur2)" opacity="0.9"/>
<path d="M71.65,423.8 L78.25,423.8 L75.55,441.8 L74.35000000000001,441.8 Z" fill="url(#plume)" filter="url(#blur1)"/>
</g>
<rect x="61.7" y="425.8" width="26.5" height="64.5" fill="none" stroke="#333" stroke-width="0.9"/>
<line x1="61.70" y1="490.30" x2="61.70" y2="491.90" stroke="#222" stroke-width="0.6" />
<text transform="translate(64.0,498.5) rotate(-90)" x="0" y="0" font-size="7.0" text-anchor="middle" fill="#2b2b2b" stroke="#2b2b2b" stroke-width="0.08">-3</text>
<line x1="74.95" y1="490.30" x2="74.95" y2="491.90" stroke="#222" stroke-width="0.6" />
<text transform="translate(77.2,498.5) rotate(-90)" x="0" y="0" font-size="7.0" text-anchor="middle" fill="#2b2b2b" stroke="#2b2b2b" stroke-width="0.08">0</text>
<line x1="88.20" y1="490.30" x2="88.20" y2="491.90" stroke="#222" stroke-width="0.6" />
<text transform="translate(90.5,498.5) rotate(-90)" x="0" y="0" font-size="7.0" text-anchor="middle" fill="#2b2b2b" stroke="#2b2b2b" stroke-width="0.08">3</text>
<text x="107.2" y="394.1" font-size="6.8" text-anchor="middle" textLength="16.0" lengthAdjust="spacingAndGlyphs"  stroke="#2b2b2b" stroke-width="0.08">Δ/Δ_1</text>
<clipPath id="pg2"><rect x="94.0" y="398.5" width="26.5" height="24.0"/></clipPath>
<polyline points="94.0,417.9 94.7,417.8 95.3,417.7 96.0,417.5 96.7,417.4 97.3,417.2 98.0,417.0 98.6,416.7 99.3,416.4 100.0,416.0 100.6,415.5 101.3,414.9 102.0,414.1 102.6,413.1 103.3,411.7 103.9,410.0 104.6,407.8 105.3,405.0 105.9,402.1 106.6,399.6 107.2,398.6 107.9,399.6 108.6,402.1 109.2,405.0 109.9,407.8 110.6,410.0 111.2,411.7 111.9,413.1 112.5,414.1 113.2,414.9 113.9,415.5 114.5,416.0 115.2,416.4 115.9,416.7 116.5,417.0 117.2,417.2 117.8,417.4 118.5,417.5 119.2,417.7 119.8,417.8 120.5,417.9" fill="none" stroke="#4c78a8" stroke-width="0.8" clip-path="url(#pg2)"/>
<rect x="94.0" y="398.5" width="26.5" height="24.0" fill="none" stroke="#222" stroke-width="0.9"/>
<line x1="107.25" y1="422.50" x2="107.25" y2="424.00" stroke="#222" stroke-width="0.6" />
<clipPath id="pg2h"><rect x="94.0" y="425.8" width="26.5" height="64.5"/></clipPath>
<g clip-path="url(#pg2h)">
<rect x="94.00" y="425.80" width="26.50" height="64.50" fill="url(#hbgG)" />
<rect x="94.00" y="425.80" width="26.50" height="2.20" fill="#f8a890" filter="url(#blur1)" opacity="0.6"/>
<path d="M98.25,423.8 L116.25,423.8 L108.75,439.8 L105.75,439.8 Z" fill="#f48868" filter="url(#blur2)" opacity="0.9"/>
<path d="M103.95,423.8 L110.55,423.8 L107.85,441.8 L106.65,441.8 Z" fill="url(#plume)" filter="url(#blur1)"/>
</g>
<rect x="94.0" y="425.8" width="26.5" height="64.5" fill="none" stroke="#333" stroke-width="0.9"/>
<line x1="94.00" y1="490.30" x2="94.00" y2="491.90" stroke="#222" stroke-width="0.6" />
<text transform="translate(96.3,498.5) rotate(-90)" x="0" y="0" font-size="7.0" text-anchor="middle" fill="#2b2b2b" stroke="#2b2b2b" stroke-width="0.08">-3</text>
<line x1="107.25" y1="490.30" x2="107.25" y2="491.90" stroke="#222" stroke-width="0.6" />
<text transform="translate(109.5,498.5) rotate(-90)" x="0" y="0" font-size="7.0" text-anchor="middle" fill="#2b2b2b" stroke="#2b2b2b" stroke-width="0.08">0</text>
<line x1="120.50" y1="490.30" x2="120.50" y2="491.90" stroke="#222" stroke-width="0.6" />
<text transform="translate(122.8,498.5) rotate(-90)" x="0" y="0" font-size="7.0" text-anchor="middle" fill="#2b2b2b" stroke="#2b2b2b" stroke-width="0.08">3</text>
<text x="139.6" y="394.1" font-size="6.8" text-anchor="middle" textLength="16.0" lengthAdjust="spacingAndGlyphs"  stroke="#2b2b2b" stroke-width="0.08">Δ/Δ_2</text>
<clipPath id="pg3"><rect x="126.3" y="398.5" width="26.5" height="24.0"/></clipPath>
<polyline points="126.3,417.9 127.0,417.8 127.6,417.7 128.3,417.6 128.9,417.4 129.6,417.3 130.3,417.1 130.9,416.8 131.6,416.5 132.3,416.2 132.9,415.7 133.6,415.1 134.2,414.4 134.9,413.4 135.6,412.1 136.2,410.5 136.9,408.3 137.6,405.8 138.2,403.0 138.9,400.6 139.6,399.7 140.2,400.6 140.9,403.0 141.5,405.8 142.2,408.3 142.9,410.5 143.5,412.1 144.2,413.4 144.8,414.4 145.5,415.1 146.2,415.7 146.8,416.2 147.5,416.5 148.2,416.8 148.8,417.1 149.5,417.3 150.2,417.4 150.8,417.6 151.5,417.7 152.1,417.8 152.8,417.9" fill="none" stroke="#4c78a8" stroke-width="0.8" clip-path="url(#pg3)"/>
<rect x="126.3" y="398.5" width="26.5" height="24.0" fill="none" stroke="#222" stroke-width="0.9"/>
<line x1="139.55" y1="422.50" x2="139.55" y2="424.00" stroke="#222" stroke-width="0.6" />
<clipPath id="pg3h"><rect x="126.3" y="425.8" width="26.5" height="64.5"/></clipPath>
<g clip-path="url(#pg3h)">
<rect x="126.30" y="425.80" width="26.50" height="64.50" fill="url(#hbgG)" />
<rect x="126.30" y="425.80" width="26.50" height="2.20" fill="#f8a890" filter="url(#blur1)" opacity="0.6"/>
<path d="M130.55,423.8 L148.55,423.8 L141.05,439.8 L138.05,439.8 Z" fill="#f48868" filter="url(#blur2)" opacity="0.9"/>
<path d="M136.25,423.8 L142.85000000000002,423.8 L140.15,441.8 L138.95000000000002,441.8 Z" fill="url(#plume)" filter="url(#blur1)"/>
</g>
<rect x="126.3" y="425.8" width="26.5" height="64.5" fill="none" stroke="#333" stroke-width="0.9"/>
<line x1="126.30" y1="490.30" x2="126.30" y2="491.90" stroke="#222" stroke-width="0.6" />
<text transform="translate(128.6,498.5) rotate(-90)" x="0" y="0" font-size="7.0" text-anchor="middle" fill="#2b2b2b" stroke="#2b2b2b" stroke-width="0.08">-3</text>
<line x1="139.55" y1="490.30" x2="139.55" y2="491.90" stroke="#222" stroke-width="0.6" />
<text transform="translate(141.9,498.5) rotate(-90)" x="0" y="0" font-size="7.0" text-anchor="middle" fill="#2b2b2b" stroke="#2b2b2b" stroke-width="0.08">0</text>
<line x1="152.80" y1="490.30" x2="152.80" y2="491.90" stroke="#222" stroke-width="0.6" />
<text transform="translate(155.1,498.5) rotate(-90)" x="0" y="0" font-size="7.0" text-anchor="middle" fill="#2b2b2b" stroke="#2b2b2b" stroke-width="0.08">3</text>
<line x1="27.20" y1="422.50" x2="29.20" y2="422.50" stroke="#222" stroke-width="0.6" />
<text x="25.5" y="424.9" font-size="6.8" text-anchor="end" textLength="3.6" lengthAdjust="spacingAndGlyphs"  stroke="#2b2b2b" stroke-width="0.08">0</text>
<line x1="27.20" y1="417.20" x2="29.20" y2="417.20" stroke="#222" stroke-width="0.6" />
<text x="25.5" y="419.6" font-size="6.8" text-anchor="end" textLength="8.7" lengthAdjust="spacingAndGlyphs"  stroke="#2b2b2b" stroke-width="0.08">0.2</text>
<line x1="27.20" y1="411.90" x2="29.20" y2="411.90" stroke="#222" stroke-width="0.6" />
<text x="25.5" y="414.3" font-size="6.8" text-anchor="end" textLength="8.7" lengthAdjust="spacingAndGlyphs"  stroke="#2b2b2b" stroke-width="0.08">0.4</text>
<line x1="27.20" y1="406.60" x2="29.20" y2="406.60" stroke="#222" stroke-width="0.6" />
<text x="25.5" y="409.0" font-size="6.8" text-anchor="end" textLength="8.7" lengthAdjust="spacingAndGlyphs"  stroke="#2b2b2b" stroke-width="0.08">0.6</text>
<line x1="27.20" y1="401.30" x2="29.20" y2="401.30" stroke="#222" stroke-width="0.6" />
<text x="25.5" y="403.7" font-size="6.8" text-anchor="end" textLength="8.7" lengthAdjust="spacingAndGlyphs"  stroke="#2b2b2b" stroke-width="0.08">0.8</text>
<line x1="60.20" y1="422.50" x2="61.70" y2="422.50" stroke="#222" stroke-width="0.5" />
<line x1="60.20" y1="417.20" x2="61.70" y2="417.20" stroke="#222" stroke-width="0.5" />
<line x1="60.20" y1="411.90" x2="61.70" y2="411.90" stroke="#222" stroke-width="0.5" />
<line x1="60.20" y1="406.60" x2="61.70" y2="406.60" stroke="#222" stroke-width="0.5" />
<line x1="60.20" y1="401.30" x2="61.70" y2="401.30" stroke="#222" stroke-width="0.5" />
<line x1="92.50" y1="422.50" x2="94.00" y2="422.50" stroke="#222" stroke-width="0.5" />
<line x1="92.50" y1="417.20" x2="94.00" y2="417.20" stroke="#222" stroke-width="0.5" />
<line x1="92.50" y1="411.90" x2="94.00" y2="411.90" stroke="#222" stroke-width="0.5" />
<line x1="92.50" y1="406.60" x2="94.00" y2="406.60" stroke="#222" stroke-width="0.5" />
<line x1="92.50" y1="401.30" x2="94.00" y2="401.30" stroke="#222" stroke-width="0.5" />
<line x1="124.80" y1="422.50" x2="126.30" y2="422.50" stroke="#222" stroke-width="0.5" />
<line x1="124.80" y1="417.20" x2="126.30" y2="417.20" stroke="#222" stroke-width="0.5" />
<line x1="124.80" y1="411.90" x2="126.30" y2="411.90" stroke="#222" stroke-width="0.5" />
<line x1="124.80" y1="406.60" x2="126.30" y2="406.60" stroke="#222" stroke-width="0.5" />
<line x1="124.80" y1="401.30" x2="126.30" y2="401.30" stroke="#222" stroke-width="0.5" />
<line x1="30.80" y1="401.50" x2="34.80" y2="401.50" stroke="#4c78a8" stroke-width="0.8" />
<text x="37.1" y="403.9" font-size="6.3" textLength="16.5" lengthAdjust="spacingAndGlyphs"  stroke="#2b2b2b" stroke-width="0.08">genes</text>
<text transform="translate(24.0,460) rotate(-90)" x="0" y="0" font-size="7.6" text-anchor="middle" fill="#2b2b2b" textLength="19" lengthAdjust="spacingAndGlyphs" stroke="#2b2b2b" stroke-width="0.08">Genes</text>
<text x="57.2" y="512.9" font-size="8.2" textLength="67.8" lengthAdjust="spacingAndGlyphs"  stroke="#2b2b2b" stroke-width="0.15">Distance from TSS (Kb)</text>
<rect x="154.60" y="426.00" width="4.00" height="64.50" fill="url(#reds)" />
<line x1="158.60" y1="490.50" x2="160.40" y2="490.50" stroke="#222" stroke-width="0.6" />
<text x="162.2" y="493.0" font-size="7.0"  stroke="#2b2b2b" stroke-width="0.08">0</text>
<line x1="158.60" y1="476.10" x2="160.40" y2="476.10" stroke="#222" stroke-width="0.6" />
<text x="162.2" y="478.6" font-size="7.0"  stroke="#2b2b2b" stroke-width="0.08">1</text>
<line x1="158.60" y1="461.70" x2="160.40" y2="461.70" stroke="#222" stroke-width="0.6" />
<text x="162.2" y="464.2" font-size="7.0"  stroke="#2b2b2b" stroke-width="0.08">2</text>
<line x1="158.60" y1="447.30" x2="160.40" y2="447.30" stroke="#222" stroke-width="0.6" />
<text x="162.2" y="449.8" font-size="7.0"  stroke="#2b2b2b" stroke-width="0.08">3</text>
<line x1="158.60" y1="432.90" x2="160.40" y2="432.90" stroke="#222" stroke-width="0.6" />
<text x="162.2" y="435.4" font-size="7.0"  stroke="#2b2b2b" stroke-width="0.08">4</text>
<text x="360.8" y="206.5" font-size="11.5" fill="#000" font-weight="bold"  stroke="#000" stroke-width="0.15">F</text>
<text x="375.8" y="206.2" font-size="8.6" textLength="83.6" lengthAdjust="spacingAndGlyphs"  stroke="#2b2b2b" stroke-width="0.15">Different Peaks 29493</text>
<circle cx="417.4" cy="278.9" r="43.8" fill="#2a5a6a"/>
<path d="M417.4,278.9 L411.30,235.53 A43.8,43.8 0 0 1 418.09,235.11 Z" fill="#f0961c" />
<path d="M417.4,278.9 L417.40,235.10 A43.8,43.8 0 0 1 457.41,261.08 Z" fill="#9a85c4" />
<path d="M417.4,278.9 L457.22,260.67 A43.8,43.8 0 0 1 461.19,278.06 Z" fill="#3aa8de" />
<path d="M417.4,278.9 L461.18,277.60 A43.8,43.8 0 0 1 374.79,289.05 Z" fill="#126a4e" />
<path d="M417.4,278.9 L374.90,289.50 A43.8,43.8 0 0 1 411.91,235.45 Z" fill="#154a88" />
<text x="433.5" y="252.5" font-size="5.9" text-anchor="middle" textLength="24.5" lengthAdjust="spacing" fill="#e8eef5"  stroke="#e8eef5" stroke-width="0.0">Promoter</text>
<text x="433.5" y="258.8" font-size="5.9" text-anchor="middle" textLength="18.5" lengthAdjust="spacingAndGlyphs" fill="#e8eef5"  stroke="#e8eef5" stroke-width="0.0">17.83%</text>
<text x="451.7" y="269.8" font-size="5.9" text-anchor="middle" textLength="13.0" lengthAdjust="spacingAndGlyphs" fill="#e8eef5"  stroke="#e8eef5" stroke-width="0.0">Exon</text>
<text x="451.7" y="276.1" font-size="5.9" text-anchor="middle" textLength="15.0" lengthAdjust="spacingAndGlyphs" fill="#e8eef5"  stroke="#e8eef5" stroke-width="0.0">6.19%</text>
<text x="395.4" y="264.8" font-size="5.9" text-anchor="middle" textLength="26.0" lengthAdjust="spacing" fill="#e8eef5"  stroke="#e8eef5" stroke-width="0.0">Intergenic</text>
<text x="395.4" y="270.9" font-size="5.9" text-anchor="middle" textLength="18.5" lengthAdjust="spacingAndGlyphs" fill="#e8eef5"  stroke="#e8eef5" stroke-width="0.0">29.10%</text>
<text x="418.7" y="297.7" font-size="5.9" text-anchor="middle" textLength="16.5" lengthAdjust="spacing" fill="#e8eef5"  stroke="#e8eef5" stroke-width="0.0">Intron</text>
<text x="418.7" y="304.1" font-size="5.9" text-anchor="middle" textLength="18.5" lengthAdjust="spacingAndGlyphs" fill="#e8eef5"  stroke="#e8eef5" stroke-width="0.0">44.64%</text>
<text x="430.0" y="225.1" font-size="5.9" text-anchor="middle" textLength="15.5" lengthAdjust="spacing"  stroke="#2b2b2b" stroke-width="0.08">Other</text>
<text x="430.5" y="231.5" font-size="5.9" text-anchor="middle" textLength="15.5" lengthAdjust="spacingAndGlyphs"  stroke="#2b2b2b" stroke-width="0.08">2.23%</text>
<line x1="412.50" y1="237.80" x2="420.50" y2="228.30" stroke="#222" stroke-width="1.0" />
<text x="182.0" y="373.3" font-size="11.5" fill="#000" font-weight="bold"  stroke="#000" stroke-width="0.15">H</text>
<text x="207.0" y="380.1" font-size="8.6" textLength="58.6" lengthAdjust="spacing"  stroke="#2b2b2b" stroke-width="0.15">Downregulated</text>
<text x="206.0" y="403.7" font-size="6.8" textLength="25.5" lengthAdjust="spacingAndGlyphs"  stroke="#2b2b2b" stroke-width="0.08">RNA-seq</text>
<text x="239.6" y="403.7" font-size="6.8" textLength="29.2" lengthAdjust="spacingAndGlyphs"  stroke="#2b2b2b" stroke-width="0.08">ATAC-seq</text>
<circle cx="218.6" cy="436.5" r="28.0" fill="none" stroke="#c0172e" stroke-width="1.9"/>
<circle cx="254.2" cy="436.3" r="28.0" fill="none" stroke="#1b3566" stroke-width="1.9"/>
<circle cx="236.5" cy="462.5" r="28.2" fill="none" stroke="#3aaed8" stroke-width="1.9"/>
<text x="205.0" y="435.1" font-size="6.6" text-anchor="middle"  stroke="#2b2b2b" stroke-width="0.08">459</text>
<text x="236.2" y="429.7" font-size="6.6" text-anchor="middle"  stroke="#2b2b2b" stroke-width="0.08">312</text>
<text x="264.6" y="435.1" font-size="6.6" text-anchor="middle"  stroke="#2b2b2b" stroke-width="0.08">3649</text>
<text x="236.2" y="446.1" font-size="6.6" text-anchor="middle"  stroke="#2b2b2b" stroke-width="0.08">81</text>
<text x="220.4" y="456.1" font-size="6.6" text-anchor="middle"  stroke="#2b2b2b" stroke-width="0.08">45</text>
<text x="251.5" y="456.1" font-size="6.6" text-anchor="middle"  stroke="#2b2b2b" stroke-width="0.08">220</text>
<text x="235.4" y="475.9" font-size="6.6" text-anchor="middle"  stroke="#2b2b2b" stroke-width="0.08">284</text>
<text x="206.6" y="499.7" font-size="6.8" textLength="58.8" lengthAdjust="spacingAndGlyphs"  stroke="#2b2b2b" stroke-width="0.08">H3K4me3-CUT&amp;Tag</text>
<text x="297.2" y="373.0" font-size="11.5" fill="#000" font-weight="bold"  stroke="#000" stroke-width="0.15">I</text>
<text x="453.0" y="380.1" font-size="8.6" textLength="53.5" lengthAdjust="spacing"  stroke="#2b2b2b" stroke-width="0.15">GO Biological</text>
<text x="461.3" y="390.1" font-size="8.6" textLength="37.5" lengthAdjust="spacingAndGlyphs"  stroke="#2b2b2b" stroke-width="0.15">Processes</text>
<rect x="447.50" y="398.00" width="12.88" height="4.80" fill="#c8102e" />
<line x1="445.30" y1="400.40" x2="447.50" y2="400.40" stroke="#111" stroke-width="0.7" />
<text x="440.8" y="402.7" font-size="6.3" text-anchor="end" textLength="39.4" lengthAdjust="spacing"  stroke="#2b2b2b" stroke-width="0.08">segmentation</text>
<rect x="447.50" y="406.34" width="13.75" height="4.80" fill="#c8102e" />
<line x1="445.30" y1="408.74" x2="447.50" y2="408.74" stroke="#111" stroke-width="0.7" />
<text x="440.8" y="411.0" font-size="6.3" text-anchor="end" textLength="57.8" lengthAdjust="spacing"  stroke="#2b2b2b" stroke-width="0.08">Metabolism of lipids</text>
<rect x="447.50" y="414.68" width="15.00" height="4.80" fill="#c8102e" />
<line x1="445.30" y1="417.08" x2="447.50" y2="417.08" stroke="#111" stroke-width="0.7" />
<text x="440.8" y="419.3" font-size="6.3" text-anchor="end" textLength="77.6" lengthAdjust="spacing"  stroke="#2b2b2b" stroke-width="0.08">regulation of cell activation</text>
<rect x="447.50" y="423.02" width="21.25" height="4.80" fill="#c8102e" />
<line x1="445.30" y1="425.42" x2="447.50" y2="425.42" stroke="#111" stroke-width="0.7" />
<text x="440.8" y="427.7" font-size="6.3" text-anchor="end" textLength="68.3" lengthAdjust="spacing"  stroke="#2b2b2b" stroke-width="0.08">lamellipodium assembly</text>
<rect x="447.50" y="431.36" width="21.25" height="4.80" fill="#c8102e" />
<line x1="445.30" y1="433.76" x2="447.50" y2="433.76" stroke="#111" stroke-width="0.7" />
<text x="440.8" y="436.0" font-size="6.3" text-anchor="end" textLength="59.1" lengthAdjust="spacing" fill="#c8285a"  stroke="#c8285a" stroke-width="0.08">iron ion homeostasis</text>
<rect x="447.50" y="439.70" width="21.88" height="4.80" fill="#c8102e" />
<line x1="445.30" y1="442.10" x2="447.50" y2="442.10" stroke="#111" stroke-width="0.7" />
<text x="440.8" y="444.4" font-size="6.3" text-anchor="end" textLength="126.8" lengthAdjust="spacing"  stroke="#2b2b2b" stroke-width="0.08">negative regulation of cell junction assembly</text>
<rect x="447.50" y="448.04" width="21.88" height="4.80" fill="#c8102e" />
<line x1="445.30" y1="450.44" x2="447.50" y2="450.44" stroke="#111" stroke-width="0.7" />
<text x="440.8" y="452.7" font-size="6.3" text-anchor="end" textLength="49.8" lengthAdjust="spacing"  stroke="#2b2b2b" stroke-width="0.08">nuclear migration</text>
<rect x="447.50" y="456.38" width="22.50" height="4.80" fill="#c8102e" />
<line x1="445.30" y1="458.78" x2="447.50" y2="458.78" stroke="#111" stroke-width="0.7" />
<text x="440.8" y="461.0" font-size="6.3" text-anchor="end" textLength="116.3" lengthAdjust="spacing"  stroke="#2b2b2b" stroke-width="0.08">positive regulation of protein maturation</text>
<rect x="447.50" y="464.72" width="34.38" height="4.80" fill="#c8102e" />
<line x1="445.30" y1="467.12" x2="447.50" y2="467.12" stroke="#111" stroke-width="0.7" />
<text x="440.8" y="469.4" font-size="6.3" text-anchor="end" textLength="87.8" lengthAdjust="spacing"  stroke="#2b2b2b" stroke-width="0.08">actin filament bundle assembly</text>
<rect x="447.50" y="473.06" width="40.00" height="4.80" fill="#c8102e" />
<line x1="445.30" y1="475.46" x2="447.50" y2="475.46" stroke="#111" stroke-width="0.7" />
<text x="440.8" y="477.7" font-size="6.3" text-anchor="end" textLength="146.2" lengthAdjust="spacing" fill="#c8285a"  stroke="#c8285a" stroke-width="0.08">porphyrin-containing compound metabolic process</text>
<rect x="447.50" y="481.40" width="48.75" height="4.80" fill="#c8102e" />
<line x1="445.30" y1="483.80" x2="447.50" y2="483.80" stroke="#111" stroke-width="0.7" />
<text x="440.8" y="486.1" font-size="6.3" text-anchor="end" textLength="72.2" lengthAdjust="spacing" fill="#c8285a"  stroke="#c8285a" stroke-width="0.08">erythrocyte development</text>
<line x1="447.50" y1="394.00" x2="447.50" y2="489.60" stroke="#111" stroke-width="1.0" />
<line x1="447.50" y1="489.60" x2="512.70" y2="489.60" stroke="#111" stroke-width="1.0" />
<line x1="447.50" y1="489.60" x2="447.50" y2="492.00" stroke="#111" stroke-width="0.7" />
<text x="447.5" y="500.8" font-size="7.0" text-anchor="middle"  stroke="#2b2b2b" stroke-width="0.08">0</text>
<line x1="460.00" y1="489.60" x2="460.00" y2="492.00" stroke="#111" stroke-width="0.7" />
<text x="460.0" y="500.8" font-size="7.0" text-anchor="middle"  stroke="#2b2b2b" stroke-width="0.08">2</text>
<line x1="472.50" y1="489.60" x2="472.50" y2="492.00" stroke="#111" stroke-width="0.7" />
<text x="472.5" y="500.8" font-size="7.0" text-anchor="middle"  stroke="#2b2b2b" stroke-width="0.08">4</text>
<line x1="485.00" y1="489.60" x2="485.00" y2="492.00" stroke="#111" stroke-width="0.7" />
<text x="485.0" y="500.8" font-size="7.0" text-anchor="middle"  stroke="#2b2b2b" stroke-width="0.08">6</text>
<line x1="497.50" y1="489.60" x2="497.50" y2="492.00" stroke="#111" stroke-width="0.7" />
<text x="497.5" y="500.8" font-size="7.0" text-anchor="middle"  stroke="#2b2b2b" stroke-width="0.08">8</text>
<line x1="510.00" y1="489.60" x2="510.00" y2="492.00" stroke="#111" stroke-width="0.7" />
<text x="510.0" y="500.8" font-size="7.0" text-anchor="middle"  stroke="#2b2b2b" stroke-width="0.08">10</text>
<text x="461.3" y="512.6" font-size="7.8" fill="#2b2b2b" textLength="37.5" lengthAdjust="spacingAndGlyphs" stroke="#2b2b2b" stroke-width="0.08">−Log<tspan font-size="4.6" dy="1.8">10</tspan><tspan dy="-1.8">(</tspan><tspan font-style="italic">Padj</tspan>)</text>
<text x="6.9" y="541.8" font-size="11.5" fill="#000" font-weight="bold"  stroke="#000" stroke-width="0.15">J</text>
<line x1="39.80" y1="548.55" x2="39.80" y2="639.40" stroke="#111" stroke-width="1.0" />
<line x1="39.80" y1="639.40" x2="154.40" y2="639.40" stroke="#111" stroke-width="1.0" />
<line x1="37.30" y1="639.40" x2="39.80" y2="639.40" stroke="#111" stroke-width="0.8" />
<text x="34.0" y="641.7" font-size="6.4" text-anchor="end" textLength="9.0" lengthAdjust="spacing"  stroke="#2b2b2b" stroke-width="0.08">0.0</text>
<line x1="37.30" y1="609.45" x2="39.80" y2="609.45" stroke="#111" stroke-width="0.8" />
<text x="34.0" y="611.8" font-size="6.4" text-anchor="end" textLength="9.0" lengthAdjust="spacing"  stroke="#2b2b2b" stroke-width="0.08">0.5</text>
<line x1="37.30" y1="579.50" x2="39.80" y2="579.50" stroke="#111" stroke-width="0.8" />
<text x="34.0" y="581.8" font-size="6.4" text-anchor="end" textLength="9.0" lengthAdjust="spacing"  stroke="#2b2b2b" stroke-width="0.08">1.0</text>
<line x1="37.30" y1="549.55" x2="39.80" y2="549.55" stroke="#111" stroke-width="0.8" />
<text x="34.0" y="551.9" font-size="6.4" text-anchor="end" textLength="9.0" lengthAdjust="spacing"  stroke="#2b2b2b" stroke-width="0.08">1.5</text>
<text transform="translate(20.3,592.6) rotate(-90)" x="0" y="0" font-size="7.2" text-anchor="middle" fill="#2b2b2b" textLength="57" lengthAdjust="spacingAndGlyphs" stroke="#2b2b2b" stroke-width="0.08">Relative expression</text>
<rect x="45.30" y="579.50" width="8.60" height="59.90" fill="#8393bd" />
<rect x="57.70" y="626.52" width="8.60" height="12.88" fill="#e6877a" />
<circle cx="46.9" cy="579.5" r="0.75" fill="#1e2a50"/>
<circle cx="49.6" cy="579.5" r="0.75" fill="#1e2a50"/>
<circle cx="52.3" cy="579.5" r="0.75" fill="#1e2a50"/>
<circle cx="59.5" cy="627.4" r="0.95" fill="#d0202e"/>
<circle cx="62.0" cy="626.0" r="0.95" fill="#d0202e"/>
<circle cx="64.5" cy="627.4" r="0.95" fill="#d0202e"/>
<text x="62.0" y="625.7" font-size="8.0" text-anchor="middle" textLength="9.5" lengthAdjust="spacing"  stroke="#2b2b2b" stroke-width="0.15">***</text>
<line x1="55.80" y1="639.40" x2="55.80" y2="641.60" stroke="#111" stroke-width="0.8" />
<text x="55.8" y="651.0" font-size="6.8" text-anchor="middle" textLength="16.0" lengthAdjust="spacing"  stroke="#2b2b2b" stroke-width="0.08">Car1</text>
<rect x="72.30" y="579.50" width="8.60" height="59.90" fill="#8393bd" />
<rect x="84.80" y="623.23" width="8.60" height="16.17" fill="#e6877a" />
<circle cx="73.9" cy="579.5" r="0.75" fill="#1e2a50"/>
<circle cx="76.6" cy="579.5" r="0.75" fill="#1e2a50"/>
<circle cx="79.3" cy="579.5" r="0.75" fill="#1e2a50"/>
<circle cx="86.6" cy="624.1" r="0.95" fill="#d0202e"/>
<circle cx="89.1" cy="622.7" r="0.95" fill="#d0202e"/>
<circle cx="91.6" cy="624.1" r="0.95" fill="#d0202e"/>
<text x="89.1" y="622.4" font-size="8.0" text-anchor="middle" textLength="9.5" lengthAdjust="spacing"  stroke="#2b2b2b" stroke-width="0.15">***</text>
<line x1="82.85" y1="639.40" x2="82.85" y2="641.60" stroke="#111" stroke-width="0.8" />
<text x="82.8" y="651.0" font-size="6.8" text-anchor="middle" textLength="15.3" lengthAdjust="spacingAndGlyphs"  stroke="#2b2b2b" stroke-width="0.08">Rhag</text>
<rect x="99.90" y="579.50" width="8.60" height="59.90" fill="#8393bd" />
<rect x="112.90" y="626.22" width="8.60" height="13.18" fill="#e6877a" />
<circle cx="101.5" cy="579.5" r="0.75" fill="#1e2a50"/>
<circle cx="104.2" cy="579.5" r="0.75" fill="#1e2a50"/>
<circle cx="106.9" cy="579.5" r="0.75" fill="#1e2a50"/>
<circle cx="114.7" cy="627.1" r="0.95" fill="#d0202e"/>
<circle cx="117.2" cy="625.7" r="0.95" fill="#d0202e"/>
<circle cx="119.7" cy="627.1" r="0.95" fill="#d0202e"/>
<text x="117.2" y="625.4" font-size="8.0" text-anchor="middle" textLength="9.5" lengthAdjust="spacing"  stroke="#2b2b2b" stroke-width="0.15">***</text>
<line x1="110.70" y1="639.40" x2="110.70" y2="641.60" stroke="#111" stroke-width="0.8" />
<text x="110.7" y="651.0" font-size="6.8" text-anchor="middle" textLength="17.0" lengthAdjust="spacing"  stroke="#2b2b2b" stroke-width="0.08">Ank1</text>
<rect x="128.00" y="579.50" width="8.60" height="59.90" fill="#8393bd" />
<rect x="140.40" y="628.62" width="8.60" height="10.78" fill="#e6877a" />
<circle cx="129.6" cy="579.5" r="0.75" fill="#1e2a50"/>
<circle cx="132.3" cy="579.5" r="0.75" fill="#1e2a50"/>
<circle cx="135.0" cy="579.5" r="0.75" fill="#1e2a50"/>
<circle cx="142.2" cy="629.5" r="0.95" fill="#d0202e"/>
<circle cx="144.7" cy="628.1" r="0.95" fill="#d0202e"/>
<circle cx="147.2" cy="629.5" r="0.95" fill="#d0202e"/>
<text x="144.7" y="627.8" font-size="8.0" text-anchor="middle" textLength="9.5" lengthAdjust="spacing"  stroke="#2b2b2b" stroke-width="0.15">***</text>
<line x1="138.50" y1="639.40" x2="138.50" y2="641.60" stroke="#111" stroke-width="0.8" />
<text x="138.5" y="651.0" font-size="6.8" text-anchor="middle" textLength="12.9" lengthAdjust="spacing"  stroke="#2b2b2b" stroke-width="0.08">Klf1</text>
<circle cx="46.6" cy="552.7" r="1.3" fill="#1a2a4a"/>
<rect x="45.20" y="561.60" width="2.80" height="2.80" fill="#a81828" />
<text x="50.8" y="555.1" font-size="6.6" textLength="9.6" lengthAdjust="spacing"  stroke="#2b2b2b" stroke-width="0.08">fl/fl</text>
<text x="50.8" y="565.4" font-size="6.6" textLength="10.4" lengthAdjust="spacingAndGlyphs" font-family="Liberation Serif" font-style="italic" stroke="#2b2b2b" stroke-width="0.08">Δ/Δ</text>
<text x="169.7" y="541.5" font-size="11.5" fill="#000" font-weight="bold"  stroke="#000" stroke-width="0.15">K</text>
<text x="228.0" y="563.8" font-size="6.4" text-anchor="end" textLength="16.7" lengthAdjust="spacing"  stroke="#2b2b2b" stroke-width="0.08">ATAC</text>
<line x1="231.50" y1="552.00" x2="231.50" y2="571.00" stroke="#333" stroke-width="0.7" />
<text x="234.4" y="556.1" font-size="6.4" textLength="9.6" lengthAdjust="spacing"  stroke="#2b2b2b" stroke-width="0.08">fl/fl</text>
<text x="234.4" y="571.9" font-size="6.4" textLength="9.6" lengthAdjust="spacingAndGlyphs"  stroke="#2b2b2b" stroke-width="0.08">Δ/Δ</text>
<text x="228.6" y="586.0" font-size="6.4" text-anchor="end" textLength="28.2" lengthAdjust="spacing"  stroke="#2b2b2b" stroke-width="0.08">H3K4me3</text>
<text x="228.6" y="593.6" font-size="6.4" text-anchor="end" textLength="25.6" lengthAdjust="spacing"  stroke="#2b2b2b" stroke-width="0.08">Cut&amp;Tag</text>
<line x1="231.50" y1="577.00" x2="231.50" y2="597.00" stroke="#333" stroke-width="0.7" />
<text x="234.4" y="582.1" font-size="6.4" textLength="9.6" lengthAdjust="spacing"  stroke="#2b2b2b" stroke-width="0.08">fl/fl</text>
<text x="234.4" y="596.9" font-size="6.4" textLength="9.6" lengthAdjust="spacingAndGlyphs"  stroke="#2b2b2b" stroke-width="0.08">Δ/Δ</text>
<text x="244.0" y="611.0" font-size="6.4" text-anchor="end" textLength="35.5" lengthAdjust="spacingAndGlyphs"  stroke="#2b2b2b" stroke-width="0.08">Refseq gene</text>
<text x="210.4" y="646.5" font-size="6.4" text-anchor="end" textLength="28.4" lengthAdjust="spacing"  stroke="#2b2b2b" stroke-width="0.08">Δ/Δ vs fl/fl</text>
<text x="210.4" y="654.3" font-size="6.4" text-anchor="end" textLength="28.4" lengthAdjust="spacing"  stroke="#2b2b2b" stroke-width="0.08">diff peaks</text>
<line x1="212.70" y1="633.30" x2="212.70" y2="660.20" stroke="#333" stroke-width="0.7" />
<text x="214.6" y="638.8" font-size="6.4" textLength="29.4" lengthAdjust="spacing"  stroke="#2b2b2b" stroke-width="0.08">ATAC-seq</text>
<text x="244.0" y="654.3" font-size="6.4" text-anchor="end" textLength="28.2" lengthAdjust="spacing"  stroke="#2b2b2b" stroke-width="0.08">H3K4me3</text>
<text x="244.0" y="661.5" font-size="6.4" text-anchor="end" textLength="26.3" lengthAdjust="spacing"  stroke="#2b2b2b" stroke-width="0.08">Cut&amp;Tag</text>
<line x1="256.20" y1="557.30" x2="358.40" y2="557.30" stroke="#b8b8b8" stroke-width="0.5" />
<path d="M280.20,557.30 L280.75,544.90 L281.25,544.90 L281.80,557.30 ZM292.60,557.30 L292.85,555.30 L293.35,555.30 L293.60,557.30 ZM296.90,557.30 L297.35,550.30 L297.85,550.30 L298.30,557.30 ZM298.50,557.30 L298.85,547.30 L299.35,547.30 L299.70,557.30 ZM301.70,557.30 L302.15,546.30 L302.65,546.30 L303.10,557.30 ZM303.20,557.30 L303.55,553.30 L304.05,553.30 L304.40,557.30 ZM298.50,557.30 L300.25,554.30 L300.75,554.30 L302.50,557.30 ZM313.40,557.30 L313.95,544.90 L314.45,544.90 L315.00,557.30 ZM315.80,557.30 L316.15,554.30 L316.65,554.30 L317.00,557.30 ZM323.40,557.30 L323.85,549.30 L324.35,549.30 L324.80,557.30 ZM325.70,557.30 L326.05,552.30 L326.55,552.30 L326.90,557.30 ZM343.50,557.30 L343.75,555.80 L344.25,555.80 L344.50,557.30 ZM298.96,557.30 L299.46,556.40 L299.96,557.30 ZM258.52,557.30 L259.02,556.92 L259.52,557.30 ZM282.51,557.30 L283.01,555.98 L283.51,557.30 ZM284.36,557.30 L284.86,556.85 L285.36,557.30 ZM355.93,557.30 L356.43,556.28 L356.93,557.30 ZM267.54,557.30 L268.04,556.06 L268.54,557.30 ZM309.72,557.30 L310.22,556.70 L310.72,557.30 ZM262.07,557.30 L262.57,556.75 L263.07,557.30 ZM342.84,557.30 L343.34,556.90 L343.84,557.30 ZM282.28,557.30 L282.78,557.00 L283.28,557.30 ZM332.66,557.30 L333.16,556.79 L333.66,557.30 ZM339.47,557.30 L339.97,556.89 L340.47,557.30 ZM264.03,557.30 L264.53,556.99 L265.03,557.30 ZM343.72,557.30 L344.22,556.25 L344.72,557.30 ZM329.27,557.30 L329.77,556.68 L330.27,557.30 ZM284.51,557.30 L285.01,556.90 L285.51,557.30 ZM321.04,557.30 L321.54,556.03 L322.04,557.30 ZM304.98,557.30 L305.48,556.92 L305.98,557.30 ZM258.20,557.30 L258.70,556.61 L259.20,557.30 ZM349.63,557.30 L350.13,556.92 L350.63,557.30 Z" fill="#b8123e" />
<line x1="360.80" y1="557.70" x2="482.50" y2="557.70" stroke="#b8b8b8" stroke-width="0.5" />
<path d="M381.60,557.70 L382.05,550.70 L382.55,550.70 L383.00,557.70 ZM389.30,557.70 L389.85,545.70 L390.35,545.70 L390.90,557.70 ZM412.20,557.70 L412.45,554.70 L412.95,554.70 L413.20,557.70 ZM418.00,557.70 L418.35,552.70 L418.85,552.70 L419.20,557.70 ZM422.30,557.70 L422.75,547.70 L423.25,547.70 L423.70,557.70 ZM426.50,557.70 L426.95,549.70 L427.45,549.70 L427.90,557.70 ZM423.00,557.70 L424.75,554.70 L425.25,554.70 L427.00,557.70 ZM433.70,557.70 L433.95,555.70 L434.45,555.70 L434.70,557.70 ZM441.30,557.70 L441.75,549.70 L442.25,549.70 L442.70,557.70 ZM445.60,557.70 L446.15,545.70 L446.65,545.70 L447.20,557.70 ZM450.10,557.70 L450.35,554.70 L450.85,554.70 L451.10,557.70 ZM458.40,557.70 L458.65,556.70 L459.15,556.70 L459.40,557.70 ZM467.50,557.70 L467.75,556.20 L468.25,556.20 L468.50,557.70 ZM433.33,557.70 L433.83,557.16 L434.33,557.70 ZM412.95,557.70 L413.45,557.27 L413.95,557.70 ZM411.75,557.70 L412.25,556.58 L412.75,557.70 ZM478.04,557.70 L478.54,556.57 L479.04,557.70 ZM468.76,557.70 L469.26,557.09 L469.76,557.70 ZM399.02,557.70 L399.52,557.26 L400.02,557.70 ZM417.61,557.70 L418.11,557.24 L418.61,557.70 ZM443.03,557.70 L443.53,557.36 L444.03,557.70 ZM423.17,557.70 L423.67,557.28 L424.17,557.70 ZM465.22,557.70 L465.72,557.32 L466.22,557.70 ZM461.23,557.70 L461.73,556.91 L462.23,557.70 ZM469.55,557.70 L470.05,556.63 L470.55,557.70 ZM407.17,557.70 L407.67,556.99 L408.17,557.70 ZM432.35,557.70 L432.85,557.09 L433.35,557.70 ZM362.72,557.70 L363.22,557.12 L363.72,557.70 ZM372.40,557.70 L372.90,556.53 L373.40,557.70 ZM421.64,557.70 L422.14,557.22 L422.64,557.70 ZM451.62,557.70 L452.12,556.76 L452.62,557.70 ZM477.71,557.70 L478.21,557.34 L478.71,557.70 ZM473.14,557.70 L473.64,556.58 L474.14,557.70 Z" fill="#b8123e" />
<line x1="256.20" y1="572.70" x2="358.40" y2="572.70" stroke="#b8b8b8" stroke-width="0.5" />
<path d="M261.50,572.70 L261.75,571.70 L262.25,571.70 L262.50,572.70 ZM280.20,572.70 L280.75,560.70 L281.25,560.70 L281.80,572.70 ZM296.90,572.70 L297.35,568.70 L297.85,568.70 L298.30,572.70 ZM298.90,572.70 L299.25,567.70 L299.75,567.70 L300.10,572.70 ZM301.70,572.70 L302.15,561.70 L302.65,561.70 L303.10,572.70 ZM313.40,572.70 L313.95,560.70 L314.45,560.70 L315.00,572.70 ZM315.40,572.70 L315.75,570.70 L316.25,570.70 L316.60,572.70 ZM323.40,572.70 L323.85,565.70 L324.35,565.70 L324.80,572.70 ZM325.50,572.70 L325.75,570.70 L326.25,570.70 L326.50,572.70 ZM337.59,572.70 L338.09,572.04 L338.59,572.70 ZM295.68,572.70 L296.18,571.70 L296.68,572.70 ZM299.71,572.70 L300.21,572.31 L300.71,572.70 ZM331.11,572.70 L331.61,572.09 L332.11,572.70 ZM284.75,572.70 L285.25,572.25 L285.75,572.70 ZM255.85,572.70 L256.35,572.35 L256.85,572.70 ZM286.20,572.70 L286.70,572.34 L287.20,572.70 ZM258.80,572.70 L259.30,572.05 L259.80,572.70 ZM323.20,572.70 L323.70,571.78 L324.20,572.70 ZM286.17,572.70 L286.67,572.33 L287.17,572.70 ZM340.51,572.70 L341.01,572.35 L341.51,572.70 ZM325.48,572.70 L325.98,572.17 L326.48,572.70 ZM299.50,572.70 L300.00,572.09 L300.50,572.70 ZM313.12,572.70 L313.62,572.35 L314.12,572.70 ZM274.13,572.70 L274.63,572.16 L275.13,572.70 ZM332.58,572.70 L333.08,571.88 L333.58,572.70 ZM306.07,572.70 L306.57,572.39 L307.07,572.70 Z" fill="#b8123e" />
<line x1="360.80" y1="573.20" x2="482.50" y2="573.20" stroke="#b8b8b8" stroke-width="0.5" />
<path d="M381.60,573.20 L382.05,566.20 L382.55,566.20 L383.00,573.20 ZM389.30,573.20 L389.85,561.20 L390.35,561.20 L390.90,573.20 ZM412.20,573.20 L412.45,571.20 L412.95,571.20 L413.20,573.20 ZM418.00,573.20 L418.35,568.20 L418.85,568.20 L419.20,573.20 ZM422.30,573.20 L422.75,566.20 L423.25,566.20 L423.70,573.20 ZM426.30,573.20 L426.75,564.20 L427.25,564.20 L427.70,573.20 ZM432.50,573.20 L432.75,569.20 L433.25,569.20 L433.50,573.20 ZM441.30,573.20 L441.75,567.20 L442.25,567.20 L442.70,573.20 ZM445.60,573.20 L446.15,561.20 L446.65,561.20 L447.20,573.20 ZM449.50,573.20 L449.75,571.20 L450.25,571.20 L450.50,573.20 ZM461.50,573.20 L461.75,570.20 L462.25,570.20 L462.50,573.20 ZM467.50,573.20 L467.75,570.20 L468.25,570.20 L468.50,573.20 ZM457.89,573.20 L458.39,572.74 L458.89,573.20 ZM466.38,573.20 L466.88,572.75 L467.38,573.20 ZM412.69,573.20 L413.19,572.75 L413.69,573.20 ZM480.07,573.20 L480.57,572.82 L481.07,573.20 ZM478.22,573.20 L478.72,572.85 L479.22,573.20 ZM446.08,573.20 L446.58,572.04 L447.08,573.20 ZM420.89,573.20 L421.39,572.45 L421.89,573.20 ZM474.59,573.20 L475.09,572.87 L475.59,573.20 ZM392.90,573.20 L393.40,572.85 L393.90,573.20 ZM420.14,573.20 L420.64,572.87 L421.14,573.20 ZM418.23,573.20 L418.73,572.63 L419.23,573.20 ZM387.24,573.20 L387.74,572.81 L388.24,573.20 ZM421.11,573.20 L421.61,572.87 L422.11,573.20 ZM397.71,573.20 L398.21,572.47 L398.71,573.20 ZM405.37,573.20 L405.87,572.44 L406.37,573.20 ZM429.46,573.20 L429.96,572.82 L430.46,573.20 ZM441.55,573.20 L442.05,572.86 L442.55,573.20 Z" fill="#b8123e" />
<line x1="256.20" y1="587.10" x2="358.40" y2="587.10" stroke="#b8b8b8" stroke-width="0.5" />
<path d="M280.10,587.10 L280.75,584.10 L281.25,584.10 L281.90,587.10 ZM298.80,587.10 L299.25,578.10 L299.75,578.10 L300.20,587.10 ZM298.00,587.10 L300.25,582.10 L300.75,582.10 L303.00,587.10 ZM302.25,587.10 L302.75,582.10 L303.25,582.10 L303.75,587.10 ZM313.75,587.10 L315.25,584.60 L315.75,584.60 L317.25,587.10 ZM323.60,587.10 L324.25,585.10 L324.75,585.10 L325.40,587.10 Z" fill="#2ba02b" />
<line x1="360.80" y1="587.30" x2="482.50" y2="587.30" stroke="#b8b8b8" stroke-width="0.5" />
<path d="M381.70,587.30 L382.05,584.30 L382.55,584.30 L382.90,587.30 ZM389.50,587.30 L389.85,583.30 L390.35,583.30 L390.70,587.30 ZM422.30,587.30 L422.75,576.30 L423.25,576.30 L423.70,587.30 ZM421.50,587.30 L424.25,581.30 L424.75,581.30 L427.50,587.30 ZM426.30,587.30 L426.75,581.30 L427.25,581.30 L427.70,587.30 ZM441.50,587.30 L441.75,585.30 L442.25,585.30 L442.50,587.30 ZM445.90,587.30 L446.15,585.30 L446.65,585.30 L446.90,587.30 Z" fill="#2ba02b" />
<line x1="256.20" y1="602.00" x2="358.40" y2="602.00" stroke="#b8b8b8" stroke-width="0.5" />
<path d="M280.10,602.00 L280.75,599.00 L281.25,599.00 L281.90,602.00 ZM299.00,602.00 L300.75,597.00 L301.25,597.00 L303.00,602.00 ZM299.30,602.00 L299.75,596.50 L300.25,596.50 L300.70,602.00 ZM313.25,602.00 L314.25,599.00 L314.75,599.00 L315.75,602.00 ZM323.60,602.00 L324.25,600.00 L324.75,600.00 L325.40,602.00 Z" fill="#2ba02b" />
<line x1="360.80" y1="602.30" x2="482.50" y2="602.30" stroke="#b8b8b8" stroke-width="0.5" />
<path d="M381.70,602.30 L382.05,598.30 L382.55,598.30 L382.90,602.30 ZM389.50,602.30 L389.85,597.30 L390.35,597.30 L390.70,602.30 ZM422.30,602.30 L422.75,596.30 L423.25,596.30 L423.70,602.30 ZM426.30,602.30 L426.75,598.30 L427.25,598.30 L427.70,602.30 ZM445.90,602.30 L446.15,599.30 L446.65,599.30 L446.90,602.30 Z" fill="#2ba02b" />
<text x="256.2" y="548.6" font-size="5.6" textLength="21.0" lengthAdjust="spacingAndGlyphs"  stroke="#2b2b2b" stroke-width="0.08">[0 - 3.00]</text>
<text x="256.2" y="563.2" font-size="5.6" textLength="21.0" lengthAdjust="spacingAndGlyphs"  stroke="#2b2b2b" stroke-width="0.08">[0 - 3.00]</text>
<text x="256.2" y="579.0" font-size="5.6" textLength="16.0" lengthAdjust="spacingAndGlyphs"  stroke="#2b2b2b" stroke-width="0.08">[0 - 20]</text>
<text x="256.2" y="593.5" font-size="5.6" textLength="16.0" lengthAdjust="spacingAndGlyphs"  stroke="#2b2b2b" stroke-width="0.08">[0 - 20]</text>
<text x="360.8" y="547.7" font-size="5.6" textLength="21.0" lengthAdjust="spacingAndGlyphs"  stroke="#2b2b2b" stroke-width="0.08">[0 - 3.00]</text>
<text x="360.8" y="563.3" font-size="5.6" textLength="21.0" lengthAdjust="spacingAndGlyphs"  stroke="#2b2b2b" stroke-width="0.08">[0 - 3.00]</text>
<text x="360.8" y="578.4" font-size="5.6" textLength="16.0" lengthAdjust="spacingAndGlyphs"  stroke="#2b2b2b" stroke-width="0.08">[0 - 20]</text>
<text x="360.8" y="593.4" font-size="5.6" textLength="16.0" lengthAdjust="spacingAndGlyphs"  stroke="#2b2b2b" stroke-width="0.08">[0 - 20]</text>
<text x="343.0" y="540.2" font-size="6.2" textLength="13.8" lengthAdjust="spacingAndGlyphs"  stroke="#2b2b2b" stroke-width="0.08">2 Kbp</text>
<line x1="348.70" y1="541.60" x2="352.50" y2="541.60" stroke="#333" stroke-width="0.6" />
<text x="469.0" y="540.2" font-size="6.2" textLength="17.3" lengthAdjust="spacingAndGlyphs"  stroke="#2b2b2b" stroke-width="0.08">10 Kbp</text>
<line x1="474.80" y1="542.30" x2="480.60" y2="542.30" stroke="#333" stroke-width="0.6" />
<line x1="256.70" y1="607.00" x2="261.50" y2="607.00" stroke="#3a4a6a" stroke-width="0.7" />
<path d="M257.5,606.0 L258.7,607.0 L257.5,608.0" fill="none" stroke="#3a4a6a" stroke-width="0.4" />
<rect x="256.70" y="605.20" width="0.60" height="3.60" fill="#3a4a6a" />
<rect x="259.50" y="605.20" width="1.00" height="3.60" fill="#3a4a6a" />
<line x1="262.60" y1="607.00" x2="273.00" y2="607.00" stroke="#3a5a90" stroke-width="0.7" />
<path d="M263.4,606.0 L264.6,607.0 L263.4,608.0" fill="none" stroke="#3a5a90" stroke-width="0.4" />
<path d="M266.4,606.0 L267.6,607.0 L266.4,608.0" fill="none" stroke="#3a5a90" stroke-width="0.4" />
<path d="M269.4,606.0 L270.6,607.0 L269.4,608.0" fill="none" stroke="#3a5a90" stroke-width="0.4" />
<rect x="263.50" y="605.20" width="1.00" height="3.60" fill="#3a5a90" />
<rect x="266.00" y="605.20" width="1.20" height="3.60" fill="#3a5a90" />
<rect x="269.00" y="605.20" width="1.00" height="3.60" fill="#3a5a90" />
<rect x="271.50" y="605.20" width="1.00" height="3.60" fill="#3a5a90" />
<line x1="274.00" y1="607.00" x2="296.40" y2="607.00" stroke="#6a90c0" stroke-width="0.7" />
<path d="M274.8,606.0 L276.0,607.0 L274.8,608.0" fill="none" stroke="#6a90c0" stroke-width="0.4" />
<path d="M277.8,606.0 L279.0,607.0 L277.8,608.0" fill="none" stroke="#6a90c0" stroke-width="0.4" />
<path d="M280.8,606.0 L282.0,607.0 L280.8,608.0" fill="none" stroke="#6a90c0" stroke-width="0.4" />
<path d="M283.8,606.0 L285.0,607.0 L283.8,608.0" fill="none" stroke="#6a90c0" stroke-width="0.4" />
<path d="M286.8,606.0 L288.0,607.0 L286.8,608.0" fill="none" stroke="#6a90c0" stroke-width="0.4" />
<path d="M289.8,606.0 L291.0,607.0 L289.8,608.0" fill="none" stroke="#6a90c0" stroke-width="0.4" />
<path d="M292.8,606.0 L294.0,607.0 L292.8,608.0" fill="none" stroke="#6a90c0" stroke-width="0.4" />
<rect x="276.00" y="605.20" width="1.50" height="3.60" fill="#6a90c0" />
<rect x="279.50" y="605.20" width="1.20" height="3.60" fill="#6a90c0" />
<rect x="283.00" y="605.20" width="1.00" height="3.60" fill="#6a90c0" />
<line x1="299.60" y1="607.00" x2="307.00" y2="607.00" stroke="#111" stroke-width="0.7" />
<path d="M300.4,606.0 L301.6,607.0 L300.4,608.0" fill="none" stroke="#111" stroke-width="0.4" />
<path d="M303.4,606.0 L304.6,607.0 L303.4,608.0" fill="none" stroke="#111" stroke-width="0.4" />
<rect x="300.00" y="605.20" width="1.50" height="3.60" fill="#111" />
<rect x="302.50" y="605.20" width="2.00" height="3.60" fill="#111" />
<rect x="305.50" y="605.20" width="1.00" height="3.60" fill="#111" />
<line x1="314.40" y1="607.00" x2="325.00" y2="607.00" stroke="#333" stroke-width="0.7" />
<path d="M315.2,606.0 L316.4,607.0 L315.2,608.0" fill="none" stroke="#333" stroke-width="0.4" />
<path d="M318.2,606.0 L319.4,607.0 L318.2,608.0" fill="none" stroke="#333" stroke-width="0.4" />
<path d="M321.2,606.0 L322.4,607.0 L321.2,608.0" fill="none" stroke="#333" stroke-width="0.4" />
<rect x="314.80" y="605.20" width="2.00" height="3.60" fill="#333" />
<rect x="318.00" y="605.20" width="2.50" height="3.60" fill="#333" />
<rect x="321.50" y="605.20" width="2.00" height="3.60" fill="#333" />
<rect x="324.00" y="605.20" width="1.00" height="3.60" fill="#333" />
<line x1="325.00" y1="607.00" x2="357.70" y2="607.00" stroke="#3a5a90" stroke-width="0.7" />
<path d="M325.8,606.0 L327.0,607.0 L325.8,608.0" fill="none" stroke="#3a5a90" stroke-width="0.4" />
<path d="M328.8,606.0 L330.0,607.0 L328.8,608.0" fill="none" stroke="#3a5a90" stroke-width="0.4" />
<path d="M331.8,606.0 L333.0,607.0 L331.8,608.0" fill="none" stroke="#3a5a90" stroke-width="0.4" />
<path d="M334.8,606.0 L336.0,607.0 L334.8,608.0" fill="none" stroke="#3a5a90" stroke-width="0.4" />
<path d="M337.8,606.0 L339.0,607.0 L337.8,608.0" fill="none" stroke="#3a5a90" stroke-width="0.4" />
<path d="M340.8,606.0 L342.0,607.0 L340.8,608.0" fill="none" stroke="#3a5a90" stroke-width="0.4" />
<path d="M343.8,606.0 L345.0,607.0 L343.8,608.0" fill="none" stroke="#3a5a90" stroke-width="0.4" />
<path d="M346.8,606.0 L348.0,607.0 L346.8,608.0" fill="none" stroke="#3a5a90" stroke-width="0.4" />
<path d="M349.8,606.0 L351.0,607.0 L349.8,608.0" fill="none" stroke="#3a5a90" stroke-width="0.4" />
<path d="M352.8,606.0 L354.0,607.0 L352.8,608.0" fill="none" stroke="#3a5a90" stroke-width="0.4" />
<rect x="326.00" y="605.20" width="2.00" height="3.60" fill="#3a5a90" />
<rect x="330.00" y="605.20" width="1.50" height="3.60" fill="#3a5a90" />
<rect x="334.00" y="605.20" width="1.50" height="3.60" fill="#3a5a90" />
<rect x="339.00" y="605.20" width="1.20" height="3.60" fill="#3a5a90" />
<rect x="344.00" y="605.20" width="1.20" height="3.60" fill="#3a5a90" />
<rect x="348.00" y="605.20" width="1.00" height="3.60" fill="#3a5a90" />
<rect x="352.00" y="605.20" width="1.00" height="3.60" fill="#3a5a90" />
<line x1="366.20" y1="607.00" x2="383.70" y2="607.00" stroke="#4a7ab0" stroke-width="0.7" />
<path d="M367.0,606.0 L368.2,607.0 L367.0,608.0" fill="none" stroke="#4a7ab0" stroke-width="0.4" />
<path d="M370.0,606.0 L371.2,607.0 L370.0,608.0" fill="none" stroke="#4a7ab0" stroke-width="0.4" />
<path d="M373.0,606.0 L374.2,607.0 L373.0,608.0" fill="none" stroke="#4a7ab0" stroke-width="0.4" />
<path d="M376.0,606.0 L377.2,607.0 L376.0,608.0" fill="none" stroke="#4a7ab0" stroke-width="0.4" />
<path d="M379.0,606.0 L380.2,607.0 L379.0,608.0" fill="none" stroke="#4a7ab0" stroke-width="0.4" />
<rect x="366.50" y="605.20" width="1.20" height="3.60" fill="#4a7ab0" />
<rect x="382.50" y="605.20" width="1.00" height="3.60" fill="#4a7ab0" />
<line x1="390.00" y1="607.00" x2="415.00" y2="607.00" stroke="#444" stroke-width="0.7" />
<path d="M390.8,606.0 L392.0,607.0 L390.8,608.0" fill="none" stroke="#444" stroke-width="0.4" />
<path d="M393.8,606.0 L395.0,607.0 L393.8,608.0" fill="none" stroke="#444" stroke-width="0.4" />
<path d="M396.8,606.0 L398.0,607.0 L396.8,608.0" fill="none" stroke="#444" stroke-width="0.4" />
<path d="M399.8,606.0 L401.0,607.0 L399.8,608.0" fill="none" stroke="#444" stroke-width="0.4" />
<path d="M402.8,606.0 L404.0,607.0 L402.8,608.0" fill="none" stroke="#444" stroke-width="0.4" />
<path d="M405.8,606.0 L407.0,607.0 L405.8,608.0" fill="none" stroke="#444" stroke-width="0.4" />
<path d="M408.8,606.0 L410.0,607.0 L408.8,608.0" fill="none" stroke="#444" stroke-width="0.4" />
<path d="M411.8,606.0 L413.0,607.0 L411.8,608.0" fill="none" stroke="#444" stroke-width="0.4" />
<rect x="390.50" y="605.20" width="3.00" height="3.60" fill="#444" />
<rect x="394.00" y="605.20" width="3.00" height="3.60" fill="#444" />
<rect x="398.00" y="605.20" width="2.00" height="3.60" fill="#444" />
<rect x="402.00" y="605.20" width="1.50" height="3.60" fill="#444" />
<rect x="406.00" y="605.20" width="1.50" height="3.60" fill="#444" />
<rect x="410.00" y="605.20" width="1.50" height="3.60" fill="#444" />
<rect x="413.50" y="605.20" width="1.20" height="3.60" fill="#444" />
<rect x="390.00" y="605.20" width="8.00" height="3.60" fill="#8a8a8a" />
<line x1="422.50" y1="607.00" x2="433.70" y2="607.00" stroke="#111" stroke-width="0.7" />
<path d="M423.3,606.0 L424.5,607.0 L423.3,608.0" fill="none" stroke="#111" stroke-width="0.4" />
<path d="M426.3,606.0 L427.5,607.0 L426.3,608.0" fill="none" stroke="#111" stroke-width="0.4" />
<path d="M429.3,606.0 L430.5,607.0 L429.3,608.0" fill="none" stroke="#111" stroke-width="0.4" />
<rect x="422.80" y="605.20" width="1.00" height="3.60" fill="#111" />
<rect x="426.00" y="605.20" width="1.20" height="3.60" fill="#111" />
<rect x="428.50" y="605.20" width="1.00" height="3.60" fill="#111" />
<circle cx="432.3" cy="607.0" r="1.6" fill="#111"/>
<rect x="441.20" y="605.00" width="0.90" height="4.00" fill="#222" />
<rect x="443.80" y="605.00" width="0.90" height="4.00" fill="#222" />
<line x1="452.50" y1="607.00" x2="471.00" y2="607.00" stroke="#5a84b8" stroke-width="0.7" />
<path d="M453.3,606.0 L454.5,607.0 L453.3,608.0" fill="none" stroke="#5a84b8" stroke-width="0.4" />
<path d="M456.3,606.0 L457.5,607.0 L456.3,608.0" fill="none" stroke="#5a84b8" stroke-width="0.4" />
<path d="M459.3,606.0 L460.5,607.0 L459.3,608.0" fill="none" stroke="#5a84b8" stroke-width="0.4" />
<path d="M462.3,606.0 L463.5,607.0 L462.3,608.0" fill="none" stroke="#5a84b8" stroke-width="0.4" />
<path d="M465.3,606.0 L466.5,607.0 L465.3,608.0" fill="none" stroke="#5a84b8" stroke-width="0.4" />
<path d="M468.3,606.0 L469.5,607.0 L468.3,608.0" fill="none" stroke="#5a84b8" stroke-width="0.4" />
<rect x="453.00" y="605.20" width="1.50" height="3.60" fill="#5a84b8" />
<rect x="458.00" y="605.20" width="1.20" height="3.60" fill="#5a84b8" />
<rect x="462.00" y="605.20" width="1.20" height="3.60" fill="#5a84b8" />
<rect x="466.00" y="605.20" width="1.20" height="3.60" fill="#5a84b8" />
<rect x="470.00" y="605.20" width="1.00" height="3.60" fill="#5a84b8" />
<text transform="translate(262.9,614.7) rotate(-45)" x="0" y="0" font-size="5.5" text-anchor="end" fill="#2b2b2b" stroke="#2b2b2b" stroke-width="0.08">Sycn2</text>
<text transform="translate(276.6,614.7) rotate(-45)" x="0" y="0" font-size="5.5" text-anchor="end" fill="#2b2b2b" stroke="#2b2b2b" stroke-width="0.08">Gcdh</text>
<text transform="translate(294.6,614.7) rotate(-45)" x="0" y="0" font-size="5.5" text-anchor="end" fill="#2b2b2b" stroke="#2b2b2b" stroke-width="0.08">Gm39213</text>
<text transform="translate(308.3,614.7) rotate(-45)" x="0" y="0" font-size="5.5" text-anchor="end" fill="#2b2b2b" stroke="#2b2b2b" stroke-width="0.08">Klf1</text>
<text transform="translate(324.2,614.7) rotate(-45)" x="0" y="0" font-size="5.5" text-anchor="end" fill="#2b2b2b" stroke="#2b2b2b" stroke-width="0.08">Dnase2a</text>
<text transform="translate(350.6,614.7) rotate(-45)" x="0" y="0" font-size="5.5" text-anchor="end" fill="#2b2b2b" stroke="#2b2b2b" stroke-width="0.08">Mast1</text>
<text transform="translate(384.0,614.7) rotate(-45)" x="0" y="0" font-size="5.5" text-anchor="end" fill="#2b2b2b" stroke="#2b2b2b" stroke-width="0.08">Cmpk1</text>
<text transform="translate(406.3,616.5) rotate(-45)" x="0" y="0" font-size="5.5" text-anchor="end" fill="#2b2b2b" stroke="#2b2b2b" stroke-width="0.08">Stil</text>
<text transform="translate(427.8,616.0) rotate(-45)" x="0" y="0" font-size="5.5" text-anchor="end" fill="#2b2b2b" stroke="#2b2b2b" stroke-width="0.08">Tal1</text>
<text transform="translate(447.8,616.0) rotate(-45)" x="0" y="0" font-size="5.5" text-anchor="end" fill="#2b2b2b" stroke="#2b2b2b" stroke-width="0.08">Pdzk1ip1</text>
<text transform="translate(467.8,616.0) rotate(-45)" x="0" y="0" font-size="5.5" text-anchor="end" fill="#2b2b2b" stroke="#2b2b2b" stroke-width="0.08">Cyp4x1</text>
<line x1="256.20" y1="633.80" x2="357.50" y2="633.80" stroke="#bbbbbb" stroke-width="0.6" />
<line x1="362.00" y1="633.80" x2="483.50" y2="633.80" stroke="#bbbbbb" stroke-width="0.6" />
<line x1="256.20" y1="648.00" x2="357.50" y2="648.00" stroke="#bbbbbb" stroke-width="0.6" />
<line x1="362.00" y1="648.00" x2="483.50" y2="648.00" stroke="#bbbbbb" stroke-width="0.6" />
<line x1="256.20" y1="662.70" x2="357.50" y2="662.70" stroke="#bbbbbb" stroke-width="0.6" />
<line x1="362.00" y1="662.70" x2="483.50" y2="662.70" stroke="#bbbbbb" stroke-width="0.6" />
<rect x="280.75" y="638.80" width="0.90" height="3.60" fill="#a01030" />
<rect x="297.00" y="638.80" width="2.40" height="3.60" fill="#a01030" />
<rect x="301.90" y="638.80" width="0.80" height="3.60" fill="#e06070" />
<rect x="313.60" y="638.80" width="0.80" height="3.60" fill="#e08a98" />
<rect x="324.20" y="638.80" width="0.80" height="3.60" fill="#e07080" />
<rect x="326.10" y="638.80" width="0.80" height="3.60" fill="#e07080" />
<rect x="389.95" y="638.80" width="0.90" height="3.60" fill="#a03040" />
<rect x="412.30" y="638.80" width="0.80" height="3.60" fill="#c08090" />
<rect x="417.60" y="638.80" width="0.80" height="3.60" fill="#f0a0b0" />
<rect x="422.60" y="638.80" width="0.80" height="3.60" fill="#e06070" />
<rect x="427.10" y="638.80" width="0.80" height="3.60" fill="#e07080" />
<rect x="440.80" y="638.80" width="0.80" height="3.60" fill="#e07080" />
<rect x="442.50" y="638.80" width="0.80" height="3.60" fill="#e06070" />
<rect x="446.05" y="638.80" width="0.90" height="3.60" fill="#c01030" />
<rect x="279.65" y="654.20" width="0.70" height="3.80" fill="#80c080" />
<rect x="281.55" y="654.20" width="0.70" height="3.80" fill="#80c080" />
<rect x="297.10" y="654.20" width="1.20" height="3.80" fill="#2a9a3a" />
<rect x="298.80" y="654.20" width="1.60" height="3.80" fill="#2a9a3a" />
<rect x="301.70" y="654.20" width="1.20" height="3.80" fill="#2a9a3a" />
<rect x="315.90" y="654.20" width="0.80" height="3.80" fill="#3a9a4a" />
<rect x="418.40" y="654.20" width="0.80" height="3.80" fill="#50b060" />
<rect x="423.45" y="654.20" width="0.90" height="3.80" fill="#2a9a3a" />
<rect x="426.85" y="654.20" width="0.90" height="3.80" fill="#2a9a3a" />
<rect x="441.90" y="654.20" width="0.80" height="3.80" fill="#90c090" />
<rect x="446.20" y="654.20" width="0.80" height="3.80" fill="#90c090" />
<rect x="0.5" y="0.5" width="519" height="669" fill="none" stroke="#4a4a4a" stroke-width="1"/>
</svg>
</body></html>
